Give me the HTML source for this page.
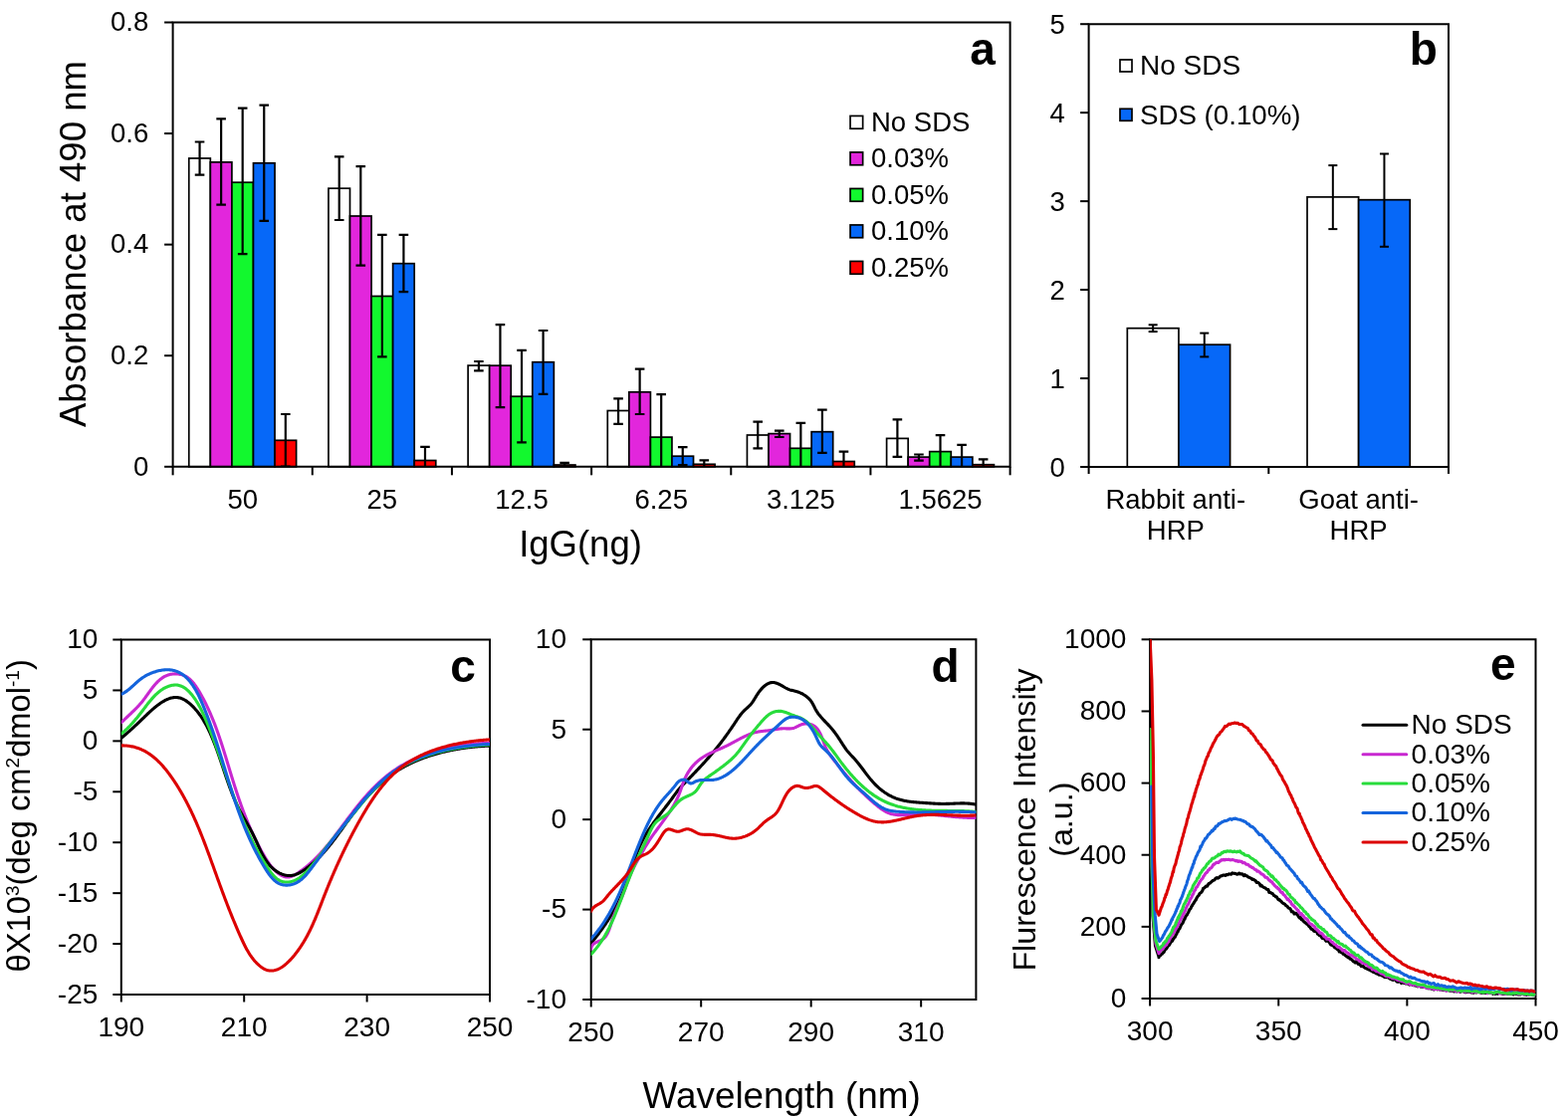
<!DOCTYPE html>
<html><head><meta charset="utf-8"><title>Figure</title>
<style>html,body{margin:0;padding:0;background:#fff;overflow:hidden;width:1575px;height:1123px;}svg{display:block;}text{font-family:"Liberation Sans", Arial, sans-serif;fill:#000;}</style>
</head><body>
<svg width="1575" height="1123" viewBox="0 0 1575 1123">
<rect x="0" y="0" width="1575" height="1123" fill="#fff"/>
<clipPath id="ca"><rect x="173.6" y="22.5" width="841.0" height="446.3"/></clipPath>
<rect x="189.77" y="159.00" width="21.56" height="309.80" fill="#ffffff" stroke="#000" stroke-width="1.7"/>
<rect x="211.34" y="162.90" width="21.56" height="305.90" fill="#e226dc" stroke="#000" stroke-width="1.7"/>
<rect x="232.90" y="183.20" width="21.56" height="285.60" fill="#12f82e" stroke="#000" stroke-width="1.7"/>
<rect x="254.47" y="163.80" width="21.56" height="305.00" fill="#0668f8" stroke="#000" stroke-width="1.7"/>
<rect x="276.03" y="442.30" width="21.56" height="26.50" fill="#ff0000" stroke="#000" stroke-width="1.7"/>
<g clip-path="url(#ca)">
<line x1="200.56" y1="142.50" x2="200.56" y2="175.60" stroke="#000" stroke-width="2.2" />
<line x1="195.76" y1="142.50" x2="205.36" y2="142.50" stroke="#000" stroke-width="2.2" />
<line x1="195.76" y1="175.60" x2="205.36" y2="175.60" stroke="#000" stroke-width="2.2" />
</g>
<g clip-path="url(#ca)">
<line x1="222.12" y1="119.40" x2="222.12" y2="205.70" stroke="#000" stroke-width="2.2" />
<line x1="217.32" y1="119.40" x2="226.92" y2="119.40" stroke="#000" stroke-width="2.2" />
<line x1="217.32" y1="205.70" x2="226.92" y2="205.70" stroke="#000" stroke-width="2.2" />
</g>
<g clip-path="url(#ca)">
<line x1="243.68" y1="108.60" x2="243.68" y2="255.20" stroke="#000" stroke-width="2.2" />
<line x1="238.88" y1="108.60" x2="248.48" y2="108.60" stroke="#000" stroke-width="2.2" />
<line x1="238.88" y1="255.20" x2="248.48" y2="255.20" stroke="#000" stroke-width="2.2" />
</g>
<g clip-path="url(#ca)">
<line x1="265.25" y1="105.70" x2="265.25" y2="221.90" stroke="#000" stroke-width="2.2" />
<line x1="260.45" y1="105.70" x2="270.05" y2="105.70" stroke="#000" stroke-width="2.2" />
<line x1="260.45" y1="221.90" x2="270.05" y2="221.90" stroke="#000" stroke-width="2.2" />
</g>
<g clip-path="url(#ca)">
<line x1="286.81" y1="416.00" x2="286.81" y2="468.60" stroke="#000" stroke-width="2.2" />
<line x1="282.01" y1="416.00" x2="291.61" y2="416.00" stroke="#000" stroke-width="2.2" />
<line x1="282.01" y1="468.60" x2="291.61" y2="468.60" stroke="#000" stroke-width="2.2" />
</g>
<rect x="329.94" y="189.20" width="21.56" height="279.60" fill="#ffffff" stroke="#000" stroke-width="1.7"/>
<rect x="351.50" y="217.00" width="21.56" height="251.80" fill="#e226dc" stroke="#000" stroke-width="1.7"/>
<rect x="373.07" y="297.50" width="21.56" height="171.30" fill="#12f82e" stroke="#000" stroke-width="1.7"/>
<rect x="394.63" y="264.70" width="21.56" height="204.10" fill="#0668f8" stroke="#000" stroke-width="1.7"/>
<rect x="416.20" y="462.50" width="21.56" height="6.30" fill="#ff0000" stroke="#000" stroke-width="1.7"/>
<g clip-path="url(#ca)">
<line x1="340.72" y1="157.40" x2="340.72" y2="221.00" stroke="#000" stroke-width="2.2" />
<line x1="335.92" y1="157.40" x2="345.52" y2="157.40" stroke="#000" stroke-width="2.2" />
<line x1="335.92" y1="221.00" x2="345.52" y2="221.00" stroke="#000" stroke-width="2.2" />
</g>
<g clip-path="url(#ca)">
<line x1="362.29" y1="167.10" x2="362.29" y2="266.60" stroke="#000" stroke-width="2.2" />
<line x1="357.49" y1="167.10" x2="367.09" y2="167.10" stroke="#000" stroke-width="2.2" />
<line x1="357.49" y1="266.60" x2="367.09" y2="266.60" stroke="#000" stroke-width="2.2" />
</g>
<g clip-path="url(#ca)">
<line x1="383.85" y1="235.80" x2="383.85" y2="358.40" stroke="#000" stroke-width="2.2" />
<line x1="379.05" y1="235.80" x2="388.65" y2="235.80" stroke="#000" stroke-width="2.2" />
<line x1="379.05" y1="358.40" x2="388.65" y2="358.40" stroke="#000" stroke-width="2.2" />
</g>
<g clip-path="url(#ca)">
<line x1="405.41" y1="235.80" x2="405.41" y2="293.20" stroke="#000" stroke-width="2.2" />
<line x1="400.61" y1="235.80" x2="410.21" y2="235.80" stroke="#000" stroke-width="2.2" />
<line x1="400.61" y1="293.20" x2="410.21" y2="293.20" stroke="#000" stroke-width="2.2" />
</g>
<g clip-path="url(#ca)">
<line x1="426.98" y1="448.80" x2="426.98" y2="476.00" stroke="#000" stroke-width="2.2" />
<line x1="422.18" y1="448.80" x2="431.78" y2="448.80" stroke="#000" stroke-width="2.2" />
<line x1="422.18" y1="476.00" x2="431.78" y2="476.00" stroke="#000" stroke-width="2.2" />
</g>
<rect x="470.11" y="367.10" width="21.56" height="101.70" fill="#ffffff" stroke="#000" stroke-width="1.7"/>
<rect x="491.67" y="367.20" width="21.56" height="101.60" fill="#e226dc" stroke="#000" stroke-width="1.7"/>
<rect x="513.23" y="398.20" width="21.56" height="70.60" fill="#12f82e" stroke="#000" stroke-width="1.7"/>
<rect x="534.80" y="363.70" width="21.56" height="105.10" fill="#0668f8" stroke="#000" stroke-width="1.7"/>
<rect x="556.36" y="467.00" width="21.56" height="1.80" fill="#ff0000" stroke="#000" stroke-width="1.7"/>
<g clip-path="url(#ca)">
<line x1="480.89" y1="363.00" x2="480.89" y2="372.30" stroke="#000" stroke-width="2.2" />
<line x1="476.09" y1="363.00" x2="485.69" y2="363.00" stroke="#000" stroke-width="2.2" />
<line x1="476.09" y1="372.30" x2="485.69" y2="372.30" stroke="#000" stroke-width="2.2" />
</g>
<g clip-path="url(#ca)">
<line x1="502.45" y1="326.20" x2="502.45" y2="409.10" stroke="#000" stroke-width="2.2" />
<line x1="497.65" y1="326.20" x2="507.25" y2="326.20" stroke="#000" stroke-width="2.2" />
<line x1="497.65" y1="409.10" x2="507.25" y2="409.10" stroke="#000" stroke-width="2.2" />
</g>
<g clip-path="url(#ca)">
<line x1="524.02" y1="351.90" x2="524.02" y2="444.40" stroke="#000" stroke-width="2.2" />
<line x1="519.22" y1="351.90" x2="528.82" y2="351.90" stroke="#000" stroke-width="2.2" />
<line x1="519.22" y1="444.40" x2="528.82" y2="444.40" stroke="#000" stroke-width="2.2" />
</g>
<g clip-path="url(#ca)">
<line x1="545.58" y1="332.00" x2="545.58" y2="395.80" stroke="#000" stroke-width="2.2" />
<line x1="540.78" y1="332.00" x2="550.38" y2="332.00" stroke="#000" stroke-width="2.2" />
<line x1="540.78" y1="395.80" x2="550.38" y2="395.80" stroke="#000" stroke-width="2.2" />
</g>
<g clip-path="url(#ca)">
<line x1="567.14" y1="464.80" x2="567.14" y2="469.00" stroke="#000" stroke-width="2.2" />
<line x1="562.34" y1="464.80" x2="571.94" y2="464.80" stroke="#000" stroke-width="2.2" />
<line x1="562.34" y1="469.00" x2="571.94" y2="469.00" stroke="#000" stroke-width="2.2" />
</g>
<rect x="610.27" y="412.50" width="21.56" height="56.30" fill="#ffffff" stroke="#000" stroke-width="1.7"/>
<rect x="631.84" y="393.80" width="21.56" height="75.00" fill="#e226dc" stroke="#000" stroke-width="1.7"/>
<rect x="653.40" y="439.10" width="21.56" height="29.70" fill="#12f82e" stroke="#000" stroke-width="1.7"/>
<rect x="674.97" y="458.20" width="21.56" height="10.60" fill="#0668f8" stroke="#000" stroke-width="1.7"/>
<rect x="696.53" y="466.30" width="21.56" height="2.50" fill="#ff0000" stroke="#000" stroke-width="1.7"/>
<g clip-path="url(#ca)">
<line x1="621.06" y1="400.40" x2="621.06" y2="425.80" stroke="#000" stroke-width="2.2" />
<line x1="616.26" y1="400.40" x2="625.86" y2="400.40" stroke="#000" stroke-width="2.2" />
<line x1="616.26" y1="425.80" x2="625.86" y2="425.80" stroke="#000" stroke-width="2.2" />
</g>
<g clip-path="url(#ca)">
<line x1="642.62" y1="370.60" x2="642.62" y2="416.00" stroke="#000" stroke-width="2.2" />
<line x1="637.82" y1="370.60" x2="647.42" y2="370.60" stroke="#000" stroke-width="2.2" />
<line x1="637.82" y1="416.00" x2="647.42" y2="416.00" stroke="#000" stroke-width="2.2" />
</g>
<g clip-path="url(#ca)">
<line x1="664.18" y1="396.10" x2="664.18" y2="482.00" stroke="#000" stroke-width="2.2" />
<line x1="659.38" y1="396.10" x2="668.98" y2="396.10" stroke="#000" stroke-width="2.2" />
<line x1="659.38" y1="482.00" x2="668.98" y2="482.00" stroke="#000" stroke-width="2.2" />
</g>
<g clip-path="url(#ca)">
<line x1="685.75" y1="449.20" x2="685.75" y2="467.20" stroke="#000" stroke-width="2.2" />
<line x1="680.95" y1="449.20" x2="690.55" y2="449.20" stroke="#000" stroke-width="2.2" />
<line x1="680.95" y1="467.20" x2="690.55" y2="467.20" stroke="#000" stroke-width="2.2" />
</g>
<g clip-path="url(#ca)">
<line x1="707.31" y1="462.30" x2="707.31" y2="470.00" stroke="#000" stroke-width="2.2" />
<line x1="702.51" y1="462.30" x2="712.11" y2="462.30" stroke="#000" stroke-width="2.2" />
<line x1="702.51" y1="470.00" x2="712.11" y2="470.00" stroke="#000" stroke-width="2.2" />
</g>
<rect x="750.44" y="437.00" width="21.56" height="31.80" fill="#ffffff" stroke="#000" stroke-width="1.7"/>
<rect x="772.00" y="435.60" width="21.56" height="33.20" fill="#e226dc" stroke="#000" stroke-width="1.7"/>
<rect x="793.57" y="450.30" width="21.56" height="18.50" fill="#12f82e" stroke="#000" stroke-width="1.7"/>
<rect x="815.13" y="433.70" width="21.56" height="35.10" fill="#0668f8" stroke="#000" stroke-width="1.7"/>
<rect x="836.70" y="463.50" width="21.56" height="5.30" fill="#ff0000" stroke="#000" stroke-width="1.7"/>
<g clip-path="url(#ca)">
<line x1="761.22" y1="423.70" x2="761.22" y2="450.30" stroke="#000" stroke-width="2.2" />
<line x1="756.42" y1="423.70" x2="766.02" y2="423.70" stroke="#000" stroke-width="2.2" />
<line x1="756.42" y1="450.30" x2="766.02" y2="450.30" stroke="#000" stroke-width="2.2" />
</g>
<g clip-path="url(#ca)">
<line x1="782.79" y1="432.60" x2="782.79" y2="439.00" stroke="#000" stroke-width="2.2" />
<line x1="777.99" y1="432.60" x2="787.59" y2="432.60" stroke="#000" stroke-width="2.2" />
<line x1="777.99" y1="439.00" x2="787.59" y2="439.00" stroke="#000" stroke-width="2.2" />
</g>
<g clip-path="url(#ca)">
<line x1="804.35" y1="424.80" x2="804.35" y2="476.00" stroke="#000" stroke-width="2.2" />
<line x1="799.55" y1="424.80" x2="809.15" y2="424.80" stroke="#000" stroke-width="2.2" />
<line x1="799.55" y1="476.00" x2="809.15" y2="476.00" stroke="#000" stroke-width="2.2" />
</g>
<g clip-path="url(#ca)">
<line x1="825.91" y1="411.60" x2="825.91" y2="454.80" stroke="#000" stroke-width="2.2" />
<line x1="821.11" y1="411.60" x2="830.71" y2="411.60" stroke="#000" stroke-width="2.2" />
<line x1="821.11" y1="454.80" x2="830.71" y2="454.80" stroke="#000" stroke-width="2.2" />
</g>
<g clip-path="url(#ca)">
<line x1="847.48" y1="453.60" x2="847.48" y2="473.40" stroke="#000" stroke-width="2.2" />
<line x1="842.68" y1="453.60" x2="852.28" y2="453.60" stroke="#000" stroke-width="2.2" />
<line x1="842.68" y1="473.40" x2="852.28" y2="473.40" stroke="#000" stroke-width="2.2" />
</g>
<rect x="890.61" y="440.40" width="21.56" height="28.40" fill="#ffffff" stroke="#000" stroke-width="1.7"/>
<rect x="912.17" y="459.10" width="21.56" height="9.70" fill="#e226dc" stroke="#000" stroke-width="1.7"/>
<rect x="933.73" y="453.60" width="21.56" height="15.20" fill="#12f82e" stroke="#000" stroke-width="1.7"/>
<rect x="955.30" y="459.10" width="21.56" height="9.70" fill="#0668f8" stroke="#000" stroke-width="1.7"/>
<rect x="976.86" y="466.70" width="21.56" height="2.10" fill="#ff0000" stroke="#000" stroke-width="1.7"/>
<g clip-path="url(#ca)">
<line x1="901.39" y1="421.30" x2="901.39" y2="458.80" stroke="#000" stroke-width="2.2" />
<line x1="896.59" y1="421.30" x2="906.19" y2="421.30" stroke="#000" stroke-width="2.2" />
<line x1="896.59" y1="458.80" x2="906.19" y2="458.80" stroke="#000" stroke-width="2.2" />
</g>
<g clip-path="url(#ca)">
<line x1="922.95" y1="456.50" x2="922.95" y2="462.70" stroke="#000" stroke-width="2.2" />
<line x1="918.15" y1="456.50" x2="927.75" y2="456.50" stroke="#000" stroke-width="2.2" />
<line x1="918.15" y1="462.70" x2="927.75" y2="462.70" stroke="#000" stroke-width="2.2" />
</g>
<g clip-path="url(#ca)">
<line x1="944.52" y1="437.20" x2="944.52" y2="470.00" stroke="#000" stroke-width="2.2" />
<line x1="939.72" y1="437.20" x2="949.32" y2="437.20" stroke="#000" stroke-width="2.2" />
<line x1="939.72" y1="470.00" x2="949.32" y2="470.00" stroke="#000" stroke-width="2.2" />
</g>
<g clip-path="url(#ca)">
<line x1="966.08" y1="446.90" x2="966.08" y2="471.30" stroke="#000" stroke-width="2.2" />
<line x1="961.28" y1="446.90" x2="970.88" y2="446.90" stroke="#000" stroke-width="2.2" />
<line x1="961.28" y1="471.30" x2="970.88" y2="471.30" stroke="#000" stroke-width="2.2" />
</g>
<g clip-path="url(#ca)">
<line x1="987.64" y1="461.30" x2="987.64" y2="472.00" stroke="#000" stroke-width="2.2" />
<line x1="982.84" y1="461.30" x2="992.44" y2="461.30" stroke="#000" stroke-width="2.2" />
<line x1="982.84" y1="472.00" x2="992.44" y2="472.00" stroke="#000" stroke-width="2.2" />
</g>
<path d="M173.6,468.8 V22.5 H1014.6 V468.8 Z" fill="none" stroke="#000" stroke-width="2"/>
<line x1="165.10" y1="468.80" x2="173.60" y2="468.80" stroke="#000" stroke-width="2" />
<text x="149.20" y="477.50" font-size="27.5" text-anchor="end" font-weight="normal" >0</text>
<line x1="165.10" y1="357.23" x2="173.60" y2="357.23" stroke="#000" stroke-width="2" />
<text x="149.20" y="365.93" font-size="27.5" text-anchor="end" font-weight="normal" >0.2</text>
<line x1="165.10" y1="245.65" x2="173.60" y2="245.65" stroke="#000" stroke-width="2" />
<text x="149.20" y="254.35" font-size="27.5" text-anchor="end" font-weight="normal" >0.4</text>
<line x1="165.10" y1="134.07" x2="173.60" y2="134.07" stroke="#000" stroke-width="2" />
<text x="149.20" y="142.77" font-size="27.5" text-anchor="end" font-weight="normal" >0.6</text>
<line x1="165.10" y1="22.50" x2="173.60" y2="22.50" stroke="#000" stroke-width="2" />
<text x="149.20" y="31.20" font-size="27.5" text-anchor="end" font-weight="normal" >0.8</text>
<line x1="173.60" y1="468.80" x2="173.60" y2="477.30" stroke="#000" stroke-width="2" />
<line x1="313.77" y1="468.80" x2="313.77" y2="477.30" stroke="#000" stroke-width="2" />
<line x1="453.93" y1="468.80" x2="453.93" y2="477.30" stroke="#000" stroke-width="2" />
<line x1="594.10" y1="468.80" x2="594.10" y2="477.30" stroke="#000" stroke-width="2" />
<line x1="734.27" y1="468.80" x2="734.27" y2="477.30" stroke="#000" stroke-width="2" />
<line x1="874.43" y1="468.80" x2="874.43" y2="477.30" stroke="#000" stroke-width="2" />
<line x1="1014.60" y1="468.80" x2="1014.60" y2="477.30" stroke="#000" stroke-width="2" />
<text x="243.68" y="510.80" font-size="27.5" text-anchor="middle" font-weight="normal" >50</text>
<text x="383.85" y="510.80" font-size="27.5" text-anchor="middle" font-weight="normal" >25</text>
<text x="524.02" y="510.80" font-size="27.5" text-anchor="middle" font-weight="normal" >12.5</text>
<text x="664.18" y="510.80" font-size="27.5" text-anchor="middle" font-weight="normal" >6.25</text>
<text x="804.35" y="510.80" font-size="27.5" text-anchor="middle" font-weight="normal" >3.125</text>
<text x="944.52" y="510.80" font-size="27.5" text-anchor="middle" font-weight="normal" >1.5625</text>
<text x="583.00" y="558.50" font-size="36.5" text-anchor="middle" font-weight="normal" >IgG(ng)</text>
<text x="0" y="0" font-size="36.6" text-anchor="middle" transform="translate(85.6,245.05) rotate(-90)">Absorbance at 490 nm</text>
<text x="987.00" y="64.60" font-size="46" text-anchor="middle" font-weight="bold" >a</text>
<rect x="854.05" y="116.45" width="12.60" height="12.80" fill="#ffffff" stroke="#000" stroke-width="1.7"/>
<text x="875.00" y="131.60" font-size="27.5" text-anchor="start" font-weight="normal" >No SDS</text>
<rect x="854.05" y="152.95" width="12.60" height="12.80" fill="#e226dc" stroke="#000" stroke-width="1.7"/>
<text x="875.00" y="168.10" font-size="27.5" text-anchor="start" font-weight="normal" >0.03%</text>
<rect x="854.05" y="189.45" width="12.60" height="12.80" fill="#12f82e" stroke="#000" stroke-width="1.7"/>
<text x="875.00" y="204.60" font-size="27.5" text-anchor="start" font-weight="normal" >0.05%</text>
<rect x="854.05" y="225.95" width="12.60" height="12.80" fill="#0668f8" stroke="#000" stroke-width="1.7"/>
<text x="875.00" y="241.10" font-size="27.5" text-anchor="start" font-weight="normal" >0.10%</text>
<rect x="854.05" y="262.45" width="12.60" height="12.80" fill="#ff0000" stroke="#000" stroke-width="1.7"/>
<text x="875.00" y="277.60" font-size="27.5" text-anchor="start" font-weight="normal" >0.25%</text>
<rect x="1132.32" y="329.70" width="51.63" height="139.30" fill="#ffffff" stroke="#000" stroke-width="1.7"/>
<rect x="1183.95" y="346.20" width="51.63" height="122.80" fill="#0668f8" stroke="#000" stroke-width="1.7"/>
<line x1="1158.14" y1="326.30" x2="1158.14" y2="333.10" stroke="#000" stroke-width="2.0" />
<line x1="1153.64" y1="326.30" x2="1162.64" y2="326.30" stroke="#000" stroke-width="2.0" />
<line x1="1153.64" y1="333.10" x2="1162.64" y2="333.10" stroke="#000" stroke-width="2.0" />
<line x1="1209.76" y1="334.60" x2="1209.76" y2="358.40" stroke="#000" stroke-width="2.0" />
<line x1="1205.26" y1="334.60" x2="1214.26" y2="334.60" stroke="#000" stroke-width="2.0" />
<line x1="1205.26" y1="358.40" x2="1214.26" y2="358.40" stroke="#000" stroke-width="2.0" />
<rect x="1313.02" y="197.90" width="51.63" height="271.10" fill="#ffffff" stroke="#000" stroke-width="1.7"/>
<rect x="1364.65" y="200.70" width="51.63" height="268.30" fill="#0668f8" stroke="#000" stroke-width="1.7"/>
<line x1="1338.84" y1="166.10" x2="1338.84" y2="230.10" stroke="#000" stroke-width="2.0" />
<line x1="1334.34" y1="166.10" x2="1343.34" y2="166.10" stroke="#000" stroke-width="2.0" />
<line x1="1334.34" y1="230.10" x2="1343.34" y2="230.10" stroke="#000" stroke-width="2.0" />
<line x1="1390.46" y1="154.50" x2="1390.46" y2="247.80" stroke="#000" stroke-width="2.0" />
<line x1="1385.96" y1="154.50" x2="1394.96" y2="154.50" stroke="#000" stroke-width="2.0" />
<line x1="1385.96" y1="247.80" x2="1394.96" y2="247.80" stroke="#000" stroke-width="2.0" />
<path d="M1093.6,469.0 V24.2 H1455.0 V469.0 Z" fill="none" stroke="#000" stroke-width="2"/>
<line x1="1085.10" y1="469.00" x2="1093.60" y2="469.00" stroke="#000" stroke-width="2" />
<text x="1069.80" y="478.60" font-size="27.5" text-anchor="end" font-weight="normal" >0</text>
<line x1="1085.10" y1="380.04" x2="1093.60" y2="380.04" stroke="#000" stroke-width="2" />
<text x="1069.80" y="389.64" font-size="27.5" text-anchor="end" font-weight="normal" >1</text>
<line x1="1085.10" y1="291.08" x2="1093.60" y2="291.08" stroke="#000" stroke-width="2" />
<text x="1069.80" y="300.68" font-size="27.5" text-anchor="end" font-weight="normal" >2</text>
<line x1="1085.10" y1="202.12" x2="1093.60" y2="202.12" stroke="#000" stroke-width="2" />
<text x="1069.80" y="211.72" font-size="27.5" text-anchor="end" font-weight="normal" >3</text>
<line x1="1085.10" y1="113.16" x2="1093.60" y2="113.16" stroke="#000" stroke-width="2" />
<text x="1069.80" y="122.76" font-size="27.5" text-anchor="end" font-weight="normal" >4</text>
<line x1="1085.10" y1="24.20" x2="1093.60" y2="24.20" stroke="#000" stroke-width="2" />
<text x="1069.80" y="33.80" font-size="27.5" text-anchor="end" font-weight="normal" >5</text>
<line x1="1093.60" y1="469.00" x2="1093.60" y2="476.00" stroke="#000" stroke-width="2" />
<line x1="1274.30" y1="469.00" x2="1274.30" y2="476.00" stroke="#000" stroke-width="2" />
<line x1="1455.00" y1="469.00" x2="1455.00" y2="476.00" stroke="#000" stroke-width="2" />
<text x="1180.80" y="511.30" font-size="27.5" text-anchor="middle" font-weight="normal" >Rabbit anti-</text>
<text x="1180.80" y="541.70" font-size="27.5" text-anchor="middle" font-weight="normal" >HRP</text>
<text x="1364.65" y="511.30" font-size="27.5" text-anchor="middle" font-weight="normal" >Goat anti-</text>
<text x="1364.65" y="541.70" font-size="27.5" text-anchor="middle" font-weight="normal" >HRP</text>
<text x="1429.70" y="64.90" font-size="46" text-anchor="middle" font-weight="bold" >b</text>
<rect x="1125.00" y="60.00" width="12.00" height="12.00" fill="#ffffff" stroke="#000" stroke-width="1.7"/>
<text x="1145.00" y="75.20" font-size="28" text-anchor="start" font-weight="normal" >No SDS</text>
<rect x="1125.00" y="109.30" width="12.00" height="12.00" fill="#0668f8" stroke="#000" stroke-width="1.7"/>
<text x="1145.00" y="124.70" font-size="27.7" text-anchor="start" font-weight="normal" >SDS (0.10%)</text>
<clipPath id="cc"><rect x="121.8" y="642.5" width="370.2" height="356.5"/></clipPath>
<path d="M121.8,999.0 V642.5 H492.0 V999.0 Z" fill="none" stroke="#000" stroke-width="2"/>
<line x1="113.30" y1="642.50" x2="121.80" y2="642.50" stroke="#000" stroke-width="2" />
<text x="98.30" y="651.30" font-size="28" text-anchor="end" font-weight="normal" >10</text>
<line x1="113.30" y1="693.43" x2="121.80" y2="693.43" stroke="#000" stroke-width="2" />
<text x="98.30" y="702.23" font-size="28" text-anchor="end" font-weight="normal" >5</text>
<line x1="113.30" y1="744.36" x2="121.80" y2="744.36" stroke="#000" stroke-width="2" />
<text x="98.30" y="753.16" font-size="28" text-anchor="end" font-weight="normal" >0</text>
<line x1="113.30" y1="795.29" x2="121.80" y2="795.29" stroke="#000" stroke-width="2" />
<text x="98.30" y="804.09" font-size="28" text-anchor="end" font-weight="normal" >-5</text>
<line x1="113.30" y1="846.21" x2="121.80" y2="846.21" stroke="#000" stroke-width="2" />
<text x="98.30" y="855.01" font-size="28" text-anchor="end" font-weight="normal" >-10</text>
<line x1="113.30" y1="897.14" x2="121.80" y2="897.14" stroke="#000" stroke-width="2" />
<text x="98.30" y="905.94" font-size="28" text-anchor="end" font-weight="normal" >-15</text>
<line x1="113.30" y1="948.07" x2="121.80" y2="948.07" stroke="#000" stroke-width="2" />
<text x="98.30" y="956.87" font-size="28" text-anchor="end" font-weight="normal" >-20</text>
<line x1="113.30" y1="999.00" x2="121.80" y2="999.00" stroke="#000" stroke-width="2" />
<text x="98.30" y="1007.80" font-size="28" text-anchor="end" font-weight="normal" >-25</text>
<line x1="121.80" y1="999.00" x2="121.80" y2="1006.50" stroke="#000" stroke-width="2" />
<text x="121.80" y="1040.50" font-size="28" text-anchor="middle" font-weight="normal" >190</text>
<line x1="245.20" y1="999.00" x2="245.20" y2="1006.50" stroke="#000" stroke-width="2" />
<text x="245.20" y="1040.50" font-size="28" text-anchor="middle" font-weight="normal" >210</text>
<line x1="368.60" y1="999.00" x2="368.60" y2="1006.50" stroke="#000" stroke-width="2" />
<text x="368.60" y="1040.50" font-size="28" text-anchor="middle" font-weight="normal" >230</text>
<line x1="492.00" y1="999.00" x2="492.00" y2="1006.50" stroke="#000" stroke-width="2" />
<text x="492.00" y="1040.50" font-size="28" text-anchor="middle" font-weight="normal" >250</text>
<text x="465.00" y="685.20" font-size="46" text-anchor="middle" font-weight="bold" >c</text>
<clipPath id="cd"><rect x="593.7" y="642.3" width="386.69999999999993" height="361.70000000000005"/></clipPath>
<path d="M593.7,1004.0 V642.3 H980.4 V1004.0 Z" fill="none" stroke="#000" stroke-width="2"/>
<line x1="585.20" y1="642.30" x2="593.70" y2="642.30" stroke="#000" stroke-width="2" />
<text x="569.00" y="651.10" font-size="28" text-anchor="end" font-weight="normal" >10</text>
<line x1="585.20" y1="732.72" x2="593.70" y2="732.72" stroke="#000" stroke-width="2" />
<text x="569.00" y="741.52" font-size="28" text-anchor="end" font-weight="normal" >5</text>
<line x1="585.20" y1="823.15" x2="593.70" y2="823.15" stroke="#000" stroke-width="2" />
<text x="569.00" y="831.95" font-size="28" text-anchor="end" font-weight="normal" >0</text>
<line x1="585.20" y1="913.58" x2="593.70" y2="913.58" stroke="#000" stroke-width="2" />
<text x="569.00" y="922.38" font-size="28" text-anchor="end" font-weight="normal" >-5</text>
<line x1="585.20" y1="1004.00" x2="593.70" y2="1004.00" stroke="#000" stroke-width="2" />
<text x="569.00" y="1012.80" font-size="28" text-anchor="end" font-weight="normal" >-10</text>
<line x1="593.70" y1="1004.00" x2="593.70" y2="1011.50" stroke="#000" stroke-width="2" />
<text x="593.70" y="1045.50" font-size="28" text-anchor="middle" font-weight="normal" >250</text>
<line x1="704.19" y1="1004.00" x2="704.19" y2="1011.50" stroke="#000" stroke-width="2" />
<text x="704.19" y="1045.50" font-size="28" text-anchor="middle" font-weight="normal" >270</text>
<line x1="814.67" y1="1004.00" x2="814.67" y2="1011.50" stroke="#000" stroke-width="2" />
<text x="814.67" y="1045.50" font-size="28" text-anchor="middle" font-weight="normal" >290</text>
<line x1="925.16" y1="1004.00" x2="925.16" y2="1011.50" stroke="#000" stroke-width="2" />
<text x="925.16" y="1045.50" font-size="28" text-anchor="middle" font-weight="normal" >310</text>
<text x="949.50" y="685.40" font-size="46" text-anchor="middle" font-weight="bold" >d</text>
<clipPath id="ce"><rect x="1155.1" y="642.3" width="387.4000000000001" height="360.70000000000005"/></clipPath>
<path d="M1155.1,1003.0 V642.3 H1542.5 V1003.0 Z" fill="none" stroke="#000" stroke-width="2"/>
<line x1="1146.60" y1="642.30" x2="1155.10" y2="642.30" stroke="#000" stroke-width="2" />
<text x="1131.40" y="651.10" font-size="28" text-anchor="end" font-weight="normal" >1000</text>
<line x1="1146.60" y1="714.44" x2="1155.10" y2="714.44" stroke="#000" stroke-width="2" />
<text x="1131.40" y="723.24" font-size="28" text-anchor="end" font-weight="normal" >800</text>
<line x1="1146.60" y1="786.58" x2="1155.10" y2="786.58" stroke="#000" stroke-width="2" />
<text x="1131.40" y="795.38" font-size="28" text-anchor="end" font-weight="normal" >600</text>
<line x1="1146.60" y1="858.72" x2="1155.10" y2="858.72" stroke="#000" stroke-width="2" />
<text x="1131.40" y="867.52" font-size="28" text-anchor="end" font-weight="normal" >400</text>
<line x1="1146.60" y1="930.86" x2="1155.10" y2="930.86" stroke="#000" stroke-width="2" />
<text x="1131.40" y="939.66" font-size="28" text-anchor="end" font-weight="normal" >200</text>
<line x1="1146.60" y1="1003.00" x2="1155.10" y2="1003.00" stroke="#000" stroke-width="2" />
<text x="1131.40" y="1011.80" font-size="28" text-anchor="end" font-weight="normal" >0</text>
<line x1="1155.10" y1="1003.00" x2="1155.10" y2="1010.50" stroke="#000" stroke-width="2" />
<text x="1155.10" y="1044.50" font-size="28" text-anchor="middle" font-weight="normal" >300</text>
<line x1="1284.23" y1="1003.00" x2="1284.23" y2="1010.50" stroke="#000" stroke-width="2" />
<text x="1284.23" y="1044.50" font-size="28" text-anchor="middle" font-weight="normal" >350</text>
<line x1="1413.37" y1="1003.00" x2="1413.37" y2="1010.50" stroke="#000" stroke-width="2" />
<text x="1413.37" y="1044.50" font-size="28" text-anchor="middle" font-weight="normal" >400</text>
<line x1="1542.50" y1="1003.00" x2="1542.50" y2="1010.50" stroke="#000" stroke-width="2" />
<text x="1542.50" y="1044.50" font-size="28" text-anchor="middle" font-weight="normal" >450</text>
<text x="1509.90" y="683.30" font-size="46" text-anchor="middle" font-weight="bold" >e</text>
<text x="0" y="0" font-size="32.7" text-anchor="middle" transform="translate(29.9,819.3) rotate(-90)">θX10<tspan font-size="19" dy="-11">3</tspan><tspan dy="11">(deg cm</tspan><tspan font-size="19" dy="-11">2</tspan><tspan dy="11">dmol</tspan><tspan font-size="19" dy="-11">-1</tspan><tspan dy="11">)</tspan></text>
<text x="0" y="0" font-size="32.2" text-anchor="middle" transform="translate(1039.5,823.5) rotate(-90)">Flurescence Intensity</text>
<text x="0" y="0" font-size="32.2" text-anchor="middle" transform="translate(1077,823.2) rotate(-90)">(a.u.)</text>
<text x="0" y="0" font-size="37.8" text-anchor="middle" transform="translate(785.2,1113.4) scale(0.975,1)">Wavelength (nm)</text>
<line x1="1369.00" y1="728.30" x2="1412.80" y2="728.30" stroke="#000000" stroke-width="3" stroke-linecap="round"/>
<text x="1417.60" y="737.20" font-size="28" text-anchor="start" font-weight="normal" >No SDS</text>
<line x1="1369.00" y1="757.70" x2="1412.80" y2="757.70" stroke="#c828d0" stroke-width="3" stroke-linecap="round"/>
<text x="1417.60" y="766.60" font-size="28" text-anchor="start" font-weight="normal" >0.03%</text>
<line x1="1369.00" y1="787.10" x2="1412.80" y2="787.10" stroke="#28dc3c" stroke-width="3" stroke-linecap="round"/>
<text x="1417.60" y="796.00" font-size="28" text-anchor="start" font-weight="normal" >0.05%</text>
<line x1="1369.00" y1="816.50" x2="1412.80" y2="816.50" stroke="#1464dc" stroke-width="3" stroke-linecap="round"/>
<text x="1417.60" y="825.40" font-size="28" text-anchor="start" font-weight="normal" >0.10%</text>
<line x1="1369.00" y1="845.90" x2="1412.80" y2="845.90" stroke="#dc0000" stroke-width="3" stroke-linecap="round"/>
<text x="1417.60" y="854.80" font-size="28" text-anchor="start" font-weight="normal" >0.25%</text>
<path d="M122.26,725.48 L122.98,724.76 L123.70,724.06 L124.41,723.36 L125.12,722.68 L125.83,722.00 L126.53,721.33 L127.23,720.66 L127.93,720.00 L128.62,719.35 L129.31,718.70 L130.00,718.05 L130.68,717.41 L131.35,716.77 L132.03,716.13 L132.70,715.49 L133.37,714.85 L134.03,714.21 L134.69,713.56 L135.34,712.92 L135.99,712.27 L136.64,711.62 L137.28,710.96 L137.92,710.29 L138.56,709.62 L139.19,708.94 L139.81,708.25 L140.43,707.56 L141.05,706.85 L141.66,706.14 L142.27,705.41 L142.88,704.67 L143.48,703.92 L144.07,703.16 L144.66,702.38 L145.25,701.60 L145.84,700.80 L146.42,700.00 L147.00,699.19 L147.59,698.38 L148.17,697.57 L148.75,696.75 L149.34,695.93 L149.93,695.11 L150.52,694.30 L151.11,693.48 L151.71,692.68 L152.31,691.87 L152.91,691.08 L153.53,690.29 L154.14,689.52 L154.77,688.75 L155.40,688.00 L156.05,687.26 L156.70,686.53 L157.36,685.82 L158.03,685.13 L158.71,684.46 L159.41,683.81 L160.11,683.18 L160.83,682.57 L161.56,681.99 L162.31,681.43 L163.07,680.90 L163.84,680.40 L164.63,679.92 L165.44,679.48 L166.27,679.07 L167.11,678.69 L167.97,678.35 L168.85,678.05 L169.75,677.77 L170.66,677.54 L171.59,677.34 L172.52,677.18 L173.46,677.06 L174.41,676.97 L175.36,676.92 L176.32,676.90 L177.27,676.93 L178.21,676.99 L179.15,677.08 L180.09,677.22 L181.01,677.39 L181.92,677.60 L182.82,677.85 L183.69,678.13 L184.55,678.45 L185.39,678.81 L186.20,679.21 L187.00,679.65 L187.77,680.11 L188.52,680.61 L189.25,681.15 L189.97,681.71 L190.67,682.30 L191.35,682.91 L192.01,683.55 L192.66,684.22 L193.29,684.91 L193.91,685.62 L194.51,686.35 L195.10,687.09 L195.68,687.86 L196.25,688.64 L196.81,689.43 L197.35,690.24 L197.89,691.05 L198.42,691.88 L198.94,692.71 L199.45,693.55 L199.96,694.40 L200.45,695.25 L200.95,696.10 L201.44,696.95 L201.92,697.81 L202.40,698.66 L202.87,699.52 L203.34,700.38 L203.80,701.24 L204.26,702.10 L204.72,702.97 L205.16,703.83 L205.61,704.70 L206.05,705.57 L206.48,706.44 L206.92,707.31 L207.34,708.18 L207.76,709.06 L208.18,709.93 L208.60,710.81 L209.01,711.69 L209.41,712.57 L209.81,713.45 L210.21,714.33 L210.61,715.21 L211.00,716.10 L211.38,716.98 L211.76,717.87 L212.14,718.76 L212.52,719.64 L212.89,720.53 L213.26,721.42 L213.62,722.32 L213.99,723.21 L214.34,724.10 L214.70,725.00 L215.05,725.89 L215.40,726.79 L215.75,727.68 L216.09,728.58 L216.43,729.48 L216.77,730.38 L217.10,731.28 L217.43,732.18 L217.76,733.08 L218.09,733.98 L218.41,734.89 L218.74,735.79 L219.06,736.69 L219.37,737.60 L219.69,738.50 L220.00,739.41 L220.31,740.31 L220.62,741.22 L220.93,742.13 L221.23,743.04 L221.53,743.94 L221.83,744.85 L222.13,745.76 L222.43,746.67 L222.72,747.58 L223.02,748.49 L223.31,749.40 L223.60,750.30 L223.89,751.21 L224.18,752.12 L224.47,753.03 L224.75,753.94 L225.04,754.85 L225.32,755.77 L225.60,756.68 L225.88,757.59 L226.16,758.50 L226.44,759.41 L226.72,760.32 L227.00,761.23 L227.28,762.14 L227.56,763.05 L227.83,763.96 L228.11,764.87 L228.38,765.78 L228.66,766.68 L228.93,767.59 L229.21,768.50 L229.48,769.41 L229.76,770.32 L230.03,771.22 L230.31,772.13 L230.58,773.04 L230.86,773.94 L231.13,774.85 L231.41,775.76 L231.68,776.66 L231.96,777.56 L232.24,778.47 L232.51,779.37 L232.79,780.27 L233.07,781.18 L233.35,782.08 L233.63,782.98 L233.91,783.88 L234.19,784.78 L234.47,785.68 L234.75,786.58 L235.04,787.48 L235.32,788.37 L235.61,789.27 L235.89,790.17 L236.18,791.06 L236.47,791.96 L236.76,792.85 L237.05,793.75 L237.34,794.64 L237.64,795.54 L237.93,796.43 L238.23,797.33 L238.52,798.22 L238.82,799.11 L239.12,800.00 L239.43,800.89 L239.73,801.79 L240.04,802.68 L240.34,803.57 L240.65,804.46 L240.96,805.35 L241.28,806.24 L241.59,807.12 L241.91,808.01 L242.22,808.90 L242.55,809.79 L242.87,810.68 L243.19,811.56 L243.52,812.45 L243.85,813.34 L244.18,814.22 L244.51,815.11 L244.85,815.99 L245.19,816.88 L245.53,817.77 L245.87,818.65 L246.21,819.53 L246.56,820.42 L246.91,821.30 L247.26,822.19 L247.62,823.07 L247.98,823.95 L248.34,824.84 L248.70,825.72 L249.07,826.60 L249.44,827.48 L249.81,828.36 L250.19,829.25 L250.57,830.13 L250.95,831.01 L251.33,831.89 L251.72,832.77 L252.11,833.65 L252.51,834.53 L252.90,835.41 L253.30,836.29 L253.71,837.17 L254.12,838.05 L254.53,838.93 L254.94,839.81 L255.36,840.69 L255.78,841.57 L256.21,842.45 L256.64,843.33 L257.07,844.21 L257.51,845.09 L257.95,845.97 L258.39,846.85 L258.84,847.72 L259.29,848.60 L259.75,849.48 L260.21,850.36 L260.67,851.24 L261.14,852.12 L261.61,852.99 L262.09,853.87 L262.57,854.75 L263.05,855.63 L263.54,856.51 L264.04,857.38 L264.54,858.26 L265.04,859.13 L265.55,860.00 L266.06,860.87 L266.58,861.73 L267.11,862.59 L267.65,863.44 L268.19,864.28 L268.73,865.11 L269.29,865.94 L269.85,866.75 L270.42,867.55 L271.00,868.35 L271.59,869.12 L272.19,869.89 L272.79,870.64 L273.41,871.38 L274.03,872.10 L274.67,872.80 L275.31,873.48 L275.97,874.15 L276.64,874.79 L277.32,875.42 L278.01,876.02 L278.71,876.61 L279.42,877.17 L280.15,877.70 L280.89,878.21 L281.64,878.70 L282.40,879.15 L283.17,879.56 L283.95,879.94 L284.75,880.27 L285.54,880.55 L286.35,880.77 L287.16,880.93 L287.97,881.02 L288.79,881.05 L289.61,881.01 L290.44,880.90 L291.26,880.72 L292.09,880.50 L292.91,880.22 L293.73,879.89 L294.56,879.52 L295.38,879.12 L296.19,878.68 L297.01,878.22 L297.82,877.73 L298.62,877.23 L299.42,876.71 L300.22,876.18 L301.00,875.65 L301.78,875.11 L302.56,874.56 L303.33,874.00 L304.09,873.44 L304.85,872.87 L305.60,872.30 L306.35,871.72 L307.09,871.13 L307.83,870.54 L308.56,869.94 L309.28,869.33 L310.00,868.72 L310.72,868.10 L311.43,867.48 L312.13,866.85 L312.83,866.22 L313.53,865.58 L314.22,864.93 L314.91,864.28 L315.59,863.63 L316.27,862.97 L316.94,862.30 L317.61,861.63 L318.28,860.96 L318.94,860.28 L319.60,859.59 L320.25,858.91 L320.90,858.21 L321.55,857.52 L322.19,856.82 L322.83,856.11 L323.47,855.40 L324.10,854.69 L324.73,853.98 L325.36,853.26 L325.99,852.53 L326.61,851.81 L327.23,851.08 L327.84,850.35 L328.46,849.61 L329.07,848.87 L329.68,848.13 L330.28,847.39 L330.89,846.64 L331.49,845.89 L332.09,845.14 L332.69,844.39 L333.28,843.63 L333.88,842.87 L334.47,842.11 L335.06,841.35 L335.65,840.59 L336.24,839.82 L336.83,839.06 L337.42,838.29 L338.00,837.52 L338.59,836.75 L339.17,835.98 L339.75,835.20 L340.33,834.43 L340.91,833.65 L341.49,832.88 L342.07,832.10 L342.65,831.32 L343.23,830.55 L343.81,829.77 L344.39,828.99 L344.97,828.21 L345.55,827.43 L346.13,826.65 L346.70,825.88 L347.28,825.10 L347.86,824.32 L348.44,823.54 L349.03,822.77 L349.61,821.99 L350.19,821.22 L350.77,820.44 L351.36,819.67 L351.94,818.90 L352.53,818.13 L353.12,817.36 L353.71,816.59 L354.30,815.82 L354.89,815.05 L355.48,814.29 L356.08,813.53 L356.67,812.77 L357.27,812.01 L357.87,811.25 L358.47,810.50 L359.07,809.74 L359.68,808.99 L360.28,808.24 L360.89,807.50 L361.50,806.75 L362.11,806.01 L362.73,805.27 L363.34,804.53 L363.96,803.80 L364.58,803.07 L365.21,802.34 L365.83,801.61 L366.46,800.89 L367.09,800.17 L367.72,799.45 L368.36,798.73 L368.99,798.02 L369.63,797.31 L370.28,796.61 L370.92,795.91 L371.57,795.21 L372.22,794.51 L372.87,793.82 L373.53,793.13 L374.19,792.45 L374.85,791.77 L375.52,791.09 L376.19,790.42 L376.86,789.75 L377.54,789.09 L378.21,788.43 L378.90,787.77 L379.58,787.12 L380.27,786.47 L380.96,785.83 L381.66,785.19 L382.36,784.56 L383.06,783.93 L383.77,783.30 L384.48,782.68 L385.20,782.07 L385.91,781.46 L386.64,780.86 L387.36,780.26 L388.09,779.66 L388.83,779.07 L389.57,778.49 L390.31,777.91 L391.06,777.34 L391.81,776.77 L392.57,776.21 L393.33,775.65 L394.09,775.10 L394.86,774.56 L395.63,774.02 L396.41,773.48 L397.19,772.96 L397.98,772.44 L398.77,771.92 L399.57,771.41 L400.37,770.91 L401.17,770.41 L401.98,769.92 L402.79,769.43 L403.61,768.95 L404.43,768.47 L405.25,768.00 L406.08,767.54 L406.91,767.08 L407.75,766.63 L408.59,766.18 L409.43,765.74 L410.28,765.30 L411.13,764.87 L411.98,764.45 L412.84,764.03 L413.70,763.61 L414.56,763.21 L415.42,762.80 L416.29,762.40 L417.17,762.01 L418.04,761.62 L418.92,761.24 L419.80,760.87 L420.68,760.49 L421.57,760.13 L422.46,759.77 L423.35,759.41 L424.25,759.06 L425.14,758.72 L426.04,758.38 L426.95,758.04 L427.85,757.71 L428.76,757.39 L429.67,757.07 L430.58,756.76 L431.49,756.45 L432.41,756.14 L433.32,755.85 L434.24,755.55 L435.16,755.26 L436.09,754.98 L437.01,754.70 L437.94,754.43 L438.87,754.16 L439.80,753.89 L440.73,753.63 L441.66,753.38 L442.60,753.13 L443.53,752.88 L444.47,752.64 L445.41,752.41 L446.35,752.18 L447.29,751.95 L448.23,751.73 L449.17,751.51 L450.12,751.30 L451.06,751.10 L452.01,750.89 L452.95,750.70 L453.90,750.50 L454.85,750.31 L455.80,750.13 L456.75,749.95 L457.70,749.78 L458.65,749.61 L459.60,749.44 L460.55,749.28 L461.50,749.12 L462.45,748.97 L463.40,748.82 L464.35,748.68 L465.30,748.54 L466.26,748.40 L467.21,748.27 L468.16,748.14 L469.11,748.02 L470.06,747.90 L471.01,747.79 L471.96,747.68 L472.91,747.58 L473.86,747.48 L474.81,747.38 L475.76,747.29 L476.71,747.20 L477.65,747.11 L478.60,747.03 L479.54,746.96 L480.49,746.88 L481.43,746.82 L482.37,746.75 L483.32,746.69 L484.26,746.64 L485.20,746.58 L486.13,746.53 L487.07,746.49 L488.01,746.45 L488.94,746.41 L489.87,746.38 L490.80,746.35 L491.73,746.33" fill="none" stroke="#c828d0" stroke-width="3.1" stroke-linejoin="round" stroke-linecap="round" clip-path="url(#cc)"/>
<path d="M122.28,741.01 L123.05,740.35 L123.81,739.71 L124.54,739.08 L125.27,738.46 L125.98,737.84 L126.68,737.24 L127.37,736.64 L128.04,736.05 L128.71,735.46 L129.37,734.88 L130.02,734.31 L130.66,733.74 L131.29,733.17 L131.92,732.60 L132.54,732.04 L133.16,731.48 L133.78,730.92 L134.39,730.35 L135.00,729.79 L135.61,729.23 L136.22,728.66 L136.83,728.09 L137.44,727.52 L138.05,726.94 L138.67,726.36 L139.29,725.77 L139.91,725.18 L140.54,724.57 L141.17,723.97 L141.82,723.35 L142.46,722.72 L143.12,722.08 L143.79,721.44 L144.46,720.78 L145.14,720.12 L145.83,719.46 L146.53,718.79 L147.23,718.11 L147.94,717.43 L148.66,716.75 L149.38,716.08 L150.11,715.40 L150.85,714.72 L151.59,714.05 L152.34,713.38 L153.09,712.71 L153.85,712.05 L154.61,711.40 L155.37,710.76 L156.14,710.13 L156.92,709.50 L157.69,708.89 L158.48,708.29 L159.26,707.71 L160.05,707.14 L160.84,706.58 L161.63,706.05 L162.42,705.53 L163.22,705.03 L164.02,704.55 L164.82,704.09 L165.62,703.65 L166.42,703.24 L167.22,702.85 L168.02,702.49 L168.83,702.16 L169.63,701.85 L170.43,701.57 L171.24,701.32 L172.04,701.11 L172.84,700.92 L173.64,700.77 L174.44,700.65 L175.23,700.57 L176.03,700.53 L176.82,700.52 L177.61,700.55 L178.39,700.62 L179.18,700.73 L179.96,700.89 L180.74,701.08 L181.51,701.31 L182.28,701.58 L183.04,701.89 L183.80,702.23 L184.56,702.60 L185.31,703.00 L186.05,703.43 L186.79,703.89 L187.52,704.38 L188.24,704.89 L188.96,705.42 L189.67,705.98 L190.37,706.56 L191.06,707.16 L191.75,707.77 L192.43,708.40 L193.09,709.05 L193.75,709.71 L194.40,710.38 L195.04,711.06 L195.67,711.74 L196.29,712.44 L196.89,713.14 L197.49,713.85 L198.08,714.57 L198.65,715.29 L199.22,716.01 L199.78,716.74 L200.32,717.48 L200.86,718.22 L201.39,718.97 L201.91,719.72 L202.42,720.48 L202.92,721.24 L203.42,722.01 L203.90,722.78 L204.38,723.56 L204.85,724.34 L205.31,725.12 L205.77,725.91 L206.22,726.70 L206.66,727.50 L207.09,728.29 L207.52,729.10 L207.94,729.90 L208.35,730.71 L208.76,731.52 L209.17,732.34 L209.56,733.16 L209.96,733.98 L210.34,734.80 L210.73,735.63 L211.10,736.45 L211.47,737.28 L211.84,738.11 L212.21,738.95 L212.57,739.78 L212.92,740.62 L213.27,741.46 L213.62,742.30 L213.97,743.14 L214.31,743.98 L214.65,744.82 L214.98,745.67 L215.32,746.51 L215.65,747.36 L215.97,748.21 L216.30,749.06 L216.62,749.91 L216.94,750.76 L217.25,751.61 L217.57,752.46 L217.88,753.32 L218.19,754.17 L218.49,755.02 L218.80,755.88 L219.10,756.74 L219.40,757.59 L219.70,758.45 L220.00,759.31 L220.30,760.17 L220.59,761.02 L220.89,761.88 L221.18,762.74 L221.47,763.60 L221.76,764.46 L222.05,765.32 L222.34,766.18 L222.63,767.04 L222.92,767.90 L223.21,768.76 L223.49,769.62 L223.78,770.48 L224.07,771.34 L224.35,772.20 L224.64,773.06 L224.93,773.92 L225.21,774.78 L225.50,775.63 L225.79,776.49 L226.07,777.35 L226.36,778.21 L226.65,779.06 L226.94,779.92 L227.23,780.77 L227.52,781.63 L227.82,782.48 L228.11,783.33 L228.40,784.18 L228.70,785.03 L229.00,785.88 L229.30,786.73 L229.60,787.58 L229.90,788.43 L230.21,789.27 L230.51,790.12 L230.82,790.96 L231.13,791.80 L231.45,792.64 L231.76,793.48 L232.08,794.32 L232.40,795.16 L232.72,795.99 L233.05,796.83 L233.38,797.66 L233.71,798.49 L234.04,799.32 L234.38,800.15 L234.72,800.97 L235.06,801.80 L235.41,802.62 L235.76,803.44 L236.12,804.26 L236.47,805.07 L236.84,805.89 L237.20,806.70 L237.57,807.51 L237.95,808.31 L238.33,809.12 L238.71,809.92 L239.09,810.72 L239.49,811.52 L239.88,812.32 L240.28,813.11 L240.69,813.90 L241.10,814.69 L241.51,815.48 L241.93,816.26 L242.36,817.04 L242.79,817.82 L243.22,818.60 L243.65,819.38 L244.09,820.16 L244.53,820.93 L244.97,821.71 L245.41,822.48 L245.86,823.25 L246.31,824.03 L246.75,824.80 L247.20,825.57 L247.65,826.35 L248.10,827.12 L248.55,827.90 L249.00,828.68 L249.44,829.46 L249.89,830.24 L250.33,831.02 L250.77,831.80 L251.21,832.59 L251.65,833.38 L252.08,834.17 L252.51,834.97 L252.94,835.77 L253.36,836.57 L253.78,837.37 L254.19,838.18 L254.60,839.00 L255.01,839.82 L255.40,840.64 L255.80,841.46 L256.18,842.29 L256.57,843.13 L256.95,843.96 L257.33,844.80 L257.70,845.64 L258.08,846.49 L258.45,847.33 L258.82,848.17 L259.20,849.02 L259.57,849.86 L259.95,850.70 L260.33,851.54 L260.71,852.38 L261.09,853.22 L261.48,854.05 L261.87,854.88 L262.27,855.71 L262.68,856.53 L263.09,857.35 L263.51,858.16 L263.94,858.97 L264.37,859.77 L264.82,860.57 L265.27,861.35 L265.74,862.13 L266.22,862.91 L266.70,863.67 L267.21,864.43 L267.72,865.17 L268.25,865.91 L268.79,866.63 L269.34,867.35 L269.92,868.05 L270.50,868.74 L271.11,869.42 L271.73,870.09 L272.37,870.74 L273.03,871.38 L273.71,872.01 L274.40,872.62 L275.11,873.21 L275.83,873.78 L276.57,874.33 L277.32,874.86 L278.08,875.37 L278.85,875.86 L279.64,876.32 L280.43,876.76 L281.24,877.17 L282.05,877.55 L282.87,877.90 L283.69,878.22 L284.52,878.51 L285.36,878.76 L286.19,878.99 L287.04,879.17 L287.88,879.32 L288.72,879.44 L289.57,879.51 L290.41,879.54 L291.26,879.53 L292.10,879.48 L292.94,879.39 L293.77,879.26 L294.60,879.10 L295.43,878.89 L296.26,878.65 L297.08,878.38 L297.90,878.08 L298.72,877.75 L299.53,877.39 L300.34,877.01 L301.14,876.60 L301.94,876.17 L302.73,875.72 L303.52,875.24 L304.30,874.75 L305.07,874.25 L305.84,873.72 L306.61,873.19 L307.37,872.64 L308.12,872.09 L308.86,871.53 L309.60,870.96 L310.33,870.38 L311.05,869.80 L311.77,869.22 L312.48,868.62 L313.18,868.03 L313.88,867.43 L314.57,866.83 L315.25,866.22 L315.93,865.60 L316.60,864.99 L317.27,864.36 L317.93,863.74 L318.58,863.11 L319.23,862.47 L319.87,861.84 L320.51,861.19 L321.14,860.55 L321.77,859.90 L322.39,859.25 L323.01,858.59 L323.62,857.93 L324.23,857.26 L324.84,856.60 L325.44,855.93 L326.03,855.25 L326.62,854.58 L327.21,853.90 L327.80,853.21 L328.38,852.53 L328.95,851.84 L329.53,851.15 L330.10,850.46 L330.66,849.76 L331.23,849.06 L331.79,848.36 L332.35,847.66 L332.90,846.96 L333.46,846.25 L334.01,845.54 L334.56,844.83 L335.10,844.12 L335.65,843.40 L336.19,842.69 L336.73,841.97 L337.27,841.25 L337.80,840.53 L338.34,839.81 L338.87,839.08 L339.41,838.36 L339.94,837.63 L340.47,836.91 L341.00,836.18 L341.53,835.45 L342.06,834.72 L342.59,833.99 L343.12,833.26 L343.65,832.53 L344.17,831.80 L344.70,831.07 L345.23,830.33 L345.76,829.60 L346.29,828.87 L346.82,828.14 L347.35,827.40 L347.88,826.67 L348.41,825.94 L348.94,825.21 L349.48,824.48 L350.01,823.75 L350.55,823.01 L351.09,822.28 L351.63,821.56 L352.17,820.83 L352.72,820.10 L353.26,819.37 L353.81,818.65 L354.36,817.92 L354.91,817.20 L355.47,816.48 L356.02,815.76 L356.58,815.04 L357.14,814.32 L357.70,813.60 L358.27,812.89 L358.83,812.17 L359.40,811.46 L359.97,810.75 L360.54,810.04 L361.12,809.34 L361.70,808.63 L362.28,807.93 L362.86,807.23 L363.45,806.53 L364.03,805.84 L364.62,805.14 L365.21,804.45 L365.81,803.76 L366.41,803.08 L367.01,802.39 L367.61,801.71 L368.21,801.03 L368.82,800.36 L369.43,799.69 L370.05,799.02 L370.66,798.35 L371.28,797.69 L371.90,797.03 L372.53,796.37 L373.15,795.71 L373.78,795.06 L374.42,794.42 L375.05,793.77 L375.69,793.13 L376.34,792.50 L376.98,791.86 L377.63,791.24 L378.28,790.61 L378.93,789.99 L379.59,789.37 L380.25,788.76 L380.92,788.15 L381.58,787.55 L382.26,786.95 L382.93,786.35 L383.61,785.76 L384.29,785.17 L384.97,784.59 L385.66,784.01 L386.35,783.44 L387.04,782.87 L387.74,782.30 L388.44,781.75 L389.15,781.19 L389.86,780.64 L390.57,780.10 L391.28,779.56 L392.00,779.03 L392.73,778.50 L393.45,777.98 L394.19,777.46 L394.92,776.95 L395.66,776.44 L396.40,775.94 L397.15,775.45 L397.90,774.96 L398.65,774.47 L399.41,773.99 L400.17,773.52 L400.93,773.05 L401.70,772.59 L402.47,772.13 L403.24,771.68 L404.02,771.24 L404.80,770.79 L405.58,770.36 L406.37,769.93 L407.16,769.50 L407.96,769.08 L408.75,768.67 L409.55,768.26 L410.35,767.85 L411.16,767.45 L411.97,767.06 L412.78,766.67 L413.59,766.29 L414.41,765.91 L415.23,765.53 L416.05,765.16 L416.88,764.80 L417.70,764.44 L418.53,764.08 L419.37,763.73 L420.20,763.39 L421.04,763.05 L421.88,762.71 L422.72,762.38 L423.56,762.05 L424.41,761.73 L425.26,761.41 L426.11,761.10 L426.96,760.79 L427.81,760.49 L428.67,760.19 L429.53,759.90 L430.39,759.61 L431.25,759.32 L432.12,759.04 L432.98,758.77 L433.85,758.49 L434.72,758.23 L435.59,757.96 L436.46,757.70 L437.34,757.45 L438.21,757.20 L439.09,756.95 L439.97,756.71 L440.84,756.47 L441.73,756.24 L442.61,756.01 L443.49,755.79 L444.38,755.57 L445.26,755.35 L446.15,755.14 L447.04,754.93 L447.92,754.72 L448.81,754.52 L449.70,754.32 L450.60,754.13 L451.49,753.94 L452.38,753.76 L453.27,753.58 L454.17,753.40 L455.06,753.22 L455.96,753.05 L456.86,752.89 L457.75,752.72 L458.65,752.57 L459.55,752.41 L460.45,752.26 L461.34,752.11 L462.24,751.97 L463.14,751.83 L464.04,751.69 L464.94,751.55 L465.84,751.42 L466.74,751.30 L467.64,751.17 L468.53,751.05 L469.43,750.94 L470.33,750.82 L471.23,750.71 L472.13,750.61 L473.03,750.51 L473.93,750.41 L474.82,750.31 L475.72,750.21 L476.62,750.12 L477.51,750.04 L478.41,749.95 L479.30,749.87 L480.20,749.79 L481.09,749.72 L481.98,749.65 L482.88,749.58 L483.77,749.51 L484.66,749.45 L485.55,749.39 L486.44,749.33 L487.32,749.28 L488.21,749.23 L489.10,749.18 L489.98,749.13 L490.86,749.09 L491.75,749.05" fill="none" stroke="#000000" stroke-width="3.1" stroke-linejoin="round" stroke-linecap="round" clip-path="url(#cc)"/>
<path d="M122.27,736.80 L123.02,736.16 L123.75,735.51 L124.48,734.87 L125.20,734.22 L125.90,733.57 L126.60,732.92 L127.28,732.26 L127.96,731.61 L128.62,730.95 L129.28,730.29 L129.93,729.63 L130.58,728.97 L131.21,728.30 L131.84,727.63 L132.46,726.95 L133.08,726.27 L133.69,725.59 L134.30,724.90 L134.90,724.21 L135.50,723.52 L136.09,722.82 L136.68,722.11 L137.27,721.40 L137.86,720.69 L138.44,719.96 L139.03,719.24 L139.61,718.50 L140.19,717.77 L140.77,717.02 L141.36,716.27 L141.94,715.51 L142.52,714.74 L143.11,713.97 L143.70,713.19 L144.29,712.41 L144.89,711.62 L145.48,710.82 L146.09,710.02 L146.69,709.22 L147.30,708.42 L147.92,707.62 L148.54,706.82 L149.16,706.03 L149.80,705.23 L150.44,704.45 L151.08,703.66 L151.74,702.88 L152.40,702.12 L153.07,701.36 L153.74,700.60 L154.43,699.86 L155.13,699.14 L155.83,698.42 L156.55,697.72 L157.27,697.03 L158.01,696.36 L158.76,695.71 L159.52,695.07 L160.29,694.46 L161.07,693.86 L161.87,693.29 L162.68,692.73 L163.50,692.20 L164.33,691.70 L165.18,691.22 L166.03,690.77 L166.90,690.35 L167.77,689.96 L168.64,689.60 L169.52,689.27 L170.40,688.98 L171.28,688.72 L172.16,688.51 L173.04,688.33 L173.91,688.19 L174.78,688.09 L175.64,688.03 L176.50,688.02 L177.34,688.06 L178.18,688.14 L179.00,688.27 L179.81,688.45 L180.61,688.67 L181.40,688.93 L182.17,689.24 L182.94,689.58 L183.69,689.96 L184.43,690.38 L185.16,690.83 L185.88,691.32 L186.59,691.83 L187.28,692.38 L187.97,692.95 L188.64,693.55 L189.31,694.18 L189.96,694.82 L190.60,695.49 L191.23,696.18 L191.85,696.89 L192.45,697.61 L193.05,698.34 L193.64,699.09 L194.21,699.85 L194.78,700.62 L195.33,701.40 L195.87,702.19 L196.41,702.98 L196.93,703.78 L197.45,704.58 L197.95,705.39 L198.45,706.21 L198.93,707.04 L199.41,707.87 L199.88,708.70 L200.35,709.54 L200.80,710.39 L201.25,711.24 L201.69,712.09 L202.13,712.95 L202.56,713.81 L202.98,714.68 L203.39,715.55 L203.81,716.42 L204.21,717.30 L204.61,718.17 L205.01,719.05 L205.40,719.94 L205.79,720.82 L206.17,721.71 L206.55,722.59 L206.93,723.48 L207.31,724.37 L207.68,725.26 L208.05,726.15 L208.42,727.04 L208.78,727.93 L209.15,728.82 L209.51,729.72 L209.87,730.61 L210.22,731.50 L210.58,732.39 L210.93,733.28 L211.28,734.18 L211.63,735.07 L211.98,735.96 L212.33,736.85 L212.67,737.75 L213.01,738.64 L213.36,739.54 L213.70,740.43 L214.03,741.32 L214.37,742.22 L214.70,743.11 L215.04,744.01 L215.37,744.90 L215.70,745.80 L216.03,746.69 L216.36,747.58 L216.68,748.48 L217.01,749.37 L217.33,750.27 L217.66,751.16 L217.98,752.06 L218.30,752.95 L218.62,753.85 L218.94,754.75 L219.26,755.64 L219.58,756.54 L219.89,757.43 L220.21,758.33 L220.52,759.22 L220.84,760.12 L221.15,761.01 L221.46,761.91 L221.78,762.80 L222.09,763.70 L222.40,764.59 L222.71,765.49 L223.02,766.38 L223.33,767.28 L223.64,768.17 L223.95,769.07 L224.25,769.96 L224.56,770.85 L224.87,771.75 L225.18,772.64 L225.48,773.54 L225.79,774.43 L226.10,775.32 L226.41,776.22 L226.71,777.11 L227.02,778.00 L227.33,778.90 L227.64,779.79 L227.94,780.68 L228.25,781.57 L228.56,782.46 L228.87,783.36 L229.18,784.25 L229.48,785.14 L229.79,786.03 L230.10,786.92 L230.41,787.81 L230.72,788.70 L231.04,789.59 L231.35,790.48 L231.66,791.37 L231.97,792.26 L232.29,793.15 L232.60,794.04 L232.92,794.92 L233.23,795.81 L233.55,796.70 L233.87,797.58 L234.19,798.47 L234.51,799.36 L234.83,800.24 L235.15,801.13 L235.47,802.01 L235.79,802.90 L236.12,803.78 L236.45,804.66 L236.77,805.55 L237.10,806.43 L237.43,807.31 L237.76,808.19 L238.10,809.08 L238.43,809.96 L238.77,810.84 L239.10,811.72 L239.44,812.60 L239.78,813.47 L240.13,814.35 L240.47,815.23 L240.81,816.11 L241.16,816.98 L241.51,817.86 L241.86,818.74 L242.21,819.61 L242.57,820.49 L242.92,821.36 L243.28,822.23 L243.64,823.10 L244.01,823.98 L244.37,824.85 L244.74,825.72 L245.11,826.59 L245.48,827.46 L245.85,828.33 L246.23,829.19 L246.60,830.06 L246.98,830.93 L247.37,831.79 L247.75,832.66 L248.14,833.52 L248.53,834.39 L248.92,835.25 L249.32,836.11 L249.72,836.98 L250.12,837.84 L250.52,838.70 L250.93,839.56 L251.34,840.41 L251.75,841.27 L252.16,842.13 L252.58,842.99 L253.00,843.84 L253.42,844.70 L253.85,845.55 L254.28,846.40 L254.71,847.26 L255.15,848.11 L255.59,848.96 L256.03,849.81 L256.47,850.66 L256.92,851.50 L257.38,852.35 L257.83,853.20 L258.29,854.04 L258.75,854.89 L259.22,855.73 L259.69,856.57 L260.16,857.41 L260.64,858.25 L261.12,859.09 L261.60,859.93 L262.09,860.77 L262.58,861.61 L263.07,862.44 L263.57,863.28 L264.08,864.11 L264.58,864.94 L265.09,865.78 L265.61,866.61 L266.13,867.44 L266.65,868.26 L267.18,869.09 L267.71,869.92 L268.24,870.74 L268.78,871.57 L269.33,872.39 L269.88,873.20 L270.44,874.01 L271.00,874.81 L271.57,875.59 L272.15,876.36 L272.74,877.12 L273.33,877.86 L273.94,878.58 L274.56,879.28 L275.18,879.95 L275.82,880.60 L276.48,881.22 L277.14,881.81 L277.82,882.38 L278.51,882.90 L279.22,883.40 L279.94,883.85 L280.68,884.27 L281.43,884.64 L282.20,884.97 L282.99,885.26 L283.79,885.50 L284.61,885.69 L285.45,885.85 L286.30,885.95 L287.15,886.02 L288.02,886.04 L288.89,886.02 L289.76,885.95 L290.64,885.85 L291.53,885.71 L292.41,885.52 L293.29,885.30 L294.16,885.04 L295.03,884.74 L295.90,884.41 L296.75,884.04 L297.60,883.63 L298.43,883.19 L299.26,882.72 L300.07,882.21 L300.87,881.68 L301.67,881.11 L302.45,880.53 L303.22,879.91 L303.99,879.28 L304.74,878.62 L305.49,877.94 L306.22,877.25 L306.95,876.54 L307.67,875.81 L308.38,875.07 L309.08,874.32 L309.77,873.56 L310.46,872.79 L311.14,872.02 L311.81,871.24 L312.47,870.46 L313.13,869.67 L313.78,868.89 L314.42,868.11 L315.06,867.33 L315.69,866.55 L316.31,865.78 L316.93,865.01 L317.54,864.24 L318.15,863.48 L318.76,862.71 L319.35,861.95 L319.95,861.20 L320.54,860.44 L321.13,859.69 L321.71,858.94 L322.30,858.19 L322.88,857.44 L323.45,856.69 L324.03,855.95 L324.60,855.21 L325.18,854.47 L325.75,853.73 L326.32,852.99 L326.89,852.25 L327.47,851.51 L328.04,850.78 L328.61,850.05 L329.19,849.31 L329.76,848.58 L330.34,847.85 L330.92,847.12 L331.50,846.39 L332.08,845.66 L332.66,844.93 L333.24,844.20 L333.82,843.47 L334.40,842.74 L334.99,842.01 L335.57,841.29 L336.16,840.56 L336.74,839.83 L337.33,839.11 L337.92,838.38 L338.51,837.65 L339.10,836.93 L339.69,836.20 L340.28,835.47 L340.87,834.75 L341.46,834.02 L342.05,833.29 L342.65,832.56 L343.24,831.84 L343.83,831.11 L344.43,830.38 L345.02,829.65 L345.62,828.92 L346.21,828.19 L346.81,827.46 L347.40,826.73 L348.00,825.99 L348.60,825.26 L349.19,824.53 L349.79,823.79 L350.39,823.06 L350.98,822.32 L351.58,821.58 L352.18,820.85 L352.77,820.11 L353.37,819.37 L353.97,818.62 L354.57,817.88 L355.17,817.14 L355.77,816.40 L356.36,815.66 L356.97,814.91 L357.57,814.17 L358.17,813.43 L358.77,812.68 L359.37,811.94 L359.98,811.20 L360.58,810.46 L361.19,809.72 L361.80,808.98 L362.41,808.24 L363.02,807.50 L363.63,806.76 L364.24,806.03 L364.86,805.29 L365.47,804.56 L366.09,803.83 L366.71,803.10 L367.33,802.37 L367.96,801.65 L368.58,800.93 L369.21,800.21 L369.84,799.49 L370.47,798.77 L371.11,798.06 L371.75,797.35 L372.39,796.64 L373.03,795.93 L373.67,795.23 L374.32,794.53 L374.97,793.84 L375.62,793.15 L376.28,792.46 L376.94,791.77 L377.60,791.09 L378.27,790.42 L378.93,789.74 L379.61,789.07 L380.28,788.41 L380.96,787.75 L381.64,787.09 L382.33,786.44 L383.02,785.80 L383.71,785.16 L384.40,784.52 L385.11,783.89 L385.81,783.26 L386.52,782.64 L387.23,782.03 L387.95,781.42 L388.67,780.81 L389.39,780.22 L390.12,779.62 L390.86,779.04 L391.60,778.46 L392.34,777.88 L393.09,777.32 L393.84,776.76 L394.60,776.20 L395.36,775.66 L396.13,775.12 L396.90,774.58 L397.68,774.06 L398.46,773.54 L399.24,773.02 L400.03,772.52 L400.83,772.02 L401.63,771.52 L402.43,771.03 L403.24,770.55 L404.05,770.08 L404.87,769.61 L405.69,769.15 L406.51,768.69 L407.34,768.24 L408.18,767.80 L409.01,767.36 L409.85,766.93 L410.70,766.51 L411.54,766.09 L412.39,765.67 L413.25,765.27 L414.11,764.87 L414.97,764.47 L415.83,764.08 L416.70,763.70 L417.57,763.32 L418.44,762.95 L419.32,762.58 L420.20,762.22 L421.08,761.86 L421.97,761.51 L422.86,761.17 L423.75,760.83 L424.64,760.50 L425.54,760.17 L426.44,759.85 L427.34,759.53 L428.24,759.21 L429.15,758.91 L430.06,758.61 L430.97,758.31 L431.88,758.02 L432.79,757.73 L433.71,757.45 L434.63,757.17 L435.55,756.90 L436.47,756.63 L437.40,756.37 L438.32,756.11 L439.25,755.86 L440.18,755.61 L441.11,755.37 L442.04,755.13 L442.97,754.89 L443.91,754.66 L444.84,754.44 L445.78,754.22 L446.71,754.00 L447.65,753.79 L448.59,753.58 L449.53,753.38 L450.47,753.18 L451.42,752.98 L452.36,752.79 L453.30,752.61 L454.25,752.42 L455.19,752.25 L456.13,752.07 L457.08,751.90 L458.02,751.73 L458.97,751.57 L459.91,751.41 L460.86,751.26 L461.81,751.11 L462.75,750.96 L463.70,750.81 L464.64,750.67 L465.59,750.54 L466.53,750.40 L467.48,750.27 L468.42,750.15 L469.36,750.03 L470.31,749.91 L471.25,749.79 L472.19,749.68 L473.13,749.57 L474.07,749.46 L475.01,749.36 L475.95,749.26 L476.89,749.16 L477.82,749.07 L478.76,748.98 L479.69,748.89 L480.62,748.81 L481.55,748.73 L482.48,748.65 L483.41,748.57 L484.34,748.50 L485.26,748.43 L486.19,748.36 L487.11,748.30 L488.03,748.23 L488.94,748.17 L489.86,748.12 L490.77,748.06 L491.69,748.01" fill="none" stroke="#28dc3c" stroke-width="3.1" stroke-linejoin="round" stroke-linecap="round" clip-path="url(#cc)"/>
<path d="M122.49,697.04 L123.35,696.61 L124.18,696.15 L124.99,695.68 L125.78,695.18 L126.56,694.67 L127.31,694.13 L128.05,693.58 L128.78,693.02 L129.50,692.44 L130.21,691.85 L130.91,691.25 L131.60,690.64 L132.29,690.03 L132.97,689.41 L133.65,688.78 L134.34,688.15 L135.02,687.51 L135.71,686.88 L136.40,686.24 L137.10,685.61 L137.81,684.98 L138.53,684.36 L139.27,683.74 L140.01,683.13 L140.77,682.53 L141.55,681.94 L142.34,681.37 L143.16,680.80 L144.00,680.25 L144.86,679.72 L145.73,679.20 L146.62,678.69 L147.53,678.20 L148.46,677.73 L149.39,677.28 L150.34,676.85 L151.30,676.43 L152.27,676.03 L153.24,675.65 L154.23,675.30 L155.22,674.96 L156.21,674.65 L157.21,674.35 L158.21,674.08 L159.21,673.83 L160.21,673.61 L161.20,673.41 L162.20,673.23 L163.19,673.08 L164.17,672.96 L165.15,672.86 L166.12,672.79 L167.08,672.74 L168.03,672.72 L168.96,672.74 L169.88,672.78 L170.79,672.84 L171.69,672.94 L172.57,673.07 L173.43,673.23 L174.28,673.41 L175.12,673.62 L175.94,673.85 L176.75,674.12 L177.55,674.41 L178.33,674.72 L179.10,675.06 L179.86,675.42 L180.60,675.81 L181.33,676.22 L182.05,676.65 L182.76,677.10 L183.46,677.58 L184.14,678.07 L184.82,678.59 L185.48,679.13 L186.13,679.69 L186.77,680.26 L187.40,680.86 L188.02,681.47 L188.63,682.10 L189.23,682.75 L189.82,683.41 L190.40,684.10 L190.97,684.79 L191.53,685.50 L192.09,686.23 L192.63,686.97 L193.17,687.72 L193.69,688.49 L194.21,689.27 L194.72,690.06 L195.23,690.87 L195.72,691.68 L196.21,692.51 L196.69,693.34 L197.17,694.19 L197.63,695.04 L198.09,695.90 L198.55,696.78 L199.00,697.65 L199.44,698.54 L199.88,699.43 L200.31,700.33 L200.73,701.24 L201.15,702.15 L201.57,703.06 L201.98,703.98 L202.39,704.90 L202.79,705.83 L203.19,706.75 L203.58,707.68 L203.97,708.62 L204.36,709.55 L204.74,710.48 L205.12,711.42 L205.50,712.35 L205.87,713.28 L206.24,714.22 L206.61,715.15 L206.98,716.08 L207.34,717.01 L207.70,717.94 L208.06,718.87 L208.42,719.80 L208.77,720.73 L209.12,721.66 L209.47,722.59 L209.81,723.51 L210.15,724.44 L210.49,725.37 L210.83,726.29 L211.17,727.22 L211.50,728.15 L211.83,729.07 L212.16,730.00 L212.49,730.92 L212.82,731.84 L213.14,732.77 L213.46,733.69 L213.78,734.61 L214.10,735.53 L214.41,736.46 L214.73,737.38 L215.04,738.30 L215.35,739.22 L215.66,740.14 L215.97,741.06 L216.27,741.98 L216.58,742.89 L216.88,743.81 L217.18,744.73 L217.48,745.65 L217.78,746.56 L218.08,747.48 L218.37,748.40 L218.67,749.31 L218.96,750.23 L219.25,751.14 L219.54,752.05 L219.83,752.97 L220.12,753.88 L220.41,754.79 L220.70,755.71 L220.98,756.62 L221.27,757.53 L221.55,758.44 L221.84,759.35 L222.12,760.26 L222.40,761.17 L222.68,762.08 L222.96,762.99 L223.24,763.90 L223.52,764.81 L223.80,765.71 L224.08,766.62 L224.36,767.53 L224.64,768.44 L224.92,769.34 L225.19,770.25 L225.47,771.15 L225.75,772.06 L226.02,772.96 L226.30,773.87 L226.58,774.77 L226.85,775.67 L227.13,776.58 L227.41,777.48 L227.68,778.38 L227.96,779.28 L228.24,780.18 L228.52,781.08 L228.79,781.98 L229.07,782.88 L229.35,783.78 L229.63,784.68 L229.91,785.58 L230.19,786.48 L230.47,787.38 L230.75,788.28 L231.03,789.17 L231.31,790.07 L231.59,790.97 L231.88,791.86 L232.16,792.76 L232.44,793.65 L232.73,794.55 L233.02,795.44 L233.30,796.34 L233.59,797.23 L233.88,798.12 L234.17,799.02 L234.46,799.91 L234.76,800.80 L235.05,801.69 L235.35,802.59 L235.64,803.48 L235.94,804.37 L236.24,805.26 L236.54,806.15 L236.84,807.04 L237.15,807.93 L237.45,808.82 L237.76,809.70 L238.07,810.59 L238.38,811.48 L238.69,812.37 L239.00,813.26 L239.32,814.14 L239.63,815.03 L239.95,815.91 L240.27,816.80 L240.59,817.69 L240.92,818.57 L241.25,819.45 L241.57,820.34 L241.90,821.22 L242.24,822.11 L242.57,822.99 L242.91,823.87 L243.25,824.75 L243.59,825.64 L243.94,826.52 L244.28,827.40 L244.63,828.28 L244.98,829.16 L245.34,830.04 L245.69,830.92 L246.05,831.80 L246.42,832.68 L246.78,833.56 L247.15,834.44 L247.52,835.32 L247.89,836.19 L248.27,837.07 L248.65,837.95 L249.03,838.83 L249.41,839.70 L249.80,840.58 L250.19,841.45 L250.58,842.33 L250.98,843.21 L251.38,844.08 L251.78,844.95 L252.19,845.83 L252.60,846.70 L253.02,847.58 L253.43,848.45 L253.85,849.32 L254.28,850.20 L254.70,851.07 L255.13,851.94 L255.57,852.81 L256.01,853.68 L256.45,854.55 L256.90,855.42 L257.34,856.29 L257.80,857.16 L258.26,858.03 L258.72,858.90 L259.18,859.77 L259.65,860.64 L260.12,861.51 L260.60,862.38 L261.08,863.25 L261.57,864.11 L262.06,864.98 L262.55,865.85 L263.05,866.71 L263.55,867.58 L264.06,868.45 L264.57,869.31 L265.09,870.18 L265.61,871.04 L266.13,871.91 L266.66,872.77 L267.20,873.63 L267.74,874.48 L268.29,875.32 L268.84,876.16 L269.41,876.98 L269.98,877.79 L270.56,878.59 L271.15,879.37 L271.75,880.14 L272.36,880.88 L272.98,881.60 L273.61,882.30 L274.26,882.98 L274.92,883.62 L275.59,884.24 L276.27,884.83 L276.97,885.39 L277.68,885.92 L278.41,886.41 L279.15,886.86 L279.91,887.27 L280.68,887.65 L281.47,887.98 L282.28,888.27 L283.11,888.51 L283.95,888.72 L284.80,888.88 L285.66,889.00 L286.53,889.08 L287.41,889.12 L288.29,889.12 L289.18,889.08 L290.06,889.00 L290.96,888.89 L291.85,888.73 L292.73,888.54 L293.62,888.31 L294.49,888.04 L295.37,887.74 L296.23,887.40 L297.08,887.02 L297.92,886.61 L298.75,886.16 L299.56,885.68 L300.36,885.17 L301.14,884.62 L301.91,884.05 L302.67,883.45 L303.41,882.82 L304.14,882.16 L304.85,881.49 L305.56,880.79 L306.25,880.07 L306.93,879.34 L307.61,878.59 L308.27,877.83 L308.93,877.05 L309.57,876.26 L310.21,875.47 L310.85,874.66 L311.47,873.85 L312.09,873.04 L312.71,872.23 L313.32,871.41 L313.92,870.60 L314.52,869.79 L315.12,868.99 L315.72,868.19 L316.31,867.39 L316.90,866.59 L317.48,865.81 L318.07,865.02 L318.65,864.24 L319.23,863.46 L319.80,862.68 L320.38,861.90 L320.95,861.13 L321.52,860.36 L322.09,859.60 L322.66,858.83 L323.23,858.07 L323.80,857.31 L324.36,856.55 L324.93,855.79 L325.49,855.03 L326.06,854.28 L326.62,853.52 L327.19,852.77 L327.75,852.01 L328.32,851.26 L328.88,850.51 L329.45,849.76 L330.02,849.01 L330.58,848.25 L331.15,847.50 L331.72,846.75 L332.29,846.00 L332.86,845.25 L333.43,844.50 L334.00,843.75 L334.57,843.00 L335.15,842.25 L335.72,841.50 L336.29,840.75 L336.87,840.00 L337.44,839.25 L338.02,838.50 L338.59,837.75 L339.17,837.00 L339.75,836.26 L340.33,835.51 L340.90,834.76 L341.48,834.01 L342.06,833.26 L342.64,832.51 L343.22,831.76 L343.81,831.01 L344.39,830.26 L344.97,829.51 L345.55,828.75 L346.14,828.00 L346.72,827.25 L347.31,826.50 L347.89,825.75 L348.48,825.00 L349.07,824.24 L349.66,823.49 L350.25,822.74 L350.84,821.98 L351.43,821.23 L352.02,820.48 L352.61,819.72 L353.20,818.97 L353.79,818.21 L354.39,817.45 L354.98,816.70 L355.58,815.94 L356.17,815.19 L356.77,814.43 L357.37,813.68 L357.97,812.92 L358.57,812.17 L359.18,811.42 L359.78,810.67 L360.39,809.92 L360.99,809.17 L361.60,808.42 L362.21,807.67 L362.83,806.93 L363.44,806.18 L364.06,805.44 L364.68,804.70 L365.30,803.96 L365.92,803.23 L366.54,802.49 L367.17,801.76 L367.80,801.03 L368.43,800.30 L369.07,799.58 L369.70,798.86 L370.34,798.14 L370.98,797.42 L371.63,796.71 L372.27,796.00 L372.92,795.29 L373.57,794.58 L374.23,793.88 L374.89,793.19 L375.55,792.49 L376.21,791.80 L376.88,791.12 L377.55,790.43 L378.23,789.76 L378.90,789.08 L379.58,788.41 L380.27,787.75 L380.96,787.09 L381.65,786.43 L382.34,785.78 L383.04,785.14 L383.74,784.49 L384.45,783.86 L385.16,783.23 L385.87,782.60 L386.59,781.98 L387.31,781.37 L388.04,780.76 L388.77,780.15 L389.51,779.55 L390.25,778.96 L390.99,778.38 L391.74,777.80 L392.49,777.22 L393.25,776.66 L394.01,776.10 L394.78,775.54 L395.55,775.00 L396.32,774.45 L397.11,773.92 L397.89,773.39 L398.68,772.87 L399.48,772.36 L400.27,771.85 L401.08,771.35 L401.89,770.85 L402.70,770.37 L403.51,769.88 L404.33,769.41 L405.16,768.94 L405.99,768.48 L406.82,768.02 L407.65,767.57 L408.49,767.12 L409.34,766.68 L410.19,766.25 L411.04,765.82 L411.89,765.40 L412.75,764.99 L413.61,764.58 L414.47,764.18 L415.34,763.78 L416.21,763.39 L417.09,763.00 L417.97,762.62 L418.85,762.25 L419.73,761.88 L420.62,761.52 L421.50,761.16 L422.40,760.81 L423.29,760.46 L424.19,760.12 L425.09,759.78 L425.99,759.45 L426.90,759.13 L427.80,758.81 L428.71,758.49 L429.63,758.18 L430.54,757.88 L431.46,757.58 L432.37,757.29 L433.29,757.00 L434.22,756.71 L435.14,756.43 L436.07,756.16 L437.00,755.89 L437.93,755.63 L438.86,755.37 L439.79,755.11 L440.72,754.86 L441.66,754.62 L442.60,754.38 L443.54,754.14 L444.48,753.91 L445.42,753.69 L446.36,753.46 L447.30,753.25 L448.25,753.03 L449.19,752.83 L450.14,752.62 L451.09,752.42 L452.03,752.23 L452.98,752.04 L453.93,751.85 L454.88,751.67 L455.83,751.49 L456.78,751.31 L457.73,751.14 L458.69,750.98 L459.64,750.82 L460.59,750.66 L461.54,750.50 L462.49,750.35 L463.45,750.21 L464.40,750.06 L465.35,749.92 L466.30,749.79 L467.25,749.66 L468.20,749.53 L469.16,749.41 L470.11,749.29 L471.06,749.17 L472.01,749.06 L472.95,748.95 L473.90,748.84 L474.85,748.74 L475.80,748.64 L476.74,748.54 L477.69,748.45 L478.63,748.36 L479.57,748.27 L480.52,748.19 L481.46,748.11 L482.40,748.03 L483.33,747.96 L484.27,747.89 L485.20,747.82 L486.14,747.76 L487.07,747.70 L488.00,747.64 L488.93,747.58 L489.86,747.53 L490.78,747.48 L491.71,747.43" fill="none" stroke="#1464dc" stroke-width="3.1" stroke-linejoin="round" stroke-linecap="round" clip-path="url(#cc)"/>
<path d="M121.53,748.90 L122.70,748.88 L123.86,748.89 L125.01,748.93 L126.14,748.99 L127.25,749.08 L128.36,749.19 L129.45,749.32 L130.53,749.48 L131.60,749.66 L132.65,749.86 L133.69,750.09 L134.72,750.34 L135.74,750.61 L136.74,750.91 L137.73,751.22 L138.71,751.55 L139.68,751.91 L140.64,752.28 L141.59,752.68 L142.52,753.09 L143.45,753.53 L144.36,753.98 L145.26,754.45 L146.16,754.93 L147.04,755.44 L147.91,755.96 L148.77,756.49 L149.62,757.05 L150.47,757.62 L151.30,758.20 L152.12,758.80 L152.93,759.41 L153.74,760.04 L154.53,760.68 L155.32,761.34 L156.09,762.01 L156.86,762.69 L157.62,763.38 L158.37,764.09 L159.12,764.80 L159.85,765.53 L160.58,766.27 L161.30,767.02 L162.01,767.78 L162.71,768.54 L163.41,769.32 L164.10,770.11 L164.78,770.90 L165.46,771.70 L166.13,772.51 L166.79,773.33 L167.45,774.15 L168.10,774.98 L168.74,775.82 L169.38,776.66 L170.01,777.51 L170.63,778.36 L171.25,779.22 L171.87,780.08 L172.48,780.94 L173.08,781.81 L173.68,782.68 L174.28,783.55 L174.87,784.43 L175.45,785.31 L176.03,786.19 L176.61,787.08 L177.18,787.96 L177.74,788.85 L178.30,789.75 L178.86,790.64 L179.41,791.54 L179.96,792.44 L180.50,793.34 L181.04,794.25 L181.58,795.16 L182.11,796.07 L182.63,796.98 L183.15,797.89 L183.67,798.81 L184.19,799.73 L184.70,800.65 L185.20,801.57 L185.70,802.50 L186.20,803.42 L186.70,804.35 L187.19,805.28 L187.67,806.22 L188.16,807.15 L188.64,808.09 L189.11,809.03 L189.59,809.97 L190.05,810.91 L190.52,811.85 L190.98,812.80 L191.44,813.74 L191.90,814.69 L192.35,815.64 L192.80,816.59 L193.25,817.55 L193.69,818.50 L194.13,819.46 L194.57,820.41 L195.00,821.37 L195.43,822.33 L195.86,823.29 L196.29,824.25 L196.71,825.22 L197.13,826.18 L197.55,827.15 L197.96,828.11 L198.38,829.08 L198.79,830.05 L199.19,831.02 L199.60,831.99 L200.00,832.96 L200.40,833.93 L200.80,834.90 L201.20,835.87 L201.59,836.85 L201.98,837.82 L202.37,838.79 L202.76,839.77 L203.15,840.75 L203.53,841.72 L203.92,842.70 L204.30,843.68 L204.68,844.65 L205.05,845.63 L205.43,846.61 L205.80,847.59 L206.18,848.57 L206.55,849.55 L206.92,850.52 L207.28,851.50 L207.65,852.48 L208.02,853.46 L208.38,854.44 L208.74,855.42 L209.11,856.40 L209.47,857.38 L209.83,858.35 L210.19,859.33 L210.55,860.31 L210.90,861.29 L211.26,862.27 L211.61,863.24 L211.97,864.22 L212.32,865.19 L212.68,866.17 L213.03,867.15 L213.38,868.12 L213.73,869.09 L214.08,870.07 L214.44,871.04 L214.79,872.01 L215.14,872.98 L215.49,873.95 L215.84,874.92 L216.19,875.89 L216.54,876.86 L216.88,877.83 L217.23,878.80 L217.58,879.77 L217.93,880.73 L218.28,881.70 L218.63,882.67 L218.98,883.63 L219.33,884.60 L219.68,885.56 L220.03,886.53 L220.39,887.49 L220.74,888.46 L221.09,889.42 L221.44,890.39 L221.80,891.35 L222.15,892.32 L222.51,893.28 L222.86,894.24 L223.22,895.21 L223.58,896.17 L223.93,897.14 L224.29,898.10 L224.65,899.06 L225.01,900.03 L225.38,900.99 L225.74,901.96 L226.10,902.92 L226.47,903.89 L226.84,904.85 L227.20,905.82 L227.57,906.79 L227.94,907.75 L228.32,908.72 L228.69,909.69 L229.07,910.65 L229.44,911.62 L229.82,912.59 L230.20,913.56 L230.59,914.53 L230.97,915.50 L231.36,916.47 L231.74,917.44 L232.13,918.41 L232.52,919.39 L232.92,920.36 L233.31,921.33 L233.71,922.31 L234.11,923.28 L234.51,924.26 L234.92,925.24 L235.33,926.21 L235.74,927.19 L236.15,928.17 L236.56,929.15 L236.98,930.14 L237.40,931.12 L237.82,932.10 L238.24,933.09 L238.67,934.07 L239.10,935.06 L239.53,936.05 L239.97,937.04 L240.41,938.03 L240.85,939.02 L241.29,940.01 L241.74,941.01 L242.19,942.00 L242.64,943.00 L243.10,944.00 L243.56,945.00 L244.03,945.99 L244.50,946.99 L244.98,947.99 L245.47,948.98 L245.96,949.97 L246.46,950.96 L246.97,951.94 L247.49,952.92 L248.02,953.89 L248.57,954.85 L249.12,955.81 L249.69,956.77 L250.27,957.71 L250.87,958.64 L251.48,959.57 L252.11,960.48 L252.75,961.39 L253.41,962.28 L254.09,963.16 L254.79,964.03 L255.51,964.88 L256.25,965.73 L257.01,966.55 L257.79,967.36 L258.59,968.15 L259.41,968.92 L260.24,969.67 L261.10,970.38 L261.96,971.05 L262.84,971.69 L263.72,972.28 L264.61,972.82 L265.51,973.31 L266.40,973.74 L267.30,974.11 L268.20,974.42 L269.10,974.66 L269.99,974.85 L270.89,974.97 L271.78,975.04 L272.67,975.05 L273.56,975.01 L274.44,974.92 L275.33,974.77 L276.21,974.58 L277.08,974.34 L277.95,974.06 L278.82,973.73 L279.68,973.36 L280.54,972.95 L281.40,972.50 L282.24,972.01 L283.09,971.49 L283.92,970.93 L284.75,970.34 L285.58,969.72 L286.40,969.07 L287.21,968.40 L288.01,967.70 L288.80,966.97 L289.59,966.23 L290.37,965.46 L291.14,964.67 L291.90,963.87 L292.65,963.05 L293.40,962.21 L294.13,961.37 L294.85,960.51 L295.57,959.65 L296.27,958.77 L296.96,957.90 L297.64,957.01 L298.31,956.13 L298.97,955.24 L299.62,954.35 L300.26,953.45 L300.88,952.55 L301.50,951.65 L302.11,950.75 L302.70,949.84 L303.29,948.93 L303.87,948.02 L304.44,947.11 L305.00,946.19 L305.55,945.27 L306.09,944.35 L306.63,943.42 L307.15,942.50 L307.67,941.57 L308.18,940.64 L308.69,939.70 L309.18,938.77 L309.67,937.83 L310.15,936.89 L310.63,935.95 L311.10,935.01 L311.56,934.06 L312.02,933.12 L312.47,932.17 L312.92,931.22 L313.36,930.27 L313.79,929.32 L314.22,928.36 L314.65,927.41 L315.07,926.45 L315.49,925.49 L315.90,924.54 L316.31,923.58 L316.71,922.62 L317.12,921.65 L317.51,920.69 L317.91,919.73 L318.30,918.76 L318.69,917.80 L319.08,916.83 L319.46,915.87 L319.85,914.90 L320.23,913.94 L320.61,912.97 L320.98,912.00 L321.36,911.03 L321.74,910.07 L322.11,909.10 L322.49,908.13 L322.86,907.16 L323.23,906.19 L323.61,905.22 L323.98,904.26 L324.36,903.29 L324.73,902.32 L325.11,901.36 L325.48,900.39 L325.86,899.42 L326.24,898.46 L326.62,897.49 L327.01,896.53 L327.39,895.56 L327.78,894.60 L328.16,893.64 L328.55,892.67 L328.94,891.71 L329.33,890.75 L329.72,889.79 L330.12,888.83 L330.51,887.87 L330.91,886.91 L331.31,885.95 L331.71,884.99 L332.11,884.04 L332.52,883.08 L332.92,882.12 L333.33,881.17 L333.74,880.21 L334.15,879.26 L334.56,878.30 L334.97,877.35 L335.38,876.39 L335.80,875.44 L336.22,874.49 L336.64,873.54 L337.06,872.58 L337.48,871.63 L337.90,870.68 L338.33,869.73 L338.76,868.78 L339.19,867.84 L339.62,866.89 L340.05,865.94 L340.49,864.99 L340.92,864.05 L341.36,863.10 L341.80,862.15 L342.24,861.21 L342.68,860.26 L343.13,859.32 L343.57,858.38 L344.02,857.43 L344.47,856.49 L344.93,855.55 L345.38,854.61 L345.84,853.67 L346.29,852.73 L346.75,851.79 L347.21,850.85 L347.68,849.91 L348.14,848.97 L348.61,848.04 L349.08,847.10 L349.55,846.16 L350.02,845.23 L350.49,844.29 L350.97,843.36 L351.45,842.42 L351.93,841.49 L352.41,840.55 L352.89,839.62 L353.38,838.69 L353.87,837.76 L354.36,836.83 L354.85,835.90 L355.34,834.97 L355.84,834.04 L356.34,833.11 L356.84,832.18 L357.34,831.25 L357.84,830.33 L358.35,829.40 L358.86,828.47 L359.37,827.55 L359.88,826.62 L360.39,825.70 L360.91,824.77 L361.43,823.85 L361.95,822.93 L362.47,822.01 L363.00,821.09 L363.53,820.17 L364.06,819.25 L364.59,818.33 L365.13,817.41 L365.66,816.50 L366.20,815.59 L366.75,814.68 L367.30,813.77 L367.84,812.86 L368.40,811.95 L368.95,811.05 L369.51,810.15 L370.07,809.25 L370.64,808.36 L371.21,807.47 L371.78,806.58 L372.36,805.69 L372.94,804.81 L373.52,803.92 L374.11,803.05 L374.70,802.17 L375.29,801.30 L375.89,800.44 L376.50,799.57 L377.10,798.72 L377.72,797.86 L378.33,797.01 L378.95,796.16 L379.58,795.32 L380.20,794.48 L380.84,793.65 L381.48,792.82 L382.12,792.00 L382.77,791.18 L383.42,790.37 L384.08,789.56 L384.74,788.75 L385.41,787.96 L386.08,787.16 L386.76,786.38 L387.44,785.60 L388.13,784.82 L388.82,784.05 L389.52,783.29 L390.22,782.53 L390.93,781.78 L391.65,781.04 L392.37,780.30 L393.10,779.57 L393.83,778.85 L394.57,778.13 L395.32,777.42 L396.07,776.72 L396.83,776.03 L397.59,775.34 L398.36,774.66 L399.14,773.99 L399.93,773.32 L400.72,772.67 L401.51,772.02 L402.32,771.38 L403.13,770.75 L403.94,770.12 L404.77,769.51 L405.60,768.90 L406.44,768.30 L407.28,767.71 L408.13,767.13 L408.99,766.56 L409.85,765.99 L410.73,765.44 L411.60,764.89 L412.48,764.35 L413.37,763.82 L414.27,763.29 L415.17,762.78 L416.08,762.27 L416.99,761.77 L417.90,761.28 L418.83,760.79 L419.75,760.32 L420.69,759.85 L421.62,759.39 L422.57,758.94 L423.51,758.49 L424.46,758.05 L425.42,757.62 L426.38,757.20 L427.35,756.78 L428.31,756.37 L429.29,755.97 L430.26,755.57 L431.25,755.19 L432.23,754.81 L433.22,754.43 L434.21,754.06 L435.20,753.70 L436.20,753.35 L437.20,753.01 L438.21,752.67 L439.21,752.33 L440.22,752.01 L441.24,751.69 L442.25,751.37 L443.27,751.07 L444.29,750.77 L445.31,750.47 L446.33,750.18 L447.36,749.90 L448.39,749.63 L449.42,749.36 L450.45,749.09 L451.48,748.84 L452.51,748.58 L453.55,748.34 L454.59,748.10 L455.62,747.86 L456.66,747.64 L457.70,747.41 L458.74,747.20 L459.78,746.99 L460.82,746.78 L461.87,746.58 L462.91,746.38 L463.95,746.19 L464.99,746.01 L466.03,745.83 L467.07,745.66 L468.12,745.49 L469.16,745.32 L470.20,745.17 L471.24,745.01 L472.28,744.86 L473.31,744.72 L474.35,744.58 L475.39,744.45 L476.42,744.32 L477.46,744.19 L478.49,744.07 L479.52,743.95 L480.55,743.84 L481.57,743.73 L482.60,743.63 L483.62,743.53 L484.64,743.44 L485.66,743.35 L486.68,743.26 L487.69,743.18 L488.70,743.10 L489.71,743.03 L490.72,742.96 L491.72,742.89" fill="none" stroke="#dc0000" stroke-width="3.1" stroke-linejoin="round" stroke-linecap="round" clip-path="url(#cc)"/>
<path d="M593.89,947.33 L594.49,946.58 L595.09,945.83 L595.69,945.09 L596.29,944.33 L596.88,943.58 L597.47,942.82 L598.07,942.07 L598.65,941.31 L599.24,940.54 L599.83,939.78 L600.41,939.01 L600.99,938.24 L601.57,937.47 L602.14,936.70 L602.71,935.92 L603.28,935.14 L603.85,934.36 L604.41,933.57 L604.98,932.79 L605.53,932.00 L606.09,931.21 L606.64,930.41 L607.19,929.62 L607.74,928.82 L608.28,928.02 L608.82,927.22 L609.35,926.41 L609.89,925.60 L610.41,924.79 L610.94,923.98 L611.46,923.16 L611.98,922.34 L612.49,921.52 L613.00,920.70 L613.50,919.87 L614.00,919.04 L614.50,918.21 L614.99,917.38 L615.48,916.54 L615.96,915.70 L616.44,914.86 L616.91,914.02 L617.38,913.17 L617.85,912.32 L618.30,911.47 L618.76,910.61 L619.21,909.76 L619.65,908.90 L620.09,908.03 L620.53,907.17 L620.95,906.30 L621.38,905.43 L621.79,904.55 L622.21,903.67 L622.61,902.80 L623.01,901.91 L623.41,901.03 L623.80,900.14 L624.18,899.25 L624.56,898.36 L624.94,897.46 L625.31,896.56 L625.67,895.66 L626.03,894.76 L626.39,893.86 L626.74,892.95 L627.09,892.05 L627.44,891.14 L627.78,890.23 L628.12,889.32 L628.46,888.40 L628.79,887.49 L629.12,886.57 L629.45,885.66 L629.78,884.74 L630.10,883.82 L630.43,882.90 L630.75,881.99 L631.07,881.07 L631.39,880.15 L631.71,879.22 L632.02,878.30 L632.34,877.38 L632.66,876.46 L632.97,875.54 L633.29,874.62 L633.61,873.70 L633.93,872.78 L634.24,871.86 L634.56,870.94 L634.88,870.02 L635.20,869.10 L635.52,868.19 L635.85,867.27 L636.17,866.36 L636.50,865.44 L636.83,864.53 L637.16,863.62 L637.50,862.71 L637.83,861.80 L638.17,860.90 L638.52,859.99 L638.86,859.09 L639.21,858.19 L639.56,857.29 L639.92,856.40 L640.28,855.50 L640.65,854.61 L641.02,853.72 L641.39,852.84 L641.77,851.95 L642.16,851.07 L642.55,850.19 L642.94,849.32 L643.35,848.45 L643.75,847.58 L644.17,846.71 L644.59,845.85 L645.01,844.99 L645.44,844.13 L645.88,843.28 L646.33,842.44 L646.78,841.59 L647.24,840.75 L647.71,839.92 L648.19,839.08 L648.67,838.26 L649.16,837.43 L649.66,836.61 L650.16,835.80 L650.67,834.98 L651.19,834.17 L651.71,833.37 L652.24,832.57 L652.77,831.77 L653.31,830.97 L653.86,830.17 L654.41,829.38 L654.96,828.59 L655.52,827.80 L656.08,827.02 L656.65,826.24 L657.22,825.46 L657.79,824.68 L658.37,823.90 L658.95,823.12 L659.53,822.35 L660.11,821.58 L660.70,820.80 L661.29,820.03 L661.88,819.26 L662.47,818.49 L663.07,817.73 L663.66,816.96 L664.26,816.19 L664.85,815.42 L665.45,814.66 L666.05,813.89 L666.64,813.12 L667.24,812.36 L667.83,811.59 L668.43,810.82 L669.02,810.05 L669.61,809.28 L670.20,808.51 L670.79,807.74 L671.38,806.97 L671.96,806.19 L672.54,805.42 L673.12,804.64 L673.70,803.86 L674.27,803.08 L674.84,802.30 L675.41,801.52 L675.97,800.73 L676.54,799.95 L677.10,799.17 L677.67,798.39 L678.24,797.61 L678.81,796.84 L679.39,796.07 L679.97,795.30 L680.56,794.54 L681.16,793.79 L681.76,793.04 L682.38,792.30 L683.00,791.57 L683.63,790.85 L684.28,790.13 L684.93,789.42 L685.58,788.72 L686.25,788.02 L686.91,787.32 L687.58,786.63 L688.26,785.94 L688.93,785.25 L689.61,784.57 L690.29,783.88 L690.96,783.19 L691.64,782.50 L692.32,781.81 L692.99,781.12 L693.67,780.43 L694.34,779.74 L695.01,779.05 L695.68,778.36 L696.35,777.66 L697.02,776.97 L697.69,776.27 L698.36,775.58 L699.03,774.88 L699.69,774.18 L700.36,773.48 L701.02,772.78 L701.68,772.08 L702.34,771.38 L703.00,770.67 L703.66,769.97 L704.32,769.26 L704.97,768.55 L705.63,767.84 L706.28,767.13 L706.93,766.42 L707.58,765.70 L708.22,764.99 L708.87,764.27 L709.51,763.55 L710.16,762.83 L710.80,762.11 L711.43,761.38 L712.07,760.66 L712.70,759.93 L713.34,759.20 L713.97,758.47 L714.60,757.73 L715.22,757.00 L715.85,756.26 L716.47,755.52 L717.09,754.78 L717.71,754.03 L718.32,753.29 L718.93,752.54 L719.54,751.79 L720.15,751.03 L720.76,750.28 L721.36,749.52 L721.96,748.76 L722.56,748.00 L723.15,747.23 L723.75,746.47 L724.34,745.70 L724.92,744.93 L725.51,744.15 L726.09,743.38 L726.67,742.60 L727.25,741.82 L727.83,741.04 L728.40,740.26 L728.97,739.47 L729.54,738.69 L730.10,737.90 L730.67,737.11 L731.23,736.32 L731.79,735.53 L732.35,734.73 L732.90,733.94 L733.45,733.14 L734.00,732.35 L734.55,731.55 L735.10,730.75 L735.64,729.95 L736.18,729.15 L736.72,728.34 L737.26,727.54 L737.79,726.73 L738.33,725.93 L738.86,725.12 L739.39,724.32 L739.92,723.51 L740.45,722.71 L740.99,721.91 L741.54,721.12 L742.09,720.33 L742.65,719.55 L743.22,718.77 L743.80,718.00 L744.40,717.25 L745.01,716.50 L745.65,715.77 L746.30,715.04 L746.97,714.34 L747.66,713.64 L748.37,712.96 L749.10,712.30 L749.84,711.64 L750.58,710.98 L751.31,710.32 L752.03,709.66 L752.73,708.99 L753.40,708.31 L754.04,707.61 L754.65,706.90 L755.22,706.17 L755.76,705.42 L756.28,704.66 L756.79,703.89 L757.28,703.11 L757.77,702.31 L758.25,701.50 L758.74,700.69 L759.23,699.87 L759.73,699.04 L760.25,698.20 L760.79,697.36 L761.35,696.52 L761.94,695.68 L762.55,694.84 L763.18,694.01 L763.84,693.20 L764.51,692.41 L765.21,691.63 L765.92,690.89 L766.65,690.17 L767.40,689.49 L768.17,688.84 L768.95,688.24 L769.74,687.69 L770.55,687.19 L771.37,686.75 L772.21,686.36 L773.05,686.04 L773.91,685.79 L774.77,685.61 L775.64,685.51 L776.52,685.49 L777.41,685.55 L778.30,685.70 L779.20,685.93 L780.10,686.22 L781.00,686.57 L781.91,686.98 L782.82,687.42 L783.73,687.90 L784.64,688.40 L785.54,688.92 L786.45,689.45 L787.36,689.98 L788.26,690.50 L789.15,691.00 L790.05,691.47 L790.93,691.91 L791.81,692.30 L792.69,692.64 L793.55,692.93 L794.41,693.17 L795.27,693.37 L796.13,693.56 L796.99,693.74 L797.86,693.93 L798.74,694.14 L799.62,694.39 L800.52,694.67 L801.42,694.98 L802.32,695.32 L803.22,695.69 L804.12,696.09 L805.01,696.52 L805.90,696.97 L806.77,697.46 L807.63,697.98 L808.47,698.52 L809.29,699.09 L810.10,699.69 L810.87,700.31 L811.63,700.97 L812.35,701.64 L813.04,702.35 L813.70,703.07 L814.31,703.83 L814.89,704.60 L815.43,705.40 L815.94,706.22 L816.42,707.06 L816.87,707.91 L817.31,708.76 L817.74,709.62 L818.17,710.49 L818.60,711.35 L819.03,712.20 L819.49,713.05 L819.96,713.88 L820.45,714.69 L820.97,715.50 L821.51,716.28 L822.07,717.06 L822.65,717.83 L823.25,718.58 L823.86,719.32 L824.48,720.06 L825.11,720.79 L825.76,721.51 L826.41,722.23 L827.08,722.94 L827.75,723.65 L828.42,724.36 L829.10,725.06 L829.77,725.77 L830.45,726.47 L831.13,727.18 L831.80,727.88 L832.47,728.59 L833.14,729.31 L833.79,730.03 L834.44,730.76 L835.08,731.49 L835.70,732.23 L836.32,732.98 L836.92,733.73 L837.52,734.50 L838.11,735.26 L838.69,736.04 L839.26,736.81 L839.82,737.60 L840.38,738.39 L840.93,739.18 L841.48,739.97 L842.02,740.77 L842.55,741.57 L843.08,742.38 L843.61,743.19 L844.14,744.00 L844.66,744.81 L845.18,745.62 L845.69,746.43 L846.21,747.24 L846.73,748.05 L847.26,748.86 L847.79,749.67 L848.32,750.47 L848.87,751.26 L849.42,752.05 L849.98,752.83 L850.56,753.60 L851.15,754.36 L851.75,755.12 L852.38,755.86 L853.02,756.59 L853.67,757.31 L854.33,758.03 L855.01,758.73 L855.68,759.44 L856.36,760.14 L857.03,760.85 L857.70,761.56 L858.36,762.28 L859.00,763.00 L859.64,763.73 L860.27,764.46 L860.89,765.20 L861.50,765.94 L862.10,766.69 L862.70,767.44 L863.29,768.20 L863.88,768.95 L864.46,769.71 L865.04,770.48 L865.62,771.24 L866.19,772.00 L866.76,772.77 L867.33,773.54 L867.90,774.30 L868.47,775.07 L869.04,775.84 L869.61,776.60 L870.19,777.37 L870.77,778.13 L871.35,778.89 L871.93,779.64 L872.52,780.40 L873.12,781.15 L873.72,781.89 L874.32,782.63 L874.94,783.37 L875.56,784.10 L876.19,784.83 L876.83,785.55 L877.49,786.27 L878.15,786.97 L878.82,787.67 L879.51,788.37 L880.20,789.05 L880.91,789.73 L881.63,790.40 L882.37,791.06 L883.11,791.71 L883.86,792.34 L884.63,792.97 L885.40,793.59 L886.18,794.19 L886.98,794.79 L887.78,795.36 L888.59,795.93 L889.41,796.48 L890.24,797.02 L891.07,797.54 L891.92,798.05 L892.77,798.55 L893.62,799.02 L894.49,799.48 L895.36,799.92 L896.23,800.35 L897.11,800.76 L898.00,801.14 L898.89,801.51 L899.78,801.86 L900.69,802.19 L901.59,802.51 L902.50,802.80 L903.41,803.08 L904.33,803.34 L905.25,803.58 L906.17,803.81 L907.10,804.03 L908.03,804.23 L908.96,804.41 L909.90,804.59 L910.84,804.75 L911.78,804.91 L912.73,805.05 L913.68,805.18 L914.63,805.30 L915.58,805.42 L916.53,805.52 L917.49,805.62 L918.45,805.72 L919.41,805.80 L920.37,805.89 L921.33,805.96 L922.30,806.04 L923.26,806.11 L924.23,806.18 L925.20,806.25 L926.16,806.31 L927.13,806.38 L928.10,806.45 L929.07,806.51 L930.04,806.58 L931.01,806.65 L931.98,806.72 L932.95,806.79 L933.92,806.86 L934.89,806.92 L935.86,806.99 L936.83,807.05 L937.80,807.11 L938.77,807.16 L939.74,807.22 L940.70,807.26 L941.67,807.31 L942.64,807.35 L943.61,807.38 L944.58,807.41 L945.54,807.43 L946.51,807.44 L947.47,807.45 L948.44,807.44 L949.40,807.43 L950.37,807.42 L951.33,807.40 L952.29,807.37 L953.25,807.34 L954.22,807.30 L955.18,807.26 L956.14,807.22 L957.10,807.18 L958.06,807.14 L959.02,807.10 L959.99,807.06 L960.95,807.03 L961.91,806.99 L962.87,806.97 L963.83,806.94 L964.80,806.92 L965.76,806.91 L966.72,806.91 L967.69,806.91 L968.65,806.92 L969.62,806.95 L970.58,806.98 L971.55,807.03 L972.52,807.09 L973.49,807.16 L974.46,807.24 L975.43,807.34 L976.40,807.46 L977.37,807.59 L978.35,807.74 L979.32,807.91 L980.30,808.10" fill="none" stroke="#000000" stroke-width="3.1" stroke-linejoin="round" stroke-linecap="round" clip-path="url(#cd)"/>
<path d="M593.64,953.42 L593.85,952.24 L594.16,951.19 L594.57,950.26 L595.06,949.45 L595.63,948.74 L596.26,948.12 L596.95,947.58 L597.69,947.11 L598.47,946.69 L599.27,946.31 L600.10,945.96 L600.93,945.62 L601.77,945.30 L602.60,944.96 L603.41,944.61 L604.19,944.23 L604.94,943.81 L605.65,943.33 L606.31,942.81 L606.94,942.24 L607.53,941.63 L608.09,940.98 L608.61,940.29 L609.11,939.56 L609.57,938.80 L610.01,938.01 L610.43,937.19 L610.82,936.35 L611.20,935.48 L611.56,934.60 L611.90,933.69 L612.23,932.78 L612.55,931.85 L612.86,930.91 L613.16,929.96 L613.46,929.01 L613.75,928.05 L614.05,927.10 L614.34,926.15 L614.64,925.20 L614.95,924.27 L615.26,923.34 L615.58,922.42 L615.91,921.52 L616.24,920.62 L616.58,919.73 L616.92,918.85 L617.27,917.98 L617.63,917.11 L617.99,916.26 L618.35,915.40 L618.71,914.55 L619.08,913.71 L619.45,912.87 L619.82,912.04 L620.20,911.21 L620.57,910.38 L620.94,909.55 L621.32,908.73 L621.69,907.90 L622.06,907.08 L622.43,906.25 L622.80,905.43 L623.17,904.60 L623.53,903.78 L623.89,902.95 L624.25,902.11 L624.60,901.28 L624.94,900.44 L625.28,899.59 L625.62,898.75 L625.95,897.90 L626.28,897.04 L626.60,896.18 L626.93,895.32 L627.24,894.46 L627.56,893.59 L627.88,892.73 L628.19,891.86 L628.51,890.99 L628.82,890.12 L629.13,889.25 L629.45,888.38 L629.77,887.50 L630.08,886.63 L630.40,885.77 L630.73,884.90 L631.05,884.03 L631.38,883.17 L631.72,882.30 L632.06,881.44 L632.40,880.59 L632.75,879.73 L633.11,878.88 L633.47,878.03 L633.84,877.19 L634.21,876.35 L634.60,875.52 L634.98,874.68 L635.38,873.86 L635.78,873.03 L636.18,872.21 L636.59,871.39 L637.01,870.57 L637.43,869.76 L637.85,868.95 L638.28,868.14 L638.72,867.33 L639.15,866.52 L639.59,865.72 L640.03,864.92 L640.48,864.11 L640.93,863.31 L641.38,862.51 L641.83,861.71 L642.29,860.92 L642.74,860.12 L643.20,859.32 L643.66,858.52 L644.12,857.72 L644.58,856.93 L645.04,856.13 L645.51,855.33 L645.97,854.53 L646.43,853.73 L646.89,852.93 L647.36,852.13 L647.83,851.33 L648.29,850.53 L648.77,849.74 L649.24,848.94 L649.72,848.16 L650.20,847.37 L650.69,846.59 L651.18,845.81 L651.68,845.03 L652.18,844.26 L652.69,843.49 L653.19,842.73 L653.71,841.97 L654.22,841.21 L654.75,840.45 L655.27,839.70 L655.80,838.95 L656.32,838.20 L656.86,837.45 L657.39,836.71 L657.93,835.97 L658.47,835.22 L659.01,834.48 L659.55,833.74 L660.09,833.00 L660.63,832.26 L661.18,831.53 L661.73,830.79 L662.27,830.05 L662.82,829.31 L663.36,828.57 L663.91,827.83 L664.46,827.09 L665.00,826.35 L665.54,825.61 L666.09,824.86 L666.63,824.12 L667.17,823.37 L667.71,822.62 L668.24,821.87 L668.78,821.11 L669.31,820.36 L669.84,819.60 L670.37,818.84 L670.89,818.07 L671.41,817.31 L671.92,816.54 L672.43,815.77 L672.94,814.99 L673.44,814.22 L673.94,813.44 L674.43,812.65 L674.92,811.87 L675.40,811.08 L675.87,810.29 L676.34,809.49 L676.80,808.69 L677.25,807.89 L677.70,807.09 L678.14,806.28 L678.57,805.47 L679.00,804.65 L679.41,803.83 L679.82,803.01 L680.22,802.18 L680.61,801.35 L680.99,800.52 L681.36,799.68 L681.72,798.84 L682.07,797.99 L682.42,797.14 L682.75,796.29 L683.07,795.43 L683.38,794.57 L683.69,793.71 L683.99,792.84 L684.29,791.97 L684.59,791.11 L684.89,790.24 L685.18,789.37 L685.48,788.50 L685.79,787.63 L686.10,786.77 L686.42,785.90 L686.74,785.04 L687.08,784.18 L687.42,783.33 L687.78,782.48 L688.15,781.63 L688.54,780.79 L688.94,779.96 L689.36,779.13 L689.80,778.30 L690.25,777.49 L690.71,776.68 L691.20,775.88 L691.69,775.09 L692.20,774.31 L692.73,773.53 L693.27,772.77 L693.82,772.02 L694.39,771.27 L694.97,770.54 L695.56,769.82 L696.17,769.12 L696.79,768.42 L697.42,767.74 L698.07,767.07 L698.72,766.42 L699.39,765.78 L700.07,765.15 L700.76,764.54 L701.46,763.95 L702.18,763.37 L702.90,762.81 L703.63,762.27 L704.38,761.74 L705.13,761.23 L705.89,760.73 L706.66,760.24 L707.44,759.77 L708.22,759.30 L709.02,758.85 L709.82,758.41 L710.62,757.98 L711.43,757.56 L712.25,757.14 L713.07,756.74 L713.90,756.34 L714.73,755.95 L715.56,755.56 L716.40,755.18 L717.24,754.80 L718.08,754.43 L718.92,754.06 L719.77,753.69 L720.61,753.32 L721.46,752.95 L722.30,752.59 L723.15,752.22 L724.00,751.85 L724.84,751.48 L725.68,751.11 L726.52,750.73 L727.36,750.35 L728.20,749.96 L729.03,749.57 L729.86,749.17 L730.68,748.77 L731.50,748.36 L732.32,747.94 L733.13,747.52 L733.94,747.10 L734.75,746.67 L735.56,746.24 L736.36,745.80 L737.16,745.37 L737.97,744.93 L738.77,744.49 L739.57,744.06 L740.38,743.62 L741.18,743.19 L741.99,742.75 L742.80,742.33 L743.61,741.90 L744.42,741.48 L745.23,741.06 L746.05,740.65 L746.87,740.24 L747.70,739.85 L748.53,739.45 L749.37,739.07 L750.21,738.70 L751.05,738.33 L751.90,737.97 L752.76,737.63 L753.62,737.30 L754.49,736.98 L755.36,736.67 L756.24,736.38 L757.12,736.11 L758.01,735.86 L758.90,735.62 L759.79,735.40 L760.69,735.21 L761.59,735.03 L762.49,734.88 L763.39,734.75 L764.30,734.63 L765.21,734.52 L766.12,734.43 L767.03,734.33 L767.94,734.25 L768.86,734.16 L769.77,734.06 L770.69,733.97 L771.60,733.86 L772.52,733.74 L773.43,733.60 L774.34,733.46 L775.26,733.30 L776.17,733.14 L777.08,732.98 L778.00,732.81 L778.91,732.65 L779.82,732.49 L780.73,732.35 L781.64,732.21 L782.55,732.09 L783.46,731.98 L784.37,731.90 L785.28,731.83 L786.19,731.80 L787.10,731.78 L788.00,731.80 L788.91,731.82 L789.81,731.85 L790.70,731.88 L791.60,731.90 L792.48,731.91 L793.36,731.89 L794.23,731.83 L795.09,731.75 L795.93,731.61 L796.77,731.42 L797.60,731.17 L798.42,730.86 L799.23,730.51 L800.03,730.13 L800.84,729.73 L801.64,729.31 L802.46,728.91 L803.28,728.51 L804.11,728.15 L804.96,727.82 L805.82,727.54 L806.70,727.31 L807.59,727.13 L808.49,727.01 L809.39,726.94 L810.29,726.92 L811.20,726.95 L812.09,727.04 L812.98,727.19 L813.85,727.39 L814.71,727.65 L815.55,727.96 L816.37,728.33 L817.16,728.76 L817.92,729.25 L818.65,729.79 L819.34,730.40 L820.00,731.05 L820.63,731.75 L821.22,732.49 L821.79,733.27 L822.33,734.08 L822.84,734.91 L823.32,735.76 L823.77,736.63 L824.20,737.51 L824.61,738.39 L824.99,739.28 L825.36,740.16 L825.70,741.03 L826.03,741.91 L826.35,742.78 L826.66,743.65 L826.97,744.51 L827.27,745.37 L827.57,746.23 L827.88,747.07 L828.19,747.92 L828.51,748.76 L828.84,749.59 L829.19,750.41 L829.56,751.23 L829.95,752.04 L830.36,752.84 L830.79,753.63 L831.24,754.42 L831.72,755.20 L832.21,755.97 L832.71,756.74 L833.23,757.51 L833.76,758.26 L834.31,759.02 L834.86,759.77 L835.41,760.51 L835.98,761.26 L836.54,762.00 L837.11,762.74 L837.68,763.47 L838.25,764.21 L838.82,764.94 L839.39,765.67 L839.96,766.40 L840.53,767.13 L841.11,767.85 L841.68,768.58 L842.26,769.30 L842.83,770.02 L843.41,770.74 L843.99,771.45 L844.57,772.17 L845.16,772.88 L845.74,773.59 L846.33,774.30 L846.91,775.00 L847.50,775.71 L848.09,776.41 L848.68,777.11 L849.28,777.81 L849.87,778.51 L850.47,779.20 L851.07,779.90 L851.67,780.59 L852.27,781.28 L852.87,781.96 L853.48,782.65 L854.09,783.33 L854.70,784.01 L855.31,784.69 L855.93,785.37 L856.55,786.04 L857.17,786.72 L857.79,787.39 L858.41,788.06 L859.04,788.73 L859.67,789.39 L860.30,790.05 L860.93,790.72 L861.57,791.38 L862.21,792.03 L862.85,792.69 L863.50,793.34 L864.15,793.99 L864.80,794.64 L865.45,795.29 L866.11,795.93 L866.77,796.58 L867.43,797.22 L868.09,797.86 L868.76,798.49 L869.43,799.13 L870.11,799.76 L870.79,800.39 L871.47,801.02 L872.15,801.65 L872.84,802.27 L873.53,802.90 L874.23,803.52 L874.93,804.14 L875.63,804.75 L876.34,805.37 L877.05,805.98 L877.76,806.59 L878.48,807.20 L879.20,807.80 L879.92,808.41 L880.65,809.01 L881.39,809.60 L882.12,810.19 L882.87,810.77 L883.61,811.34 L884.37,811.90 L885.13,812.44 L885.89,812.98 L886.66,813.49 L887.44,813.99 L888.22,814.47 L889.02,814.93 L889.81,815.36 L890.62,815.77 L891.44,816.16 L892.26,816.52 L893.09,816.85 L893.93,817.15 L894.77,817.42 L895.63,817.66 L896.50,817.86 L897.37,818.04 L898.25,818.20 L899.14,818.33 L900.03,818.43 L900.93,818.52 L901.83,818.58 L902.75,818.62 L903.66,818.65 L904.58,818.66 L905.51,818.65 L906.44,818.64 L907.37,818.61 L908.30,818.57 L909.24,818.52 L910.18,818.47 L911.12,818.41 L912.06,818.35 L913.01,818.28 L913.95,818.22 L914.90,818.15 L915.84,818.09 L916.79,818.03 L917.73,817.98 L918.67,817.93 L919.61,817.89 L920.55,817.86 L921.48,817.84 L922.42,817.82 L923.35,817.81 L924.28,817.81 L925.21,817.81 L926.14,817.82 L927.07,817.84 L927.99,817.86 L928.91,817.89 L929.84,817.93 L930.76,817.97 L931.68,818.01 L932.60,818.06 L933.52,818.12 L934.44,818.17 L935.35,818.24 L936.27,818.30 L937.18,818.37 L938.10,818.45 L939.01,818.52 L939.92,818.60 L940.84,818.68 L941.75,818.77 L942.66,818.85 L943.57,818.94 L944.48,819.03 L945.39,819.12 L946.30,819.22 L947.21,819.31 L948.12,819.41 L949.03,819.50 L949.94,819.60 L950.85,819.69 L951.76,819.79 L952.67,819.88 L953.58,819.97 L954.49,820.07 L955.40,820.16 L956.31,820.25 L957.22,820.34 L958.13,820.42 L959.05,820.51 L959.96,820.59 L960.87,820.67 L961.79,820.74 L962.70,820.82 L963.62,820.89 L964.53,820.95 L965.45,821.02 L966.37,821.07 L967.29,821.13 L968.21,821.18 L969.13,821.22 L970.05,821.26 L970.98,821.30 L971.90,821.33 L972.83,821.35 L973.76,821.37 L974.69,821.38 L975.62,821.38 L976.55,821.38 L977.49,821.37 L978.42,821.36 L979.36,821.33 L980.30,821.30" fill="none" stroke="#c828d0" stroke-width="3.1" stroke-linejoin="round" stroke-linecap="round" clip-path="url(#cd)"/>
<path d="M593.78,958.46 L594.43,957.78 L595.06,957.10 L595.69,956.40 L596.31,955.71 L596.92,955.01 L597.52,954.30 L598.12,953.59 L598.70,952.87 L599.28,952.15 L599.85,951.42 L600.42,950.69 L600.97,949.95 L601.52,949.21 L602.06,948.46 L602.59,947.71 L603.12,946.95 L603.63,946.19 L604.15,945.43 L604.65,944.66 L605.15,943.89 L605.64,943.11 L606.13,942.33 L606.61,941.55 L607.08,940.76 L607.55,939.97 L608.01,939.17 L608.46,938.37 L608.91,937.57 L609.36,936.77 L609.80,935.96 L610.23,935.15 L610.66,934.33 L611.08,933.51 L611.50,932.69 L611.92,931.87 L612.32,931.04 L612.73,930.21 L613.13,929.38 L613.53,928.54 L613.92,927.71 L614.31,926.87 L614.69,926.03 L615.07,925.18 L615.45,924.34 L615.83,923.49 L616.20,922.64 L616.56,921.79 L616.93,920.94 L617.29,920.08 L617.65,919.23 L618.01,918.37 L618.36,917.51 L618.71,916.65 L619.06,915.79 L619.41,914.92 L619.75,914.06 L620.09,913.19 L620.43,912.33 L620.77,911.46 L621.11,910.59 L621.45,909.73 L621.78,908.86 L622.11,907.99 L622.45,907.12 L622.78,906.25 L623.11,905.38 L623.44,904.51 L623.77,903.64 L624.10,902.77 L624.43,901.90 L624.76,901.03 L625.09,900.16 L625.42,899.29 L625.74,898.42 L626.07,897.56 L626.40,896.69 L626.73,895.82 L627.06,894.95 L627.39,894.09 L627.72,893.22 L628.05,892.36 L628.39,891.49 L628.72,890.63 L629.05,889.76 L629.38,888.90 L629.72,888.03 L630.05,887.17 L630.39,886.31 L630.73,885.45 L631.06,884.59 L631.40,883.73 L631.74,882.87 L632.08,882.01 L632.42,881.15 L632.76,880.29 L633.11,879.44 L633.45,878.58 L633.80,877.72 L634.15,876.87 L634.49,876.02 L634.84,875.16 L635.20,874.31 L635.55,873.46 L635.90,872.61 L636.26,871.76 L636.62,870.91 L636.98,870.06 L637.34,869.21 L637.70,868.37 L638.07,867.52 L638.43,866.68 L638.80,865.84 L639.18,864.99 L639.55,864.15 L639.92,863.31 L640.30,862.47 L640.68,861.63 L641.06,860.80 L641.45,859.96 L641.83,859.13 L642.22,858.29 L642.61,857.46 L643.01,856.63 L643.40,855.80 L643.80,854.97 L644.20,854.14 L644.60,853.31 L645.01,852.48 L645.41,851.65 L645.81,850.82 L646.22,849.98 L646.62,849.15 L647.03,848.32 L647.43,847.48 L647.83,846.64 L648.24,845.80 L648.64,844.96 L649.04,844.11 L649.43,843.26 L649.83,842.41 L650.22,841.55 L650.62,840.69 L651.00,839.83 L651.39,838.96 L651.77,838.09 L652.16,837.22 L652.55,836.35 L652.94,835.48 L653.34,834.62 L653.75,833.77 L654.17,832.93 L654.60,832.09 L655.04,831.27 L655.50,830.47 L655.98,829.68 L656.48,828.91 L656.99,828.17 L657.54,827.44 L658.10,826.74 L658.70,826.07 L659.32,825.43 L659.97,824.81 L660.66,824.23 L661.37,823.68 L662.11,823.14 L662.86,822.63 L663.63,822.13 L664.41,821.64 L665.20,821.15 L665.99,820.66 L666.77,820.16 L667.55,819.66 L668.32,819.14 L669.07,818.60 L669.80,818.03 L670.50,817.44 L671.19,816.83 L671.85,816.19 L672.50,815.53 L673.14,814.86 L673.76,814.17 L674.37,813.47 L674.98,812.76 L675.57,812.04 L676.17,811.33 L676.76,810.61 L677.35,809.89 L677.94,809.17 L678.54,808.47 L679.15,807.77 L679.76,807.08 L680.39,806.41 L681.02,805.76 L681.68,805.13 L682.34,804.51 L683.03,803.93 L683.74,803.37 L684.48,802.84 L685.24,802.35 L686.02,801.89 L686.83,801.45 L687.65,801.04 L688.49,800.65 L689.34,800.27 L690.19,799.89 L691.04,799.52 L691.89,799.15 L692.74,798.77 L693.57,798.37 L694.39,797.96 L695.19,797.52 L695.97,797.06 L696.72,796.56 L697.44,796.03 L698.12,795.45 L698.77,794.83 L699.38,794.15 L699.95,793.44 L700.50,792.69 L701.02,791.91 L701.54,791.11 L702.04,790.30 L702.54,789.49 L703.05,788.68 L703.56,787.88 L704.10,787.09 L704.65,786.33 L705.24,785.60 L705.85,784.91 L706.49,784.24 L707.15,783.60 L707.84,782.99 L708.54,782.39 L709.26,781.82 L710.00,781.26 L710.75,780.71 L711.50,780.17 L712.26,779.64 L713.03,779.12 L713.79,778.59 L714.56,778.07 L715.32,777.54 L716.08,777.01 L716.83,776.48 L717.58,775.94 L718.34,775.41 L719.09,774.87 L719.83,774.33 L720.58,773.79 L721.33,773.25 L722.08,772.71 L722.83,772.16 L723.57,771.62 L724.31,771.07 L725.05,770.52 L725.79,769.97 L726.53,769.41 L727.26,768.85 L727.99,768.29 L728.72,767.72 L729.44,767.15 L730.15,766.57 L730.86,765.99 L731.57,765.40 L732.27,764.80 L732.96,764.20 L733.65,763.59 L734.33,762.98 L735.01,762.35 L735.67,761.72 L736.33,761.08 L736.98,760.44 L737.63,759.78 L738.26,759.12 L738.88,758.44 L739.50,757.76 L740.10,757.06 L740.70,756.35 L741.28,755.64 L741.86,754.92 L742.43,754.18 L742.99,753.45 L743.55,752.70 L744.10,751.95 L744.65,751.20 L745.19,750.44 L745.73,749.68 L746.27,748.92 L746.80,748.15 L747.34,747.39 L747.87,746.62 L748.41,745.86 L748.94,745.10 L749.48,744.35 L750.02,743.59 L750.56,742.84 L751.11,742.09 L751.66,741.35 L752.21,740.61 L752.76,739.87 L753.32,739.13 L753.88,738.40 L754.44,737.66 L755.00,736.93 L755.57,736.21 L756.13,735.48 L756.71,734.76 L757.28,734.04 L757.86,733.32 L758.44,732.61 L759.02,731.89 L759.61,731.18 L760.20,730.47 L760.79,729.76 L761.38,729.05 L761.98,728.35 L762.58,727.64 L763.19,726.94 L763.80,726.24 L764.41,725.54 L765.02,724.84 L765.64,724.15 L766.27,723.45 L766.90,722.77 L767.53,722.09 L768.18,721.42 L768.83,720.77 L769.50,720.14 L770.18,719.52 L770.87,718.93 L771.57,718.36 L772.30,717.82 L773.04,717.31 L773.79,716.83 L774.57,716.38 L775.37,715.97 L776.19,715.61 L777.04,715.28 L777.91,715.00 L778.81,714.77 L779.73,714.59 L780.66,714.45 L781.61,714.37 L782.57,714.33 L783.52,714.35 L784.47,714.41 L785.40,714.52 L786.32,714.69 L787.21,714.90 L788.09,715.15 L788.95,715.43 L789.80,715.75 L790.65,716.08 L791.49,716.43 L792.34,716.79 L793.18,717.15 L794.04,717.51 L794.91,717.85 L795.79,718.18 L796.68,718.50 L797.58,718.81 L798.49,719.11 L799.40,719.41 L800.30,719.72 L801.20,720.03 L802.09,720.35 L802.97,720.69 L803.84,721.04 L804.69,721.42 L805.51,721.83 L806.32,722.26 L807.10,722.72 L807.86,723.20 L808.60,723.71 L809.33,724.24 L810.03,724.80 L810.73,725.37 L811.40,725.96 L812.07,726.57 L812.72,727.19 L813.36,727.83 L814.00,728.49 L814.62,729.15 L815.24,729.83 L815.85,730.51 L816.46,731.20 L817.06,731.90 L817.66,732.61 L818.26,733.32 L818.85,734.03 L819.45,734.74 L820.06,735.46 L820.66,736.17 L821.27,736.88 L821.88,737.59 L822.51,738.29 L823.14,738.98 L823.77,739.67 L824.41,740.36 L825.06,741.04 L825.70,741.72 L826.35,742.40 L827.00,743.08 L827.64,743.76 L828.28,744.44 L828.91,745.12 L829.54,745.80 L830.16,746.49 L830.77,747.18 L831.37,747.88 L831.97,748.58 L832.55,749.29 L833.13,749.99 L833.71,750.70 L834.28,751.42 L834.84,752.14 L835.40,752.86 L835.95,753.58 L836.50,754.30 L837.05,755.03 L837.59,755.76 L838.13,756.49 L838.67,757.22 L839.21,757.96 L839.74,758.69 L840.28,759.43 L840.81,760.17 L841.35,760.90 L841.89,761.64 L842.42,762.38 L842.96,763.12 L843.50,763.86 L844.05,764.60 L844.60,765.34 L845.15,766.07 L845.70,766.81 L846.26,767.55 L846.83,768.28 L847.39,769.02 L847.97,769.75 L848.54,770.48 L849.12,771.21 L849.70,771.94 L850.29,772.66 L850.88,773.39 L851.48,774.11 L852.07,774.83 L852.68,775.54 L853.28,776.26 L853.90,776.97 L854.51,777.67 L855.13,778.38 L855.75,779.08 L856.38,779.78 L857.01,780.47 L857.65,781.16 L858.29,781.85 L858.93,782.53 L859.58,783.21 L860.23,783.88 L860.89,784.55 L861.55,785.22 L862.21,785.88 L862.88,786.54 L863.55,787.19 L864.23,787.83 L864.91,788.47 L865.60,789.11 L866.29,789.74 L866.98,790.36 L867.68,790.98 L868.38,791.59 L869.09,792.19 L869.80,792.79 L870.51,793.38 L871.23,793.97 L871.96,794.54 L872.68,795.12 L873.42,795.68 L874.15,796.24 L874.89,796.79 L875.64,797.33 L876.39,797.86 L877.14,798.39 L877.90,798.91 L878.66,799.42 L879.43,799.92 L880.20,800.42 L880.98,800.90 L881.76,801.38 L882.54,801.84 L883.33,802.30 L884.12,802.75 L884.92,803.19 L885.72,803.62 L886.53,804.04 L887.34,804.45 L888.16,804.85 L888.98,805.25 L889.80,805.63 L890.63,806.00 L891.46,806.36 L892.30,806.71 L893.14,807.05 L893.99,807.37 L894.84,807.69 L895.70,808.00 L896.56,808.30 L897.42,808.59 L898.29,808.87 L899.16,809.14 L900.03,809.40 L900.91,809.65 L901.79,809.90 L902.68,810.13 L903.57,810.36 L904.46,810.58 L905.35,810.79 L906.25,810.99 L907.15,811.18 L908.05,811.37 L908.96,811.55 L909.87,811.72 L910.78,811.89 L911.70,812.04 L912.61,812.20 L913.53,812.34 L914.46,812.48 L915.38,812.61 L916.31,812.73 L917.23,812.85 L918.16,812.96 L919.10,813.07 L920.03,813.17 L920.96,813.27 L921.90,813.36 L922.84,813.44 L923.78,813.52 L924.72,813.60 L925.66,813.67 L926.61,813.74 L927.55,813.80 L928.50,813.86 L929.44,813.91 L930.39,813.96 L931.34,814.01 L932.29,814.05 L933.23,814.09 L934.18,814.13 L935.13,814.16 L936.08,814.19 L937.03,814.22 L937.98,814.25 L938.93,814.27 L939.88,814.29 L940.83,814.31 L941.78,814.33 L942.73,814.34 L943.68,814.35 L944.63,814.37 L945.58,814.38 L946.53,814.39 L947.47,814.40 L948.42,814.40 L949.36,814.41 L950.31,814.42 L951.25,814.42 L952.19,814.43 L953.13,814.44 L954.07,814.44 L955.00,814.45 L955.94,814.46 L956.87,814.46 L957.81,814.47 L958.74,814.48 L959.66,814.49 L960.59,814.51 L961.51,814.52 L962.43,814.53 L963.35,814.55 L964.27,814.57 L965.19,814.59 L966.10,814.61 L967.01,814.64 L967.91,814.67 L968.82,814.70 L969.72,814.73 L970.62,814.77 L971.51,814.81 L972.40,814.85 L973.29,814.90 L974.18,814.95 L975.06,815.01 L975.94,815.06 L976.81,815.13 L977.68,815.19 L978.55,815.26 L979.41,815.34 L980.27,815.42" fill="none" stroke="#28dc3c" stroke-width="3.1" stroke-linejoin="round" stroke-linecap="round" clip-path="url(#cd)"/>
<path d="M593.53,943.40 L594.16,942.70 L594.78,942.00 L595.39,941.29 L596.00,940.57 L596.61,939.86 L597.20,939.14 L597.80,938.42 L598.38,937.69 L598.96,936.97 L599.54,936.24 L600.10,935.51 L600.67,934.77 L601.22,934.03 L601.78,933.29 L602.32,932.55 L602.86,931.80 L603.40,931.05 L603.93,930.30 L604.46,929.54 L604.98,928.79 L605.49,928.03 L606.00,927.27 L606.51,926.50 L607.01,925.73 L607.50,924.96 L608.00,924.19 L608.48,923.42 L608.97,922.64 L609.44,921.86 L609.92,921.08 L610.39,920.30 L610.85,919.52 L611.31,918.73 L611.77,917.94 L612.22,917.15 L612.67,916.35 L613.11,915.56 L613.55,914.76 L613.99,913.96 L614.42,913.16 L614.85,912.36 L615.28,911.55 L615.70,910.74 L616.12,909.94 L616.53,909.13 L616.94,908.31 L617.35,907.50 L617.76,906.68 L618.16,905.87 L618.56,905.05 L618.95,904.23 L619.35,903.41 L619.74,902.58 L620.12,901.76 L620.51,900.93 L620.89,900.10 L621.27,899.27 L621.65,898.44 L622.02,897.61 L622.39,896.78 L622.76,895.95 L623.13,895.11 L623.49,894.27 L623.85,893.44 L624.21,892.60 L624.57,891.76 L624.93,890.92 L625.28,890.07 L625.64,889.23 L625.99,888.39 L626.34,887.54 L626.68,886.70 L627.03,885.85 L627.37,885.00 L627.72,884.15 L628.06,883.30 L628.40,882.45 L628.74,881.60 L629.07,880.75 L629.41,879.90 L629.75,879.05 L630.08,878.20 L630.41,877.34 L630.75,876.49 L631.08,875.63 L631.41,874.78 L631.74,873.92 L632.07,873.07 L632.40,872.21 L632.73,871.36 L633.06,870.50 L633.39,869.64 L633.72,868.78 L634.04,867.93 L634.37,867.07 L634.70,866.21 L635.03,865.35 L635.35,864.50 L635.68,863.64 L636.01,862.78 L636.34,861.92 L636.67,861.07 L637.00,860.21 L637.33,859.35 L637.66,858.49 L637.99,857.64 L638.32,856.78 L638.65,855.92 L638.98,855.07 L639.32,854.21 L639.65,853.36 L639.99,852.50 L640.32,851.65 L640.66,850.79 L641.00,849.94 L641.34,849.08 L641.68,848.23 L642.03,847.38 L642.37,846.53 L642.72,845.68 L643.06,844.83 L643.41,843.98 L643.76,843.13 L644.12,842.28 L644.47,841.43 L644.83,840.59 L645.19,839.74 L645.55,838.90 L645.91,838.05 L646.27,837.21 L646.64,836.37 L647.01,835.53 L647.38,834.69 L647.76,833.85 L648.14,833.02 L648.52,832.18 L648.90,831.35 L649.29,830.52 L649.68,829.69 L650.07,828.87 L650.47,828.04 L650.87,827.22 L651.28,826.40 L651.69,825.58 L652.10,824.77 L652.52,823.96 L652.94,823.15 L653.37,822.34 L653.80,821.54 L654.23,820.74 L654.67,819.94 L655.12,819.15 L655.57,818.35 L656.02,817.57 L656.48,816.78 L656.95,816.00 L657.42,815.23 L657.90,814.45 L658.38,813.68 L658.87,812.92 L659.36,812.16 L659.86,811.40 L660.37,810.65 L660.88,809.90 L661.40,809.15 L661.92,808.42 L662.45,807.68 L662.99,806.95 L663.54,806.22 L664.09,805.50 L664.65,804.79 L665.21,804.08 L665.79,803.37 L666.37,802.67 L666.96,801.98 L667.55,801.29 L668.16,800.60 L668.77,799.92 L669.38,799.24 L670.00,798.56 L670.62,797.88 L671.24,797.20 L671.86,796.52 L672.48,795.84 L673.11,795.15 L673.73,794.45 L674.35,793.75 L674.96,793.04 L675.57,792.32 L676.18,791.59 L676.78,790.86 L677.37,790.11 L677.95,789.34 L678.54,788.58 L679.12,787.82 L679.71,787.07 L680.32,786.36 L680.96,785.69 L681.62,785.07 L682.32,784.52 L683.06,784.05 L683.86,783.66 L684.71,783.38 L685.61,783.21 L686.56,783.17 L687.51,783.29 L688.44,783.58 L689.34,784.06 L690.19,784.66 L691.02,785.32 L691.82,785.95 L692.60,786.49 L693.38,786.85 L694.16,786.97 L694.95,786.84 L695.74,786.53 L696.55,786.11 L697.36,785.63 L698.19,785.17 L699.03,784.76 L699.89,784.43 L700.76,784.15 L701.65,783.93 L702.54,783.76 L703.44,783.63 L704.35,783.54 L705.27,783.49 L706.19,783.46 L707.12,783.45 L708.05,783.46 L708.98,783.48 L709.91,783.51 L710.84,783.53 L711.77,783.55 L712.69,783.56 L713.61,783.55 L714.52,783.51 L715.42,783.45 L716.32,783.36 L717.21,783.24 L718.09,783.09 L718.96,782.91 L719.82,782.70 L720.68,782.47 L721.52,782.21 L722.36,781.92 L723.19,781.61 L724.02,781.28 L724.83,780.93 L725.64,780.55 L726.45,780.16 L727.24,779.74 L728.03,779.30 L728.81,778.85 L729.58,778.38 L730.35,777.89 L731.11,777.38 L731.86,776.86 L732.61,776.33 L733.35,775.78 L734.08,775.22 L734.81,774.64 L735.53,774.06 L736.24,773.46 L736.95,772.86 L737.65,772.25 L738.35,771.62 L739.04,771.00 L739.72,770.36 L740.40,769.72 L741.07,769.08 L741.74,768.43 L742.40,767.78 L743.06,767.12 L743.71,766.46 L744.36,765.80 L745.00,765.14 L745.64,764.47 L746.27,763.80 L746.91,763.13 L747.54,762.46 L748.16,761.79 L748.79,761.12 L749.41,760.44 L750.03,759.77 L750.65,759.09 L751.26,758.42 L751.88,757.74 L752.50,757.07 L753.11,756.39 L753.73,755.72 L754.34,755.05 L754.96,754.37 L755.58,753.70 L756.20,753.04 L756.81,752.37 L757.44,751.71 L758.06,751.04 L758.69,750.38 L759.32,749.73 L759.95,749.07 L760.58,748.42 L761.22,747.78 L761.86,747.13 L762.50,746.49 L763.15,745.85 L763.80,745.21 L764.45,744.58 L765.10,743.94 L765.76,743.31 L766.42,742.68 L767.08,742.05 L767.74,741.43 L768.40,740.80 L769.07,740.18 L769.74,739.55 L770.41,738.93 L771.08,738.31 L771.75,737.69 L772.42,737.07 L773.10,736.45 L773.77,735.83 L774.45,735.21 L775.13,734.59 L775.81,733.97 L776.48,733.35 L777.16,732.73 L777.85,732.11 L778.53,731.49 L779.21,730.86 L779.89,730.24 L780.57,729.61 L781.25,728.99 L781.93,728.36 L782.61,727.73 L783.30,727.09 L783.98,726.46 L784.66,725.83 L785.35,725.21 L786.04,724.60 L786.75,724.00 L787.46,723.44 L788.19,722.90 L788.94,722.40 L789.71,721.93 L790.50,721.52 L791.31,721.15 L792.16,720.84 L793.03,720.59 L793.93,720.40 L794.85,720.28 L795.79,720.20 L796.73,720.19 L797.68,720.22 L798.63,720.30 L799.57,720.43 L800.49,720.61 L801.40,720.83 L802.28,721.08 L803.14,721.38 L803.98,721.71 L804.80,722.08 L805.59,722.49 L806.37,722.93 L807.12,723.40 L807.86,723.90 L808.57,724.43 L809.26,724.99 L809.94,725.58 L810.59,726.19 L811.23,726.83 L811.85,727.48 L812.46,728.17 L813.04,728.87 L813.61,729.59 L814.17,730.32 L814.71,731.08 L815.23,731.85 L815.74,732.63 L816.23,733.43 L816.71,734.23 L817.18,735.05 L817.63,735.87 L818.08,736.70 L818.51,737.54 L818.92,738.38 L819.33,739.23 L819.72,740.07 L820.11,740.92 L820.49,741.76 L820.87,742.60 L821.25,743.44 L821.64,744.26 L822.04,745.07 L822.45,745.87 L822.89,746.64 L823.35,747.41 L823.84,748.14 L824.36,748.86 L824.92,749.54 L825.52,750.20 L826.15,750.84 L826.80,751.46 L827.48,752.06 L828.16,752.67 L828.85,753.27 L829.53,753.88 L830.20,754.50 L830.86,755.13 L831.51,755.78 L832.14,756.43 L832.77,757.09 L833.38,757.77 L833.99,758.45 L834.59,759.14 L835.18,759.83 L835.76,760.54 L836.33,761.25 L836.90,761.97 L837.46,762.69 L838.02,763.42 L838.57,764.15 L839.12,764.89 L839.67,765.63 L840.21,766.37 L840.74,767.12 L841.28,767.87 L841.81,768.61 L842.35,769.36 L842.88,770.12 L843.41,770.87 L843.94,771.62 L844.48,772.36 L845.01,773.11 L845.55,773.86 L846.09,774.60 L846.63,775.34 L847.18,776.07 L847.73,776.80 L848.28,777.53 L848.84,778.25 L849.41,778.96 L849.98,779.67 L850.56,780.37 L851.15,781.07 L851.75,781.76 L852.35,782.43 L852.96,783.10 L853.58,783.76 L854.21,784.42 L854.85,785.06 L855.49,785.70 L856.14,786.34 L856.80,786.97 L857.46,787.59 L858.13,788.21 L858.80,788.82 L859.48,789.43 L860.16,790.04 L860.84,790.64 L861.53,791.24 L862.22,791.84 L862.92,792.44 L863.61,793.04 L864.31,793.64 L865.01,794.24 L865.71,794.84 L866.41,795.44 L867.11,796.04 L867.81,796.64 L868.51,797.25 L869.21,797.86 L869.90,798.48 L870.60,799.10 L871.29,799.72 L871.98,800.34 L872.68,800.96 L873.37,801.59 L874.06,802.21 L874.75,802.83 L875.45,803.45 L876.15,804.06 L876.85,804.66 L877.55,805.26 L878.26,805.85 L878.98,806.44 L879.69,807.01 L880.42,807.57 L881.15,808.11 L881.89,808.65 L882.63,809.16 L883.38,809.67 L884.14,810.15 L884.91,810.62 L885.69,811.07 L886.48,811.49 L887.28,811.90 L888.09,812.28 L888.91,812.64 L889.74,812.97 L890.59,813.28 L891.45,813.56 L892.32,813.82 L893.20,814.05 L894.10,814.25 L895.00,814.44 L895.92,814.60 L896.84,814.74 L897.76,814.87 L898.69,814.99 L899.63,815.09 L900.57,815.18 L901.51,815.25 L902.45,815.33 L903.39,815.39 L904.33,815.45 L905.26,815.50 L906.19,815.55 L907.13,815.60 L908.06,815.65 L908.98,815.69 L909.91,815.72 L910.83,815.76 L911.75,815.79 L912.67,815.82 L913.59,815.84 L914.50,815.86 L915.42,815.88 L916.33,815.90 L917.24,815.91 L918.15,815.92 L919.06,815.93 L919.97,815.94 L920.88,815.94 L921.78,815.94 L922.68,815.94 L923.59,815.94 L924.49,815.94 L925.39,815.93 L926.29,815.92 L927.19,815.91 L928.09,815.90 L928.99,815.89 L929.88,815.88 L930.78,815.86 L931.68,815.85 L932.57,815.83 L933.47,815.81 L934.37,815.79 L935.26,815.77 L936.16,815.75 L937.05,815.73 L937.95,815.71 L938.84,815.69 L939.74,815.67 L940.63,815.65 L941.53,815.63 L942.43,815.61 L943.32,815.58 L944.22,815.56 L945.12,815.54 L946.02,815.52 L946.92,815.50 L947.82,815.48 L948.72,815.46 L949.62,815.44 L950.52,815.43 L951.43,815.41 L952.33,815.40 L953.24,815.38 L954.14,815.37 L955.05,815.36 L955.96,815.35 L956.87,815.34 L957.79,815.33 L958.70,815.33 L959.62,815.32 L960.53,815.32 L961.45,815.32 L962.37,815.32 L963.30,815.33 L964.22,815.34 L965.15,815.35 L966.08,815.36 L967.01,815.37 L967.94,815.39 L968.88,815.41 L969.81,815.43 L970.75,815.46 L971.70,815.49 L972.64,815.52 L973.59,815.55 L974.54,815.59 L975.49,815.64 L976.45,815.68 L977.41,815.73 L978.37,815.78 L979.33,815.84 L980.30,815.90" fill="none" stroke="#1464dc" stroke-width="3.1" stroke-linejoin="round" stroke-linecap="round" clip-path="url(#cd)"/>
<path d="M593.68,915.38 L594.00,914.60 L594.37,913.87 L594.79,913.21 L595.26,912.59 L595.76,912.02 L596.30,911.49 L596.87,910.99 L597.47,910.53 L598.10,910.09 L598.74,909.68 L599.39,909.27 L600.06,908.89 L600.73,908.50 L601.40,908.12 L602.07,907.74 L602.73,907.34 L603.38,906.93 L604.01,906.51 L604.63,906.06 L605.22,905.58 L605.79,905.08 L606.33,904.54 L606.86,903.99 L607.37,903.42 L607.87,902.84 L608.36,902.24 L608.85,901.64 L609.33,901.03 L609.82,900.42 L610.30,899.82 L610.79,899.22 L611.29,898.62 L611.79,898.03 L612.30,897.45 L612.81,896.86 L613.32,896.29 L613.84,895.71 L614.36,895.14 L614.88,894.57 L615.41,894.01 L615.93,893.45 L616.46,892.89 L617.00,892.33 L617.53,891.77 L618.06,891.21 L618.60,890.66 L619.13,890.10 L619.67,889.55 L620.20,888.99 L620.74,888.44 L621.27,887.88 L621.80,887.33 L622.34,886.77 L622.86,886.21 L623.39,885.65 L623.92,885.08 L624.44,884.52 L624.96,883.95 L625.47,883.38 L625.99,882.80 L626.49,882.22 L627.00,881.64 L627.50,881.06 L627.99,880.46 L628.48,879.87 L628.96,879.27 L629.44,878.66 L629.91,878.05 L630.38,877.43 L630.83,876.80 L631.28,876.17 L631.73,875.53 L632.16,874.89 L632.59,874.24 L633.01,873.58 L633.43,872.91 L633.84,872.24 L634.25,871.58 L634.65,870.91 L635.06,870.24 L635.47,869.57 L635.88,868.91 L636.30,868.25 L636.72,867.60 L637.15,866.96 L637.58,866.33 L638.03,865.72 L638.49,865.11 L638.96,864.52 L639.44,863.95 L639.94,863.39 L640.46,862.85 L640.99,862.33 L641.55,861.84 L642.12,861.37 L642.72,860.92 L643.34,860.50 L643.99,860.11 L644.66,859.75 L645.34,859.40 L646.04,859.07 L646.75,858.75 L647.46,858.43 L648.17,858.11 L648.86,857.78 L649.55,857.43 L650.21,857.06 L650.85,856.67 L651.48,856.26 L652.09,855.83 L652.68,855.38 L653.25,854.91 L653.81,854.43 L654.36,853.92 L654.89,853.40 L655.41,852.87 L655.92,852.32 L656.41,851.75 L656.90,851.17 L657.38,850.58 L657.85,849.97 L658.31,849.35 L658.76,848.72 L659.21,848.08 L659.65,847.43 L660.09,846.77 L660.53,846.10 L660.96,845.43 L661.39,844.74 L661.82,844.05 L662.25,843.35 L662.68,842.65 L663.11,841.94 L663.54,841.22 L663.98,840.51 L664.42,839.79 L664.86,839.07 L665.31,838.35 L665.77,837.64 L666.24,836.95 L666.71,836.28 L667.20,835.65 L667.70,835.07 L668.22,834.54 L668.76,834.06 L669.31,833.66 L669.88,833.34 L670.47,833.10 L671.09,832.95 L671.73,832.90 L672.39,832.95 L673.07,833.06 L673.77,833.24 L674.49,833.46 L675.21,833.71 L675.95,833.98 L676.70,834.26 L677.46,834.52 L678.22,834.76 L678.98,834.97 L679.75,835.11 L680.51,835.20 L681.27,835.20 L682.02,835.11 L682.77,834.96 L683.51,834.75 L684.25,834.51 L684.99,834.23 L685.72,833.94 L686.45,833.65 L687.17,833.38 L687.89,833.14 L688.61,832.94 L689.32,832.80 L690.04,832.73 L690.74,832.74 L691.45,832.81 L692.16,832.95 L692.86,833.15 L693.57,833.39 L694.27,833.68 L694.98,833.99 L695.68,834.34 L696.39,834.71 L697.10,835.08 L697.81,835.47 L698.53,835.85 L699.25,836.22 L699.97,836.58 L700.70,836.91 L701.44,837.22 L702.18,837.49 L702.92,837.71 L703.68,837.90 L704.43,838.04 L705.20,838.16 L705.96,838.25 L706.73,838.31 L707.51,838.35 L708.28,838.38 L709.06,838.39 L709.84,838.39 L710.62,838.39 L711.40,838.38 L712.19,838.38 L712.97,838.39 L713.74,838.40 L714.52,838.44 L715.29,838.48 L716.07,838.55 L716.84,838.64 L717.60,838.74 L718.37,838.85 L719.13,838.98 L719.89,839.12 L720.65,839.27 L721.41,839.42 L722.17,839.59 L722.92,839.76 L723.68,839.93 L724.43,840.11 L725.18,840.29 L725.93,840.47 L726.68,840.65 L727.43,840.82 L728.18,840.99 L728.93,841.16 L729.68,841.32 L730.42,841.47 L731.17,841.61 L731.92,841.74 L732.67,841.86 L733.42,841.96 L734.17,842.05 L734.92,842.12 L735.67,842.17 L736.42,842.20 L737.17,842.21 L737.93,842.20 L738.68,842.17 L739.43,842.12 L740.19,842.04 L740.94,841.95 L741.69,841.84 L742.44,841.71 L743.19,841.57 L743.93,841.41 L744.67,841.23 L745.41,841.03 L746.15,840.82 L746.88,840.59 L747.60,840.35 L748.32,840.10 L749.04,839.82 L749.75,839.54 L750.46,839.24 L751.16,838.92 L751.85,838.59 L752.54,838.25 L753.22,837.89 L753.89,837.52 L754.56,837.13 L755.21,836.74 L755.86,836.33 L756.51,835.90 L757.14,835.47 L757.76,835.02 L758.38,834.56 L758.99,834.08 L759.58,833.60 L760.17,833.10 L760.75,832.59 L761.31,832.07 L761.88,831.55 L762.43,831.01 L762.98,830.48 L763.53,829.94 L764.08,829.39 L764.63,828.85 L765.18,828.31 L765.74,827.77 L766.30,827.23 L766.87,826.70 L767.44,826.18 L768.03,825.67 L768.62,825.17 L769.23,824.68 L769.85,824.20 L770.49,823.74 L771.14,823.29 L771.80,822.85 L772.46,822.41 L773.13,821.99 L773.79,821.56 L774.45,821.13 L775.09,820.70 L775.73,820.26 L776.35,819.81 L776.95,819.35 L777.53,818.88 L778.08,818.39 L778.61,817.88 L779.11,817.35 L779.59,816.80 L780.05,816.24 L780.49,815.66 L780.92,815.07 L781.33,814.45 L781.73,813.83 L782.11,813.18 L782.49,812.52 L782.86,811.85 L783.23,811.17 L783.59,810.47 L783.94,809.76 L784.29,809.05 L784.64,808.33 L784.98,807.60 L785.33,806.86 L785.67,806.13 L786.02,805.39 L786.36,804.65 L786.71,803.91 L787.07,803.18 L787.42,802.44 L787.78,801.72 L788.15,801.00 L788.52,800.28 L788.91,799.58 L789.30,798.88 L789.70,798.20 L790.11,797.53 L790.53,796.87 L790.97,796.23 L791.41,795.61 L791.87,795.00 L792.35,794.42 L792.84,793.85 L793.35,793.31 L793.88,792.79 L794.42,792.29 L794.99,791.83 L795.57,791.39 L796.18,790.98 L796.81,790.60 L797.46,790.25 L798.12,789.95 L798.81,789.70 L799.51,789.52 L800.22,789.41 L800.94,789.38 L801.66,789.43 L802.40,789.56 L803.13,789.74 L803.88,789.96 L804.62,790.21 L805.38,790.48 L806.13,790.74 L806.89,790.98 L807.65,791.19 L808.41,791.36 L809.17,791.47 L809.93,791.51 L810.69,791.48 L811.45,791.40 L812.21,791.28 L812.97,791.11 L813.73,790.91 L814.48,790.68 L815.23,790.43 L815.98,790.17 L816.72,789.94 L817.45,789.73 L818.17,789.57 L818.89,789.47 L819.59,789.45 L820.28,789.52 L820.96,789.67 L821.63,789.90 L822.29,790.20 L822.94,790.56 L823.58,790.97 L824.22,791.42 L824.85,791.90 L825.48,792.41 L826.10,792.92 L826.72,793.45 L827.34,793.97 L827.96,794.48 L828.58,794.99 L829.19,795.50 L829.81,796.01 L830.42,796.51 L831.03,797.01 L831.65,797.50 L832.26,797.99 L832.87,798.48 L833.48,798.97 L834.09,799.45 L834.69,799.93 L835.30,800.40 L835.91,800.87 L836.52,801.34 L837.13,801.81 L837.74,802.27 L838.35,802.73 L838.96,803.19 L839.57,803.65 L840.18,804.10 L840.79,804.55 L841.40,805.00 L842.01,805.44 L842.63,805.88 L843.24,806.32 L843.86,806.76 L844.48,807.19 L845.10,807.63 L845.72,808.06 L846.34,808.48 L846.96,808.91 L847.59,809.33 L848.22,809.76 L848.84,810.18 L849.48,810.59 L850.11,811.01 L850.75,811.43 L851.38,811.84 L852.02,812.25 L852.67,812.66 L853.31,813.07 L853.96,813.47 L854.61,813.88 L855.27,814.28 L855.93,814.68 L856.59,815.08 L857.25,815.48 L857.92,815.88 L858.59,816.28 L859.26,816.67 L859.94,817.07 L860.62,817.46 L861.31,817.85 L862.00,818.24 L862.69,818.63 L863.39,819.01 L864.08,819.39 L864.79,819.76 L865.49,820.12 L866.20,820.48 L866.91,820.84 L867.62,821.18 L868.34,821.52 L869.05,821.85 L869.77,822.17 L870.50,822.48 L871.22,822.78 L871.95,823.07 L872.68,823.35 L873.41,823.62 L874.14,823.87 L874.88,824.11 L875.61,824.34 L876.35,824.55 L877.09,824.75 L877.83,824.93 L878.57,825.10 L879.31,825.25 L880.06,825.38 L880.80,825.49 L881.55,825.59 L882.30,825.67 L883.04,825.74 L883.79,825.79 L884.54,825.82 L885.29,825.85 L886.04,825.85 L886.80,825.85 L887.55,825.83 L888.30,825.80 L889.06,825.76 L889.81,825.70 L890.57,825.64 L891.33,825.56 L892.08,825.48 L892.84,825.38 L893.60,825.28 L894.36,825.17 L895.12,825.05 L895.88,824.92 L896.64,824.78 L897.40,824.64 L898.16,824.49 L898.92,824.34 L899.69,824.18 L900.45,824.01 L901.21,823.85 L901.98,823.67 L902.74,823.50 L903.50,823.32 L904.27,823.14 L905.03,822.96 L905.80,822.77 L906.56,822.59 L907.33,822.40 L908.09,822.21 L908.86,822.03 L909.62,821.84 L910.39,821.66 L911.15,821.48 L911.92,821.30 L912.68,821.13 L913.45,820.95 L914.21,820.78 L914.97,820.62 L915.74,820.46 L916.50,820.31 L917.27,820.16 L918.03,820.01 L918.79,819.88 L919.56,819.75 L920.32,819.63 L921.08,819.51 L921.85,819.40 L922.61,819.30 L923.37,819.20 L924.13,819.11 L924.89,819.03 L925.65,818.95 L926.42,818.88 L927.18,818.81 L927.94,818.75 L928.70,818.70 L929.46,818.64 L930.22,818.60 L930.98,818.56 L931.74,818.52 L932.50,818.49 L933.26,818.46 L934.02,818.44 L934.79,818.42 L935.55,818.40 L936.31,818.39 L937.07,818.38 L937.83,818.38 L938.59,818.37 L939.35,818.38 L940.11,818.38 L940.87,818.39 L941.64,818.40 L942.40,818.41 L943.16,818.42 L943.92,818.44 L944.68,818.46 L945.45,818.48 L946.21,818.50 L946.97,818.53 L947.74,818.55 L948.50,818.58 L949.27,818.61 L950.03,818.64 L950.80,818.67 L951.56,818.70 L952.33,818.73 L953.09,818.76 L953.86,818.79 L954.63,818.82 L955.40,818.85 L956.16,818.89 L956.93,818.92 L957.70,818.95 L958.47,818.98 L959.24,819.00 L960.01,819.03 L960.78,819.06 L961.56,819.08 L962.33,819.11 L963.10,819.13 L963.87,819.15 L964.65,819.17 L965.42,819.19 L966.20,819.20 L966.98,819.21 L967.75,819.22 L968.53,819.23 L969.31,819.23 L970.09,819.23 L970.87,819.23 L971.65,819.22 L972.43,819.22 L973.22,819.20 L974.00,819.19 L974.78,819.17 L975.57,819.14 L976.36,819.11 L977.14,819.08 L977.93,819.04 L978.72,819.00 L979.51,818.95 L980.30,818.90" fill="none" stroke="#dc0000" stroke-width="3.1" stroke-linejoin="round" stroke-linecap="round" clip-path="url(#cd)"/>
<path d="M1155.30,642.50 L1155.80,760.00 L1156.50,860.00 L1158.00,920.00 L1160.50,950.00 L1164.00,961.00 L1164.00,961.82 L1164.87,958.75 L1165.73,959.70 L1166.57,958.43 L1167.40,958.11 L1168.21,956.80 L1169.00,956.56 L1169.78,954.85 L1170.55,953.69 L1171.30,953.27 L1172.04,952.28 L1172.76,951.00 L1173.48,950.12 L1174.18,949.61 L1174.87,948.66 L1175.55,947.17 L1176.22,946.26 L1176.89,944.65 L1177.54,945.25 L1178.18,943.41 L1178.82,943.13 L1179.45,941.73 L1180.07,941.42 L1180.68,940.24 L1181.29,938.68 L1181.89,938.20 L1182.49,936.08 L1183.09,936.06 L1183.68,933.79 L1184.26,933.58 L1184.85,932.87 L1185.43,931.44 L1186.01,930.13 L1186.59,928.88 L1187.17,928.02 L1187.74,927.59 L1188.32,926.44 L1188.90,924.85 L1189.48,923.33 L1190.06,923.11 L1190.64,921.06 L1191.23,920.39 L1191.81,919.20 L1192.41,918.77 L1193.00,917.45 L1193.60,916.45 L1194.20,915.27 L1194.81,913.75 L1195.42,913.20 L1196.04,912.51 L1196.67,910.77 L1197.30,909.99 L1197.94,908.58 L1198.58,908.03 L1199.23,906.80 L1199.89,905.84 L1200.56,904.55 L1201.24,904.09 L1201.93,902.16 L1202.62,901.15 L1203.33,900.03 L1204.04,899.57 L1204.77,898.03 L1205.51,897.05 L1206.26,896.71 L1207.02,895.96 L1207.79,894.77 L1208.58,892.39 L1209.37,892.28 L1210.19,891.35 L1211.01,890.43 L1211.85,889.95 L1212.71,890.13 L1213.57,888.37 L1214.46,887.40 L1215.36,887.29 L1216.28,886.27 L1217.21,885.58 L1218.16,884.53 L1219.12,884.18 L1220.11,883.74 L1221.11,882.07 L1222.13,881.63 L1223.17,882.28 L1224.23,881.65 L1225.30,880.55 L1226.38,879.85 L1227.48,879.79 L1228.59,878.94 L1229.71,878.95 L1230.84,879.52 L1231.98,878.53 L1233.13,878.74 L1234.28,877.89 L1235.44,877.96 L1236.60,878.27 L1237.76,876.94 L1238.93,877.31 L1240.09,877.37 L1241.26,877.58 L1242.42,878.21 L1243.58,877.93 L1244.74,877.09 L1245.89,877.84 L1247.04,877.80 L1248.17,878.07 L1249.30,879.73 L1250.42,878.73 L1251.53,879.75 L1252.63,879.80 L1253.72,881.02 L1254.80,881.35 L1255.87,881.83 L1256.94,882.35 L1257.99,883.54 L1259.04,883.27 L1260.08,884.04 L1261.11,884.56 L1262.13,886.38 L1263.15,886.36 L1264.15,886.74 L1265.16,887.74 L1266.15,889.78 L1267.14,889.34 L1268.12,890.50 L1269.10,891.06 L1270.07,891.58 L1271.04,892.01 L1271.99,892.91 L1272.95,893.64 L1273.90,893.55 L1274.84,896.45 L1275.78,896.45 L1276.72,896.83 L1277.65,897.44 L1278.57,897.93 L1279.50,899.47 L1280.42,899.71 L1281.33,900.77 L1282.24,900.69 L1283.15,902.25 L1284.06,903.74 L1284.96,903.48 L1285.86,904.74 L1286.76,905.16 L1287.65,906.42 L1288.55,907.17 L1289.44,907.49 L1290.33,907.99 L1291.21,909.15 L1292.10,909.82 L1292.99,910.30 L1293.87,911.57 L1294.76,912.34 L1295.64,912.53 L1296.52,913.67 L1297.41,915.82 L1298.29,915.66 L1299.17,916.13 L1300.06,918.01 L1300.94,917.46 L1301.83,917.35 L1302.71,918.40 L1303.60,919.37 L1304.49,920.97 L1305.38,922.09 L1306.27,921.47 L1307.16,923.75 L1308.06,923.50 L1308.95,924.97 L1309.85,925.86 L1310.75,926.65 L1311.65,927.26 L1312.55,928.13 L1313.46,928.34 L1314.36,929.78 L1315.27,930.90 L1316.18,931.68 L1317.09,933.24 L1318.00,933.35 L1318.91,933.98 L1319.83,935.20 L1320.74,935.36 L1321.66,935.46 L1322.58,935.83 L1323.50,938.20 L1324.43,938.68 L1325.35,939.59 L1326.28,939.85 L1327.21,940.94 L1328.14,942.41 L1329.08,942.50 L1330.01,942.62 L1330.95,943.71 L1331.89,945.30 L1332.83,944.95 L1333.78,945.05 L1334.72,945.94 L1335.67,947.14 L1336.62,948.86 L1337.57,949.29 L1338.53,949.67 L1339.49,950.18 L1340.45,951.45 L1341.41,952.17 L1342.37,952.73 L1343.34,953.60 L1344.31,954.10 L1345.28,955.98 L1346.25,954.82 L1347.23,956.66 L1348.21,956.86 L1349.19,958.34 L1350.17,958.62 L1351.16,959.59 L1352.15,960.36 L1353.14,960.90 L1354.13,961.93 L1355.13,961.53 L1356.13,963.26 L1357.13,963.40 L1358.14,964.33 L1359.14,965.51 L1360.15,965.96 L1361.17,966.99 L1362.18,965.72 L1363.20,966.93 L1364.22,968.42 L1365.25,968.09 L1366.27,969.13 L1367.30,970.58 L1368.34,970.80 L1369.37,970.56 L1370.41,971.78 L1371.46,972.44 L1372.50,972.74 L1373.55,973.22 L1374.60,973.88 L1375.66,973.69 L1376.71,974.95 L1377.78,974.99 L1378.84,976.12 L1379.91,976.64 L1380.98,976.55 L1382.05,977.72 L1383.13,978.09 L1384.21,978.39 L1385.29,979.20 L1386.38,979.19 L1387.47,979.66 L1388.56,980.26 L1389.66,980.64 L1390.76,981.61 L1391.86,980.44 L1392.97,981.79 L1394.07,981.42 L1395.18,982.49 L1396.30,983.22 L1397.41,983.49 L1398.53,984.30 L1399.65,984.37 L1400.78,983.36 L1401.90,984.44 L1403.03,985.99 L1404.16,986.33 L1405.30,986.00 L1406.43,985.59 L1407.57,987.58 L1408.71,985.97 L1409.86,987.36 L1411.00,987.50 L1412.15,987.92 L1413.30,987.57 L1414.45,988.20 L1415.61,989.14 L1416.76,988.70 L1417.92,988.56 L1419.08,989.43 L1420.25,989.73 L1421.41,989.88 L1422.58,989.82 L1423.74,990.65 L1424.92,990.58 L1426.09,990.33 L1427.26,991.18 L1428.44,991.28 L1429.61,991.57 L1430.79,990.94 L1431.97,991.56 L1433.16,992.31 L1434.34,992.71 L1435.52,992.63 L1436.71,992.73 L1437.90,993.16 L1439.09,993.45 L1440.28,993.97 L1441.47,993.55 L1442.66,993.24 L1443.86,993.87 L1445.05,992.92 L1446.25,993.97 L1447.45,993.89 L1448.65,994.22 L1449.85,994.58 L1451.05,994.52 L1452.25,993.97 L1453.46,994.58 L1454.66,994.50 L1455.86,994.97 L1457.07,995.25 L1458.28,994.76 L1459.48,995.63 L1460.69,995.99 L1461.90,995.38 L1463.11,995.93 L1464.32,995.03 L1465.53,995.54 L1466.74,996.31 L1467.95,995.17 L1469.16,995.81 L1470.38,995.72 L1471.59,996.72 L1472.80,996.79 L1474.02,996.07 L1475.23,996.47 L1476.44,995.31 L1477.66,996.94 L1478.87,996.78 L1480.09,997.28 L1481.30,995.67 L1482.52,996.96 L1483.73,996.70 L1484.94,995.74 L1486.16,996.66 L1487.37,996.99 L1488.59,997.44 L1489.80,997.22 L1491.01,996.95 L1492.23,997.43 L1493.44,997.23 L1494.65,997.03 L1495.87,996.91 L1497.08,997.48 L1498.29,997.53 L1499.50,998.33 L1500.71,997.34 L1501.92,998.31 L1503.13,997.79 L1504.34,998.21 L1505.55,997.31 L1506.76,997.37 L1507.96,997.67 L1509.17,998.25 L1510.37,997.97 L1511.58,998.27 L1512.78,998.12 L1513.98,998.48 L1515.19,998.15 L1516.39,997.87 L1517.59,998.38 L1518.78,998.24 L1519.98,999.03 L1521.18,998.22 L1522.37,998.39 L1523.57,998.25 L1524.76,998.96 L1525.95,998.88 L1527.14,998.84 L1528.33,998.04 L1529.51,997.97 L1530.70,998.83 L1531.88,999.09 L1533.07,999.49 L1534.25,998.08 L1535.43,998.88 L1536.60,998.26 L1537.78,998.65 L1538.95,999.05 L1540.13,999.66 L1541.30,999.06" fill="none" stroke="#000000" stroke-width="3.1" stroke-linejoin="round" stroke-linecap="round" clip-path="url(#ce)"/>
<path d="M1155.60,745.00 L1156.30,800.00 L1157.20,870.00 L1158.60,922.00 L1161.00,948.00 L1164.00,957.50 L1164.00,957.81 L1164.83,956.12 L1165.65,954.90 L1166.46,953.33 L1167.25,953.53 L1168.03,953.28 L1168.80,951.75 L1169.56,950.99 L1170.31,950.23 L1171.04,948.38 L1171.76,948.97 L1172.48,946.37 L1173.18,945.92 L1173.87,945.97 L1174.55,943.67 L1175.23,942.74 L1175.89,941.42 L1176.54,940.77 L1177.19,938.62 L1177.83,938.23 L1178.46,938.23 L1179.08,936.50 L1179.70,935.24 L1180.31,934.44 L1180.91,933.39 L1181.50,932.19 L1182.09,931.30 L1182.68,929.21 L1183.25,929.13 L1183.83,927.46 L1184.40,927.02 L1184.96,925.55 L1185.52,924.00 L1186.08,923.31 L1186.63,921.77 L1187.18,921.56 L1187.73,919.97 L1188.27,919.23 L1188.81,917.22 L1189.35,917.31 L1189.89,915.31 L1190.43,914.93 L1190.97,913.55 L1191.51,911.53 L1192.05,911.03 L1192.60,909.50 L1193.14,908.78 L1193.69,908.09 L1194.24,906.61 L1194.79,905.64 L1195.35,903.48 L1195.91,902.96 L1196.48,901.88 L1197.05,901.07 L1197.62,899.16 L1198.21,898.55 L1198.80,897.35 L1199.40,895.34 L1200.00,894.43 L1200.62,893.97 L1201.24,892.11 L1201.87,890.97 L1202.51,890.81 L1203.17,889.42 L1203.83,888.08 L1204.50,887.12 L1205.19,885.80 L1205.89,884.64 L1206.60,883.59 L1207.32,882.89 L1208.06,882.24 L1208.81,880.36 L1209.58,879.48 L1210.36,878.36 L1211.15,876.85 L1211.96,876.50 L1212.79,875.76 L1213.63,874.00 L1214.49,873.78 L1215.36,872.20 L1216.25,872.07 L1217.15,871.22 L1218.07,869.65 L1219.00,868.13 L1219.95,868.11 L1220.91,866.94 L1221.89,866.32 L1222.88,866.20 L1223.89,866.38 L1224.91,865.25 L1225.94,864.76 L1226.99,863.66 L1228.05,863.91 L1229.12,863.30 L1230.20,863.95 L1231.29,863.32 L1232.39,863.43 L1233.50,863.39 L1234.61,863.30 L1235.74,863.85 L1236.86,863.72 L1238.00,863.48 L1239.14,863.85 L1240.28,864.24 L1241.43,864.85 L1242.58,864.57 L1243.73,865.48 L1244.88,864.91 L1246.03,865.46 L1247.19,865.31 L1248.34,866.80 L1249.49,866.44 L1250.63,866.95 L1251.78,868.32 L1252.92,868.26 L1254.05,868.75 L1255.18,870.12 L1256.30,870.24 L1257.42,871.38 L1258.53,871.45 L1259.63,872.64 L1260.72,873.50 L1261.80,873.77 L1262.87,875.27 L1263.93,875.02 L1264.98,875.86 L1266.02,876.75 L1267.04,877.94 L1268.05,878.14 L1269.05,878.86 L1270.04,879.97 L1271.02,881.23 L1271.99,881.30 L1272.95,881.73 L1273.90,883.08 L1274.85,884.26 L1275.78,884.58 L1276.70,885.74 L1277.62,885.70 L1278.53,887.42 L1279.43,888.32 L1280.32,889.44 L1281.21,890.18 L1282.09,891.27 L1282.97,891.37 L1283.84,893.02 L1284.70,892.88 L1285.56,894.26 L1286.42,895.93 L1287.27,896.73 L1288.12,896.43 L1288.96,898.45 L1289.80,898.91 L1290.64,899.68 L1291.47,901.04 L1292.31,901.94 L1293.14,903.43 L1293.97,903.09 L1294.80,904.47 L1295.63,905.53 L1296.45,905.70 L1297.28,907.98 L1298.11,909.18 L1298.94,909.03 L1299.77,910.41 L1300.60,911.05 L1301.43,912.21 L1302.27,912.71 L1303.10,914.31 L1303.94,914.33 L1304.79,916.38 L1305.63,916.84 L1306.48,918.68 L1307.33,917.75 L1308.19,919.36 L1309.05,919.72 L1309.91,921.13 L1310.77,922.29 L1311.64,922.57 L1312.52,923.22 L1313.39,923.97 L1314.27,925.73 L1315.15,927.08 L1316.04,927.90 L1316.93,928.26 L1317.82,928.67 L1318.72,929.80 L1319.62,930.14 L1320.53,930.95 L1321.43,932.99 L1322.35,933.22 L1323.27,934.32 L1324.19,934.89 L1325.11,936.43 L1326.04,937.30 L1326.98,937.12 L1327.92,938.11 L1328.86,938.78 L1329.81,940.47 L1330.76,941.23 L1331.72,941.33 L1332.68,943.28 L1333.64,943.03 L1334.61,943.24 L1335.59,943.63 L1336.57,945.24 L1337.56,946.20 L1338.55,946.53 L1339.54,947.70 L1340.54,948.80 L1341.55,948.96 L1342.56,950.09 L1343.57,951.17 L1344.59,951.35 L1345.61,951.57 L1346.64,952.73 L1347.67,953.47 L1348.70,954.88 L1349.74,954.41 L1350.78,954.59 L1351.82,956.11 L1352.87,956.80 L1353.91,957.14 L1354.96,958.26 L1356.02,958.82 L1357.07,959.89 L1358.13,959.64 L1359.19,960.37 L1360.25,961.35 L1361.31,961.80 L1362.37,963.27 L1363.43,963.64 L1364.49,964.04 L1365.56,965.41 L1366.62,965.62 L1367.69,966.53 L1368.75,967.12 L1369.82,967.37 L1370.89,968.05 L1371.95,968.79 L1373.02,968.97 L1374.10,969.97 L1375.17,971.17 L1376.25,971.58 L1377.33,971.66 L1378.41,973.79 L1379.50,972.89 L1380.59,974.25 L1381.68,974.90 L1382.78,975.75 L1383.88,975.37 L1384.98,976.34 L1386.09,976.80 L1387.21,977.96 L1388.32,978.16 L1389.44,978.70 L1390.56,979.27 L1391.69,980.42 L1392.82,980.34 L1393.95,980.93 L1395.09,980.59 L1396.23,981.79 L1397.37,981.37 L1398.52,982.81 L1399.67,982.89 L1400.82,982.86 L1401.98,983.16 L1403.14,984.05 L1404.30,984.55 L1405.46,984.63 L1406.63,985.12 L1407.80,985.50 L1408.97,985.77 L1410.15,986.28 L1411.33,986.84 L1412.51,987.64 L1413.69,987.68 L1414.88,987.46 L1416.07,988.76 L1417.26,988.87 L1418.45,988.53 L1419.65,989.40 L1420.85,988.98 L1422.05,989.16 L1423.25,989.45 L1424.46,990.77 L1425.67,990.36 L1426.87,990.69 L1428.09,990.82 L1429.30,990.84 L1430.52,991.47 L1431.73,991.78 L1432.95,992.58 L1434.17,991.53 L1435.40,992.80 L1436.62,992.61 L1437.85,991.73 L1439.08,993.13 L1440.31,993.60 L1441.54,993.54 L1442.77,993.33 L1444.01,993.45 L1445.24,992.65 L1446.48,993.84 L1447.72,993.92 L1448.96,993.57 L1450.20,994.21 L1451.45,993.96 L1452.69,995.40 L1453.93,993.96 L1455.18,994.23 L1456.43,993.77 L1457.68,994.68 L1458.93,995.01 L1460.18,995.07 L1461.43,994.88 L1462.68,995.65 L1463.93,995.46 L1465.19,995.98 L1466.44,995.48 L1467.69,994.82 L1468.95,995.63 L1470.21,995.32 L1471.46,996.22 L1472.72,995.65 L1473.98,995.88 L1475.24,996.05 L1476.49,995.44 L1477.75,996.01 L1479.01,996.64 L1480.27,996.05 L1481.53,996.29 L1482.79,996.49 L1484.05,996.17 L1485.31,996.39 L1486.57,996.77 L1487.83,996.46 L1489.09,996.70 L1490.34,996.66 L1491.60,996.30 L1492.86,996.24 L1494.12,997.75 L1495.38,997.53 L1496.64,996.90 L1497.89,997.43 L1499.15,997.54 L1500.41,997.52 L1501.66,996.97 L1502.92,996.54 L1504.17,996.66 L1505.43,997.17 L1506.68,997.93 L1507.93,998.07 L1509.18,997.31 L1510.43,997.32 L1511.68,998.06 L1512.93,998.49 L1514.18,997.21 L1515.43,997.89 L1516.67,997.80 L1517.92,997.64 L1519.16,997.70 L1520.41,997.76 L1521.65,997.97 L1522.89,997.34 L1524.12,998.10 L1525.36,998.52 L1526.60,998.58 L1527.83,998.67 L1529.06,998.54 L1530.30,998.55 L1531.53,999.42 L1532.75,998.55 L1533.98,998.79 L1535.20,999.37 L1536.43,998.92 L1537.65,998.42 L1538.87,998.86 L1540.08,999.01 L1541.30,999.25" fill="none" stroke="#c828d0" stroke-width="3.1" stroke-linejoin="round" stroke-linecap="round" clip-path="url(#ce)"/>
<path d="M1155.60,732.50 L1156.20,800.00 L1157.00,870.00 L1158.50,920.00 L1161.00,945.00 L1164.00,953.50 L1164.00,952.86 L1164.87,952.16 L1165.73,951.82 L1166.56,950.46 L1167.37,949.97 L1168.17,949.12 L1168.95,947.12 L1169.71,947.23 L1170.45,945.49 L1171.18,945.68 L1171.90,944.04 L1172.60,942.42 L1173.28,941.71 L1173.95,940.65 L1174.61,939.64 L1175.26,939.04 L1175.89,937.56 L1176.52,936.98 L1177.13,935.42 L1177.73,933.94 L1178.32,932.22 L1178.91,931.09 L1179.48,930.76 L1180.05,929.84 L1180.61,929.05 L1181.16,926.98 L1181.71,926.15 L1182.25,924.60 L1182.79,923.62 L1183.32,921.63 L1183.85,921.83 L1184.37,920.02 L1184.89,919.15 L1185.41,918.22 L1185.93,917.01 L1186.45,915.10 L1186.97,915.21 L1187.48,913.71 L1188.00,912.43 L1188.52,910.74 L1189.03,909.15 L1189.55,907.98 L1190.07,907.45 L1190.60,906.46 L1191.12,904.91 L1191.65,904.89 L1192.19,903.04 L1192.72,902.19 L1193.26,901.00 L1193.81,898.95 L1194.36,898.73 L1194.91,897.33 L1195.47,895.41 L1196.04,895.15 L1196.61,894.17 L1197.20,892.98 L1197.78,891.87 L1198.38,889.63 L1198.98,889.02 L1199.60,887.75 L1200.22,886.89 L1200.85,885.79 L1201.49,885.13 L1202.14,883.84 L1202.81,882.01 L1203.48,881.68 L1204.16,880.90 L1204.86,879.21 L1205.57,877.29 L1206.29,876.59 L1207.02,875.71 L1207.77,873.98 L1208.53,873.57 L1209.31,871.98 L1210.10,871.85 L1210.90,870.74 L1211.72,869.36 L1212.56,867.80 L1213.41,867.49 L1214.28,866.09 L1215.16,865.10 L1216.06,864.98 L1216.98,863.24 L1217.91,862.09 L1218.87,862.23 L1219.84,861.88 L1220.82,861.06 L1221.83,859.98 L1222.86,859.91 L1223.90,858.20 L1224.96,858.77 L1226.04,858.22 L1227.13,856.66 L1228.23,856.58 L1229.34,855.45 L1230.47,855.24 L1231.60,855.69 L1232.75,854.69 L1233.90,855.13 L1235.05,855.11 L1236.21,854.89 L1237.38,855.24 L1238.54,855.70 L1239.71,854.97 L1240.88,855.46 L1242.04,855.85 L1243.20,855.18 L1244.36,855.35 L1245.52,854.87 L1246.67,856.51 L1247.81,857.20 L1248.94,857.38 L1250.06,858.64 L1251.17,858.94 L1252.27,859.21 L1253.37,859.46 L1254.45,859.75 L1255.52,860.90 L1256.59,861.81 L1257.65,862.32 L1258.69,863.00 L1259.73,863.77 L1260.76,865.08 L1261.78,864.84 L1262.80,866.32 L1263.80,867.35 L1264.80,868.50 L1265.79,869.37 L1266.77,869.82 L1267.74,870.54 L1268.71,871.16 L1269.67,873.09 L1270.62,873.72 L1271.56,874.44 L1272.50,874.91 L1273.43,875.62 L1274.36,877.56 L1275.28,877.93 L1276.20,879.05 L1277.11,880.55 L1278.01,879.96 L1278.91,881.21 L1279.81,882.64 L1280.70,883.67 L1281.58,883.84 L1282.47,885.19 L1283.34,885.88 L1284.22,886.81 L1285.09,888.17 L1285.96,889.01 L1286.82,890.38 L1287.69,891.05 L1288.55,892.38 L1289.40,892.27 L1290.26,893.76 L1291.11,893.86 L1291.96,894.68 L1292.81,895.74 L1293.66,897.62 L1294.51,898.32 L1295.36,898.43 L1296.20,900.69 L1297.05,901.47 L1297.89,901.89 L1298.74,902.80 L1299.59,903.84 L1300.43,904.23 L1301.28,906.77 L1302.13,906.43 L1302.98,907.49 L1303.83,908.37 L1304.68,909.14 L1305.53,909.97 L1306.39,911.46 L1307.24,911.68 L1308.10,912.69 L1308.96,913.72 L1309.83,915.37 L1310.69,915.48 L1311.56,916.40 L1312.43,917.92 L1313.30,918.17 L1314.18,919.45 L1315.06,920.91 L1315.94,921.60 L1316.82,922.33 L1317.71,923.90 L1318.60,923.92 L1319.50,924.73 L1320.39,925.10 L1321.30,926.79 L1322.20,927.94 L1323.11,928.23 L1324.02,930.25 L1324.94,930.72 L1325.86,931.54 L1326.79,931.44 L1327.71,932.96 L1328.65,933.84 L1329.59,933.60 L1330.53,935.34 L1331.48,936.07 L1332.43,936.22 L1333.39,938.04 L1334.35,939.55 L1335.32,939.76 L1336.30,939.84 L1337.28,940.89 L1338.26,942.30 L1339.25,942.19 L1340.25,943.49 L1341.25,944.11 L1342.26,944.92 L1343.27,946.34 L1344.29,945.64 L1345.31,947.60 L1346.33,947.92 L1347.36,948.48 L1348.39,948.50 L1349.43,950.11 L1350.47,950.50 L1351.51,950.07 L1352.55,951.49 L1353.60,952.28 L1354.64,953.08 L1355.69,953.97 L1356.74,954.58 L1357.79,956.37 L1358.84,956.87 L1359.89,957.06 L1360.94,958.44 L1361.99,959.50 L1363.04,959.48 L1364.09,959.39 L1365.14,960.89 L1366.18,962.10 L1367.22,961.74 L1368.26,962.93 L1369.31,964.11 L1370.35,964.97 L1371.39,965.57 L1372.43,966.10 L1373.47,966.61 L1374.52,967.16 L1375.56,968.60 L1376.62,969.29 L1377.67,969.37 L1378.73,969.98 L1379.80,971.55 L1380.87,972.12 L1381.95,971.98 L1383.03,972.24 L1384.12,973.67 L1385.22,974.61 L1386.32,975.29 L1387.43,975.83 L1388.54,975.35 L1389.66,976.64 L1390.78,977.01 L1391.91,977.40 L1393.04,979.46 L1394.18,978.80 L1395.32,979.43 L1396.47,979.68 L1397.62,980.61 L1398.78,981.31 L1399.94,981.13 L1401.11,981.70 L1402.28,981.96 L1403.45,982.14 L1404.63,982.94 L1405.81,983.60 L1407.00,983.86 L1408.19,984.13 L1409.38,983.78 L1410.58,985.16 L1411.78,985.45 L1412.98,986.42 L1414.19,985.79 L1415.40,985.80 L1416.62,985.88 L1417.83,986.78 L1419.05,987.36 L1420.27,987.81 L1421.50,987.28 L1422.73,988.03 L1423.96,989.02 L1425.19,988.87 L1426.42,988.96 L1427.66,989.21 L1428.90,988.91 L1430.14,989.24 L1431.38,989.87 L1432.63,990.90 L1433.87,991.09 L1435.12,990.72 L1436.37,991.29 L1437.62,991.41 L1438.88,991.94 L1440.13,991.30 L1441.38,991.93 L1442.64,992.43 L1443.90,991.61 L1445.15,992.33 L1446.41,992.64 L1447.67,992.89 L1448.93,993.10 L1450.19,993.29 L1451.45,993.63 L1452.71,993.95 L1453.97,993.64 L1455.23,994.61 L1456.50,993.54 L1457.76,993.80 L1459.02,994.17 L1460.29,993.80 L1461.55,993.61 L1462.81,993.80 L1464.08,995.03 L1465.34,994.33 L1466.61,994.13 L1467.88,995.69 L1469.14,995.11 L1470.41,995.13 L1471.68,994.71 L1472.94,995.36 L1474.21,995.10 L1475.48,995.53 L1476.75,995.50 L1478.02,995.49 L1479.28,995.77 L1480.55,995.35 L1481.82,995.64 L1483.09,995.55 L1484.36,996.16 L1485.63,996.38 L1486.90,996.49 L1488.17,995.33 L1489.43,997.05 L1490.70,996.24 L1491.97,996.35 L1493.24,996.45 L1494.51,996.51 L1495.78,997.16 L1497.05,996.72 L1498.32,996.85 L1499.59,997.21 L1500.86,997.43 L1502.12,996.44 L1503.39,996.41 L1504.66,996.15 L1505.93,996.22 L1507.20,997.27 L1508.47,997.24 L1509.73,997.24 L1511.00,997.46 L1512.27,997.51 L1513.53,997.97 L1514.80,998.26 L1516.07,997.19 L1517.33,998.29 L1518.60,998.16 L1519.86,997.38 L1521.13,997.89 L1522.39,997.68 L1523.66,997.17 L1524.92,998.02 L1526.18,997.34 L1527.45,998.16 L1528.71,997.74 L1529.97,998.13 L1531.23,998.71 L1532.49,998.48 L1533.75,998.14 L1535.01,998.68 L1536.27,998.97 L1537.53,999.18 L1538.79,998.46 L1540.04,999.43 L1541.30,998.93" fill="none" stroke="#28dc3c" stroke-width="3.1" stroke-linejoin="round" stroke-linecap="round" clip-path="url(#ce)"/>
<path d="M1156.50,790.00 L1158.00,880.00 L1160.30,919.90 L1162.00,938.00 L1164.60,945.60 L1164.60,945.33 L1165.39,944.73 L1166.16,943.75 L1166.92,942.59 L1167.67,941.78 L1168.40,939.63 L1169.13,938.88 L1169.84,937.30 L1170.54,935.66 L1171.23,934.81 L1171.90,934.01 L1172.57,932.36 L1173.23,931.51 L1173.87,930.92 L1174.51,929.48 L1175.13,928.30 L1175.75,927.01 L1176.36,925.58 L1176.96,923.62 L1177.55,923.71 L1178.13,921.38 L1178.70,920.95 L1179.27,919.60 L1179.83,918.50 L1180.38,917.34 L1180.92,915.85 L1181.46,915.19 L1181.99,912.98 L1182.51,912.68 L1183.03,910.33 L1183.54,910.39 L1184.05,908.38 L1184.55,907.54 L1185.05,906.80 L1185.54,903.89 L1186.03,903.46 L1186.52,902.60 L1187.00,901.48 L1187.47,900.41 L1187.95,898.80 L1188.42,897.48 L1188.88,896.01 L1189.35,894.79 L1189.81,893.40 L1190.27,892.52 L1190.73,890.83 L1191.19,889.75 L1191.65,888.86 L1192.10,887.34 L1192.56,885.33 L1193.01,884.10 L1193.47,883.14 L1193.92,881.18 L1194.38,879.30 L1194.84,878.32 L1195.30,877.66 L1195.76,875.97 L1196.23,874.55 L1196.70,873.69 L1197.18,871.53 L1197.66,871.67 L1198.15,869.32 L1198.64,867.81 L1199.14,867.53 L1199.65,864.79 L1200.17,863.72 L1200.69,862.58 L1201.22,860.87 L1201.77,859.83 L1202.32,858.94 L1202.88,857.46 L1203.46,856.08 L1204.05,855.27 L1204.65,854.41 L1205.26,853.01 L1205.88,850.13 L1206.53,850.46 L1207.18,848.98 L1207.85,847.61 L1208.54,845.80 L1209.24,844.88 L1209.96,843.84 L1210.70,842.17 L1211.45,842.24 L1212.23,840.99 L1213.02,839.51 L1213.83,838.04 L1214.67,838.04 L1215.52,836.71 L1216.39,835.91 L1217.29,834.28 L1218.21,834.61 L1219.16,832.55 L1220.12,832.60 L1221.11,829.96 L1222.13,830.16 L1223.17,829.26 L1224.24,827.30 L1225.33,827.40 L1226.45,826.42 L1227.59,825.66 L1228.76,825.31 L1229.94,824.52 L1231.14,824.65 L1232.36,824.21 L1233.59,823.69 L1234.83,822.82 L1236.07,822.66 L1237.33,823.40 L1238.58,822.32 L1239.84,822.38 L1241.10,822.12 L1242.35,822.71 L1243.60,823.05 L1244.84,823.29 L1246.06,823.50 L1247.28,824.10 L1248.49,824.25 L1249.68,825.28 L1250.86,825.27 L1252.03,826.54 L1253.19,827.71 L1254.33,827.73 L1255.46,829.43 L1256.58,830.14 L1257.69,830.37 L1258.78,831.09 L1259.86,832.05 L1260.92,833.26 L1261.98,834.82 L1263.02,835.74 L1264.05,837.13 L1265.08,838.56 L1266.09,838.29 L1267.09,838.56 L1268.08,839.78 L1269.06,840.51 L1270.03,842.09 L1270.99,843.15 L1271.95,844.96 L1272.89,844.69 L1273.83,846.26 L1274.76,847.26 L1275.68,848.32 L1276.60,849.13 L1277.51,851.35 L1278.41,851.33 L1279.31,852.44 L1280.20,853.77 L1281.09,854.57 L1281.97,856.30 L1282.85,855.99 L1283.73,857.47 L1284.60,858.37 L1285.46,859.60 L1286.33,861.08 L1287.19,861.45 L1288.05,861.88 L1288.90,863.85 L1289.76,864.39 L1290.61,866.20 L1291.47,867.07 L1292.32,868.97 L1293.17,869.33 L1294.02,869.77 L1294.87,871.37 L1295.72,872.75 L1296.57,873.37 L1297.42,874.39 L1298.27,875.35 L1299.12,876.35 L1299.97,877.19 L1300.82,879.22 L1301.67,879.93 L1302.52,880.18 L1303.37,882.38 L1304.23,882.98 L1305.08,884.14 L1305.93,885.18 L1306.78,886.72 L1307.64,886.26 L1308.49,888.33 L1309.35,889.66 L1310.20,890.43 L1311.06,890.82 L1311.92,892.06 L1312.78,893.80 L1313.64,895.42 L1314.50,894.98 L1315.36,896.65 L1316.22,898.13 L1317.09,899.17 L1317.96,900.37 L1318.83,901.72 L1319.70,902.61 L1320.57,902.67 L1321.44,904.26 L1322.32,904.96 L1323.20,906.51 L1324.07,908.25 L1324.96,909.09 L1325.84,910.72 L1326.73,911.35 L1327.61,912.27 L1328.51,913.29 L1329.40,913.57 L1330.29,914.85 L1331.19,916.22 L1332.09,917.34 L1333.00,918.30 L1333.90,918.64 L1334.81,919.61 L1335.72,920.60 L1336.64,922.96 L1337.56,923.10 L1338.48,924.54 L1339.40,925.15 L1340.33,926.10 L1341.26,927.08 L1342.20,928.01 L1343.14,929.21 L1344.08,930.53 L1345.02,930.58 L1345.97,932.15 L1346.92,932.98 L1347.88,933.89 L1348.84,935.35 L1349.80,936.74 L1350.77,936.38 L1351.75,938.01 L1352.72,939.37 L1353.70,940.21 L1354.69,940.05 L1355.68,941.93 L1356.67,942.46 L1357.67,943.36 L1358.67,944.82 L1359.68,944.93 L1360.69,946.41 L1361.71,947.59 L1362.73,947.81 L1363.76,948.54 L1364.79,950.83 L1365.83,950.30 L1366.87,952.21 L1367.92,952.17 L1368.97,953.42 L1370.03,953.96 L1371.09,955.10 L1372.16,955.94 L1373.24,956.21 L1374.32,957.45 L1375.41,958.76 L1376.50,958.80 L1377.60,958.94 L1378.70,960.86 L1379.81,961.15 L1380.92,962.47 L1382.05,962.89 L1383.17,963.48 L1384.31,964.47 L1385.45,965.49 L1386.59,966.22 L1387.74,966.21 L1388.90,966.90 L1390.06,967.67 L1391.23,969.45 L1392.40,969.71 L1393.58,969.91 L1394.76,970.87 L1395.95,972.26 L1397.15,971.81 L1398.35,972.78 L1399.55,973.95 L1400.76,974.57 L1401.97,975.16 L1403.19,975.08 L1404.41,976.09 L1405.64,975.60 L1406.87,977.09 L1408.11,977.56 L1409.35,978.14 L1410.60,979.48 L1411.85,979.41 L1413.10,979.94 L1414.36,980.87 L1415.62,981.88 L1416.89,981.20 L1418.16,982.39 L1419.44,982.41 L1420.72,982.31 L1422.00,983.22 L1423.28,984.07 L1424.57,984.25 L1425.87,984.58 L1427.17,985.19 L1428.47,985.47 L1429.77,985.86 L1431.08,985.90 L1432.39,987.00 L1433.70,986.06 L1435.02,987.51 L1436.34,987.42 L1437.66,988.43 L1438.99,987.87 L1440.32,987.62 L1441.65,989.18 L1442.98,989.69 L1444.32,988.66 L1445.66,989.92 L1447.00,990.10 L1448.35,989.75 L1449.69,990.69 L1451.04,990.23 L1452.39,991.26 L1453.75,991.53 L1455.10,990.98 L1456.46,991.18 L1457.82,991.52 L1459.18,990.77 L1460.54,991.47 L1461.91,991.90 L1463.27,993.03 L1464.64,992.68 L1466.01,992.37 L1467.38,991.96 L1468.75,992.62 L1470.13,992.58 L1471.50,992.02 L1472.87,992.58 L1474.25,992.17 L1475.63,992.61 L1477.01,991.43 L1478.38,993.60 L1479.76,992.78 L1481.14,992.58 L1482.52,992.82 L1483.90,992.41 L1485.29,993.12 L1486.67,993.84 L1488.05,993.40 L1489.43,993.14 L1490.81,993.27 L1492.19,993.41 L1493.58,993.22 L1494.96,993.16 L1496.34,993.46 L1497.72,993.60 L1499.10,993.26 L1500.48,993.67 L1501.86,993.02 L1503.24,992.78 L1504.62,992.77 L1506.00,993.81 L1507.37,993.34 L1508.75,993.70 L1510.12,993.41 L1511.50,993.63 L1512.87,993.92 L1514.24,993.26 L1515.61,993.65 L1516.98,994.66 L1518.35,994.93 L1519.71,994.20 L1521.08,994.28 L1522.44,994.00 L1523.80,993.86 L1525.16,994.78 L1526.52,995.07 L1527.87,994.83 L1529.23,994.97 L1530.58,994.51 L1531.93,995.48 L1533.27,995.20 L1534.62,994.94 L1535.96,995.83 L1537.30,995.13 L1538.63,995.22 L1539.97,995.88 L1541.30,995.54" fill="none" stroke="#1464dc" stroke-width="3.1" stroke-linejoin="round" stroke-linecap="round" clip-path="url(#ce)"/>
<path d="M1155.20,642.50 L1156.90,682.80 L1158.40,757.60 L1159.50,860.00 L1161.40,913.50 L1164.00,918.80 L1164.00,919.30 L1164.62,917.36 L1165.23,915.37 L1165.84,913.45 L1166.44,911.56 L1167.03,910.82 L1167.62,908.84 L1168.19,907.20 L1168.77,905.88 L1169.33,904.34 L1169.89,901.72 L1170.45,901.55 L1170.99,898.60 L1171.54,898.72 L1172.07,896.53 L1172.60,894.42 L1173.13,893.61 L1173.65,891.38 L1174.17,890.05 L1174.68,888.15 L1175.19,886.96 L1175.69,885.31 L1176.19,882.78 L1176.68,881.27 L1177.17,880.06 L1177.66,878.17 L1178.14,875.59 L1178.62,875.88 L1179.10,872.34 L1179.57,870.73 L1180.04,869.45 L1180.51,868.62 L1180.97,867.53 L1181.44,864.96 L1181.90,863.23 L1182.35,861.83 L1182.81,859.94 L1183.27,858.48 L1183.72,856.28 L1184.17,855.33 L1184.62,853.65 L1185.07,850.72 L1185.51,850.11 L1185.96,848.58 L1186.41,847.10 L1186.85,844.82 L1187.30,842.93 L1187.74,841.44 L1188.19,840.46 L1188.63,838.17 L1189.08,836.56 L1189.52,835.76 L1189.97,833.23 L1190.41,831.53 L1190.86,830.24 L1191.31,828.71 L1191.76,827.44 L1192.21,824.92 L1192.66,822.96 L1193.12,821.96 L1193.57,820.65 L1194.03,818.04 L1194.49,816.84 L1194.95,815.55 L1195.41,813.87 L1195.88,812.15 L1196.34,810.36 L1196.81,808.47 L1197.29,806.76 L1197.76,806.06 L1198.24,803.39 L1198.72,802.81 L1199.21,800.03 L1199.69,800.29 L1200.18,796.56 L1200.68,796.43 L1201.18,793.67 L1201.68,792.38 L1202.18,790.77 L1202.69,788.88 L1203.21,788.55 L1203.73,785.96 L1204.25,783.69 L1204.77,782.95 L1205.31,781.36 L1205.84,778.90 L1206.38,778.04 L1206.93,776.21 L1207.48,774.93 L1208.03,773.26 L1208.60,771.32 L1209.16,769.53 L1209.73,768.51 L1210.31,766.63 L1210.90,764.21 L1211.49,763.03 L1212.08,761.46 L1212.70,759.96 L1213.32,759.51 L1213.96,756.72 L1214.62,755.52 L1215.29,754.47 L1215.99,752.38 L1216.72,750.78 L1217.47,749.62 L1218.25,747.58 L1219.06,746.04 L1219.91,744.74 L1220.79,743.10 L1221.71,741.10 L1222.67,739.40 L1223.67,738.40 L1224.71,737.63 L1225.80,735.49 L1226.92,734.75 L1228.09,733.12 L1229.29,731.58 L1230.53,729.40 L1231.81,729.66 L1233.12,728.52 L1234.47,727.15 L1235.85,727.46 L1237.26,726.73 L1238.71,726.58 L1240.18,726.00 L1241.69,726.41 L1243.21,726.33 L1244.73,727.41 L1246.25,727.53 L1247.74,727.52 L1249.21,729.06 L1250.64,729.92 L1252.01,730.83 L1253.31,731.44 L1254.55,733.73 L1255.73,734.19 L1256.87,736.56 L1257.97,736.91 L1259.04,738.62 L1260.10,739.99 L1261.14,741.49 L1262.18,744.01 L1263.22,743.99 L1264.26,746.52 L1265.30,747.23 L1266.33,748.00 L1267.37,750.23 L1268.39,751.40 L1269.41,752.79 L1270.42,753.11 L1271.43,755.29 L1272.42,756.24 L1273.41,757.71 L1274.38,759.08 L1275.34,760.54 L1276.29,762.62 L1277.22,763.47 L1278.14,763.88 L1279.05,766.68 L1279.95,767.58 L1280.84,769.04 L1281.71,769.60 L1282.58,772.05 L1283.43,773.10 L1284.27,775.22 L1285.11,776.47 L1285.93,778.12 L1286.75,779.07 L1287.56,779.91 L1288.36,782.67 L1289.15,783.93 L1289.93,785.10 L1290.71,786.52 L1291.47,787.89 L1292.24,789.03 L1292.99,790.83 L1293.74,792.87 L1294.48,795.16 L1295.22,796.19 L1295.96,798.26 L1296.69,798.64 L1297.41,801.22 L1298.13,802.03 L1298.85,804.44 L1299.56,805.90 L1300.27,806.93 L1300.98,808.55 L1301.69,810.61 L1302.39,811.28 L1303.09,812.24 L1303.79,815.16 L1304.49,817.35 L1305.19,817.10 L1305.89,819.63 L1306.59,820.58 L1307.29,822.56 L1307.99,823.82 L1308.69,826.24 L1309.40,827.18 L1310.10,828.91 L1310.81,830.09 L1311.52,832.48 L1312.23,833.49 L1312.95,835.11 L1313.66,836.82 L1314.39,837.76 L1315.11,839.96 L1315.84,840.80 L1316.58,842.98 L1317.32,844.53 L1318.07,845.99 L1318.82,847.62 L1319.58,848.95 L1320.34,851.01 L1321.11,852.31 L1321.89,853.62 L1322.67,855.24 L1323.46,856.55 L1324.26,858.31 L1325.06,859.73 L1325.87,860.56 L1326.68,863.61 L1327.50,864.16 L1328.32,865.55 L1329.15,867.47 L1329.99,867.88 L1330.83,870.12 L1331.68,871.91 L1332.53,873.13 L1333.39,874.74 L1334.25,875.98 L1335.12,877.47 L1335.99,879.08 L1336.87,880.62 L1337.76,881.51 L1338.65,883.58 L1339.54,885.03 L1340.44,886.07 L1341.35,887.53 L1342.26,889.28 L1343.17,891.18 L1344.09,892.58 L1345.02,893.15 L1345.95,894.71 L1346.88,896.13 L1347.82,897.98 L1348.76,899.16 L1349.71,900.80 L1350.67,902.63 L1351.62,903.59 L1352.59,905.08 L1353.55,906.47 L1354.53,907.38 L1355.50,909.07 L1356.48,910.44 L1357.47,911.72 L1358.45,914.04 L1359.45,915.02 L1360.45,914.96 L1361.45,917.21 L1362.45,918.94 L1363.46,920.38 L1364.48,921.41 L1365.49,923.04 L1366.51,924.41 L1367.54,925.78 L1368.57,927.67 L1369.61,928.76 L1370.65,929.92 L1371.69,931.44 L1372.74,932.95 L1373.80,933.84 L1374.87,935.46 L1375.94,937.35 L1377.03,938.88 L1378.12,938.72 L1379.22,942.23 L1380.33,942.17 L1381.45,944.14 L1382.58,944.47 L1383.72,946.69 L1384.87,947.67 L1386.04,948.88 L1387.21,950.03 L1388.40,951.28 L1389.61,952.94 L1390.82,953.47 L1392.05,954.87 L1393.30,955.96 L1394.56,956.54 L1395.84,958.43 L1397.13,959.46 L1398.44,960.33 L1399.77,960.98 L1401.11,962.46 L1402.47,963.54 L1403.85,964.57 L1405.25,965.54 L1406.67,965.89 L1408.11,967.78 L1409.57,968.53 L1411.04,969.36 L1412.53,970.01 L1414.04,971.17 L1415.57,971.66 L1417.11,972.57 L1418.66,972.91 L1420.23,973.52 L1421.81,974.40 L1423.40,974.44 L1425.00,975.28 L1426.61,976.08 L1428.23,976.31 L1429.85,976.04 L1431.49,977.44 L1433.13,977.90 L1434.77,979.15 L1436.42,978.42 L1438.07,979.43 L1439.73,980.99 L1441.39,979.68 L1443.05,981.09 L1444.71,981.39 L1446.37,981.35 L1448.04,982.57 L1449.70,982.59 L1451.37,982.19 L1453.04,983.55 L1454.71,983.62 L1456.38,985.10 L1458.06,985.00 L1459.73,984.87 L1461.41,985.83 L1463.09,986.95 L1464.77,985.86 L1466.45,986.33 L1468.13,987.06 L1469.81,987.46 L1471.50,987.82 L1473.18,987.38 L1474.87,988.40 L1476.56,988.12 L1478.25,988.58 L1479.94,989.61 L1481.63,989.15 L1483.32,990.01 L1485.01,989.84 L1486.71,990.31 L1488.40,990.55 L1490.10,991.00 L1491.80,991.27 L1493.50,990.83 L1495.20,992.13 L1496.90,991.86 L1498.60,992.23 L1500.30,992.44 L1502.00,991.98 L1503.70,992.35 L1505.41,992.59 L1507.11,992.86 L1508.82,993.67 L1510.52,993.90 L1512.23,994.78 L1513.94,994.21 L1515.64,994.29 L1517.35,993.65 L1519.06,993.45 L1520.77,993.97 L1522.48,993.97 L1524.19,993.77 L1525.90,994.24 L1527.61,994.66 L1529.32,994.61 L1531.03,995.10 L1532.74,995.08 L1534.45,995.11 L1536.16,995.58 L1537.88,995.07 L1539.59,995.25 L1541.30,995.96" fill="none" stroke="#dc0000" stroke-width="3.1" stroke-linejoin="round" stroke-linecap="round" clip-path="url(#ce)"/>
</svg>
</body></html>
